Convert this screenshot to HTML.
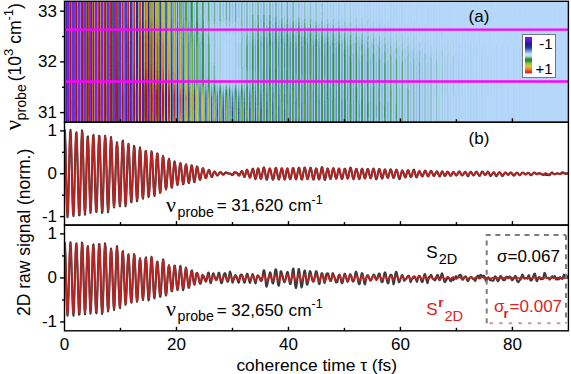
<!DOCTYPE html><html><head><meta charset="utf-8"><style>html,body{margin:0;padding:0;background:#fff;width:571px;height:374px;overflow:hidden}svg{display:block}text{font-family:"Liberation Sans",sans-serif;fill:#000}.r{fill:#dc1e1e}.s{font-family:"Liberation Serif",serif}</style></head><body>
<svg width="571" height="374" viewBox="0 0 571 374">
<defs>
<linearGradient id="cg" gradientUnits="userSpaceOnUse" x1="64" x2="570" gradientTransform="translate(0.25,0)">
<stop offset="0.0005" stop-color="#e6e6e6"/>
<stop offset="0.0015" stop-color="#f2f2f2"/>
<stop offset="0.0025" stop-color="#d8d8d8"/>
<stop offset="0.0035" stop-color="#a2a2a2"/>
<stop offset="0.0044" stop-color="#5e5e5e"/>
<stop offset="0.0054" stop-color="#1f1f1f"/>
<stop offset="0.0064" stop-color="#000000"/>
<stop offset="0.0074" stop-color="#000000"/>
<stop offset="0.0084" stop-color="#181818"/>
<stop offset="0.0094" stop-color="#535353"/>
<stop offset="0.0104" stop-color="#989898"/>
<stop offset="0.0114" stop-color="#d2d2d2"/>
<stop offset="0.0124" stop-color="#f0f0f0"/>
<stop offset="0.0133" stop-color="#eaeaea"/>
<stop offset="0.0143" stop-color="#c3c3c3"/>
<stop offset="0.0153" stop-color="#868686"/>
<stop offset="0.0163" stop-color="#434343"/>
<stop offset="0.0173" stop-color="#0d0d0d"/>
<stop offset="0.0183" stop-color="#000000"/>
<stop offset="0.0193" stop-color="#000000"/>
<stop offset="0.0203" stop-color="#292929"/>
<stop offset="0.0212" stop-color="#686868"/>
<stop offset="0.0222" stop-color="#aaaaaa"/>
<stop offset="0.0232" stop-color="#dddddd"/>
<stop offset="0.0242" stop-color="#f2f2f2"/>
<stop offset="0.0252" stop-color="#e4e4e4"/>
<stop offset="0.0262" stop-color="#b6b6b6"/>
<stop offset="0.0272" stop-color="#757575"/>
<stop offset="0.0282" stop-color="#343434"/>
<stop offset="0.0292" stop-color="#040404"/>
<stop offset="0.0301" stop-color="#000000"/>
<stop offset="0.0311" stop-color="#060606"/>
<stop offset="0.0321" stop-color="#373737"/>
<stop offset="0.0331" stop-color="#787878"/>
<stop offset="0.0341" stop-color="#b8b8b8"/>
<stop offset="0.0351" stop-color="#e5e5e5"/>
<stop offset="0.0361" stop-color="#f2f2f2"/>
<stop offset="0.0371" stop-color="#d9d9d9"/>
<stop offset="0.0380" stop-color="#a1a1a1"/>
<stop offset="0.0390" stop-color="#5b5b5b"/>
<stop offset="0.0400" stop-color="#1c1c1c"/>
<stop offset="0.0410" stop-color="#000000"/>
<stop offset="0.0420" stop-color="#000000"/>
<stop offset="0.0430" stop-color="#1f1f1f"/>
<stop offset="0.0440" stop-color="#5e5e5e"/>
<stop offset="0.0450" stop-color="#a4a4a4"/>
<stop offset="0.0459" stop-color="#dbdbdb"/>
<stop offset="0.0469" stop-color="#f2f2f2"/>
<stop offset="0.0479" stop-color="#e2e2e2"/>
<stop offset="0.0489" stop-color="#aeaeae"/>
<stop offset="0.0499" stop-color="#686868"/>
<stop offset="0.0509" stop-color="#252525"/>
<stop offset="0.0519" stop-color="#000000"/>
<stop offset="0.0529" stop-color="#000000"/>
<stop offset="0.0539" stop-color="#1a1a1a"/>
<stop offset="0.0548" stop-color="#595959"/>
<stop offset="0.0558" stop-color="#a1a1a1"/>
<stop offset="0.0568" stop-color="#dadada"/>
<stop offset="0.0578" stop-color="#f2f2f2"/>
<stop offset="0.0588" stop-color="#e4e4e4"/>
<stop offset="0.0598" stop-color="#b7b7b7"/>
<stop offset="0.0608" stop-color="#777777"/>
<stop offset="0.0618" stop-color="#363636"/>
<stop offset="0.0627" stop-color="#060606"/>
<stop offset="0.0637" stop-color="#000000"/>
<stop offset="0.0647" stop-color="#040404"/>
<stop offset="0.0657" stop-color="#333333"/>
<stop offset="0.0667" stop-color="#747474"/>
<stop offset="0.0677" stop-color="#b4b4b4"/>
<stop offset="0.0687" stop-color="#e2e2e2"/>
<stop offset="0.0697" stop-color="#f2f2f2"/>
<stop offset="0.0707" stop-color="#dfdfdf"/>
<stop offset="0.0716" stop-color="#aeaeae"/>
<stop offset="0.0726" stop-color="#6d6d6d"/>
<stop offset="0.0736" stop-color="#2d2d2d"/>
<stop offset="0.0746" stop-color="#010101"/>
<stop offset="0.0756" stop-color="#000000"/>
<stop offset="0.0766" stop-color="#090909"/>
<stop offset="0.0776" stop-color="#3c3c3c"/>
<stop offset="0.0786" stop-color="#7e7e7e"/>
<stop offset="0.0795" stop-color="#bcbcbc"/>
<stop offset="0.0805" stop-color="#e7e7e7"/>
<stop offset="0.0815" stop-color="#f2f2f2"/>
<stop offset="0.0825" stop-color="#d9d9d9"/>
<stop offset="0.0835" stop-color="#a5a5a5"/>
<stop offset="0.0845" stop-color="#636363"/>
<stop offset="0.0855" stop-color="#252525"/>
<stop offset="0.0865" stop-color="#000000"/>
<stop offset="0.0875" stop-color="#000000"/>
<stop offset="0.0884" stop-color="#0f0f0f"/>
<stop offset="0.0894" stop-color="#454545"/>
<stop offset="0.0904" stop-color="#888888"/>
<stop offset="0.0914" stop-color="#c4c4c4"/>
<stop offset="0.0924" stop-color="#ebebeb"/>
<stop offset="0.0934" stop-color="#f0f0f0"/>
<stop offset="0.0944" stop-color="#d3d3d3"/>
<stop offset="0.0954" stop-color="#9b9b9b"/>
<stop offset="0.0963" stop-color="#595959"/>
<stop offset="0.0973" stop-color="#1d1d1d"/>
<stop offset="0.0983" stop-color="#000000"/>
<stop offset="0.0993" stop-color="#000000"/>
<stop offset="0.1003" stop-color="#161616"/>
<stop offset="0.1013" stop-color="#4f4f4f"/>
<stop offset="0.1023" stop-color="#929292"/>
<stop offset="0.1033" stop-color="#cccccc"/>
<stop offset="0.1042" stop-color="#eeeeee"/>
<stop offset="0.1052" stop-color="#eeeeee"/>
<stop offset="0.1062" stop-color="#cacaca"/>
<stop offset="0.1072" stop-color="#8e8e8e"/>
<stop offset="0.1082" stop-color="#4a4a4a"/>
<stop offset="0.1092" stop-color="#121212"/>
<stop offset="0.1102" stop-color="#000000"/>
<stop offset="0.1112" stop-color="#000000"/>
<stop offset="0.1122" stop-color="#262626"/>
<stop offset="0.1131" stop-color="#656565"/>
<stop offset="0.1141" stop-color="#a8a8a8"/>
<stop offset="0.1151" stop-color="#dcdcdc"/>
<stop offset="0.1161" stop-color="#f2f2f2"/>
<stop offset="0.1171" stop-color="#e2e2e2"/>
<stop offset="0.1181" stop-color="#b0b0b0"/>
<stop offset="0.1191" stop-color="#6c6c6c"/>
<stop offset="0.1201" stop-color="#292929"/>
<stop offset="0.1210" stop-color="#000000"/>
<stop offset="0.1220" stop-color="#000000"/>
<stop offset="0.1230" stop-color="#171717"/>
<stop offset="0.1240" stop-color="#545454"/>
<stop offset="0.1250" stop-color="#9c9c9c"/>
<stop offset="0.1260" stop-color="#d9d9d9"/>
<stop offset="0.1270" stop-color="#f9f9f9"/>
<stop offset="0.1280" stop-color="#f3f3f3"/>
<stop offset="0.1290" stop-color="#cbcbcb"/>
<stop offset="0.1299" stop-color="#8d8d8d"/>
<stop offset="0.1309" stop-color="#4b4b4b"/>
<stop offset="0.1319" stop-color="#181818"/>
<stop offset="0.1329" stop-color="#040404"/>
<stop offset="0.1339" stop-color="#141414"/>
<stop offset="0.1349" stop-color="#444444"/>
<stop offset="0.1359" stop-color="#878787"/>
<stop offset="0.1369" stop-color="#cacaca"/>
<stop offset="0.1378" stop-color="#fafafa"/>
<stop offset="0.1388" stop-color="#ffffff"/>
<stop offset="0.1398" stop-color="#f6f6f6"/>
<stop offset="0.1408" stop-color="#c3c3c3"/>
<stop offset="0.1418" stop-color="#818181"/>
<stop offset="0.1428" stop-color="#434343"/>
<stop offset="0.1438" stop-color="#1b1b1b"/>
<stop offset="0.1448" stop-color="#151515"/>
<stop offset="0.1458" stop-color="#333333"/>
<stop offset="0.1467" stop-color="#6d6d6d"/>
<stop offset="0.1477" stop-color="#b2b2b2"/>
<stop offset="0.1487" stop-color="#f0f0f0"/>
<stop offset="0.1497" stop-color="#ffffff"/>
<stop offset="0.1507" stop-color="#ffffff"/>
<stop offset="0.1517" stop-color="#f4f4f4"/>
<stop offset="0.1527" stop-color="#b9b9b9"/>
<stop offset="0.1537" stop-color="#767676"/>
<stop offset="0.1546" stop-color="#3e3e3e"/>
<stop offset="0.1556" stop-color="#222222"/>
<stop offset="0.1566" stop-color="#292929"/>
<stop offset="0.1576" stop-color="#525252"/>
<stop offset="0.1586" stop-color="#929292"/>
<stop offset="0.1596" stop-color="#d5d5d5"/>
<stop offset="0.1606" stop-color="#ffffff"/>
<stop offset="0.1616" stop-color="#ffffff"/>
<stop offset="0.1625" stop-color="#ffffff"/>
<stop offset="0.1635" stop-color="#e1e1e1"/>
<stop offset="0.1645" stop-color="#9f9f9f"/>
<stop offset="0.1655" stop-color="#5e5e5e"/>
<stop offset="0.1665" stop-color="#2f2f2f"/>
<stop offset="0.1675" stop-color="#202020"/>
<stop offset="0.1685" stop-color="#363636"/>
<stop offset="0.1695" stop-color="#6a6a6a"/>
<stop offset="0.1705" stop-color="#adadad"/>
<stop offset="0.1714" stop-color="#ededed"/>
<stop offset="0.1724" stop-color="#ffffff"/>
<stop offset="0.1734" stop-color="#ffffff"/>
<stop offset="0.1744" stop-color="#ffffff"/>
<stop offset="0.1754" stop-color="#c5c5c5"/>
<stop offset="0.1764" stop-color="#808080"/>
<stop offset="0.1774" stop-color="#444444"/>
<stop offset="0.1784" stop-color="#232323"/>
<stop offset="0.1793" stop-color="#272727"/>
<stop offset="0.1803" stop-color="#4e4e4e"/>
<stop offset="0.1813" stop-color="#8e8e8e"/>
<stop offset="0.1823" stop-color="#d3d3d3"/>
<stop offset="0.1833" stop-color="#ffffff"/>
<stop offset="0.1843" stop-color="#ffffff"/>
<stop offset="0.1853" stop-color="#ffffff"/>
<stop offset="0.1863" stop-color="#e1e1e1"/>
<stop offset="0.1873" stop-color="#9f9f9f"/>
<stop offset="0.1882" stop-color="#5e5e5e"/>
<stop offset="0.1892" stop-color="#2f2f2f"/>
<stop offset="0.1902" stop-color="#202020"/>
<stop offset="0.1912" stop-color="#363636"/>
<stop offset="0.1922" stop-color="#6a6a6a"/>
<stop offset="0.1932" stop-color="#adadad"/>
<stop offset="0.1942" stop-color="#ededed"/>
<stop offset="0.1952" stop-color="#ffffff"/>
<stop offset="0.1961" stop-color="#ffffff"/>
<stop offset="0.1971" stop-color="#ffffff"/>
<stop offset="0.1981" stop-color="#cbcbcb"/>
<stop offset="0.1991" stop-color="#888888"/>
<stop offset="0.2001" stop-color="#4b4b4b"/>
<stop offset="0.2011" stop-color="#262626"/>
<stop offset="0.2021" stop-color="#232323"/>
<stop offset="0.2031" stop-color="#424242"/>
<stop offset="0.2041" stop-color="#7b7b7b"/>
<stop offset="0.2050" stop-color="#bebebe"/>
<stop offset="0.2060" stop-color="#f8f8f8"/>
<stop offset="0.2070" stop-color="#ffffff"/>
<stop offset="0.2080" stop-color="#ffffff"/>
<stop offset="0.2090" stop-color="#f4f4f4"/>
<stop offset="0.2100" stop-color="#b5b5b5"/>
<stop offset="0.2110" stop-color="#6f6f6f"/>
<stop offset="0.2120" stop-color="#373737"/>
<stop offset="0.2129" stop-color="#202020"/>
<stop offset="0.2139" stop-color="#303030"/>
<stop offset="0.2149" stop-color="#626262"/>
<stop offset="0.2159" stop-color="#a7a7a7"/>
<stop offset="0.2169" stop-color="#e9e9e9"/>
<stop offset="0.2179" stop-color="#ffffff"/>
<stop offset="0.2189" stop-color="#ffffff"/>
<stop offset="0.2199" stop-color="#ffffff"/>
<stop offset="0.2208" stop-color="#c8c8c8"/>
<stop offset="0.2218" stop-color="#848484"/>
<stop offset="0.2228" stop-color="#484848"/>
<stop offset="0.2238" stop-color="#252525"/>
<stop offset="0.2248" stop-color="#252525"/>
<stop offset="0.2258" stop-color="#484848"/>
<stop offset="0.2268" stop-color="#848484"/>
<stop offset="0.2278" stop-color="#c8c8c8"/>
<stop offset="0.2288" stop-color="#ffffff"/>
<stop offset="0.2297" stop-color="#ffffff"/>
<stop offset="0.2307" stop-color="#ffffff"/>
<stop offset="0.2317" stop-color="#e9e9e9"/>
<stop offset="0.2327" stop-color="#a7a7a7"/>
<stop offset="0.2337" stop-color="#626262"/>
<stop offset="0.2347" stop-color="#303030"/>
<stop offset="0.2357" stop-color="#202020"/>
<stop offset="0.2367" stop-color="#373737"/>
<stop offset="0.2376" stop-color="#6f6f6f"/>
<stop offset="0.2386" stop-color="#b5b5b5"/>
<stop offset="0.2396" stop-color="#f4f4f4"/>
<stop offset="0.2406" stop-color="#ffffff"/>
<stop offset="0.2416" stop-color="#ffffff"/>
<stop offset="0.2426" stop-color="#f6f6f6"/>
<stop offset="0.2436" stop-color="#b8b8b8"/>
<stop offset="0.2446" stop-color="#737373"/>
<stop offset="0.2456" stop-color="#3b3b3b"/>
<stop offset="0.2465" stop-color="#212121"/>
<stop offset="0.2475" stop-color="#2c2c2c"/>
<stop offset="0.2485" stop-color="#5a5a5a"/>
<stop offset="0.2495" stop-color="#9c9c9c"/>
<stop offset="0.2505" stop-color="#dfdfdf"/>
<stop offset="0.2515" stop-color="#ffffff"/>
<stop offset="0.2525" stop-color="#ffffff"/>
<stop offset="0.2535" stop-color="#ffffff"/>
<stop offset="0.2544" stop-color="#cbcbcb"/>
<stop offset="0.2554" stop-color="#828282"/>
<stop offset="0.2564" stop-color="#434343"/>
<stop offset="0.2574" stop-color="#222222"/>
<stop offset="0.2584" stop-color="#2a2a2a"/>
<stop offset="0.2594" stop-color="#595959"/>
<stop offset="0.2604" stop-color="#9f9f9f"/>
<stop offset="0.2614" stop-color="#e5e5e5"/>
<stop offset="0.2624" stop-color="#ffffff"/>
<stop offset="0.2633" stop-color="#ffffff"/>
<stop offset="0.2643" stop-color="#ffffff"/>
<stop offset="0.2653" stop-color="#c8c8c8"/>
<stop offset="0.2663" stop-color="#848484"/>
<stop offset="0.2673" stop-color="#484848"/>
<stop offset="0.2683" stop-color="#252525"/>
<stop offset="0.2693" stop-color="#242424"/>
<stop offset="0.2703" stop-color="#474747"/>
<stop offset="0.2712" stop-color="#838383"/>
<stop offset="0.2722" stop-color="#c6c6c6"/>
<stop offset="0.2732" stop-color="#fefefe"/>
<stop offset="0.2742" stop-color="#ffffff"/>
<stop offset="0.2752" stop-color="#ffffff"/>
<stop offset="0.2762" stop-color="#eaeaea"/>
<stop offset="0.2772" stop-color="#ababab"/>
<stop offset="0.2782" stop-color="#686868"/>
<stop offset="0.2792" stop-color="#333333"/>
<stop offset="0.2801" stop-color="#1a1a1a"/>
<stop offset="0.2811" stop-color="#242424"/>
<stop offset="0.2821" stop-color="#4e4e4e"/>
<stop offset="0.2831" stop-color="#8d8d8d"/>
<stop offset="0.2841" stop-color="#cecece"/>
<stop offset="0.2851" stop-color="#ffffff"/>
<stop offset="0.2861" stop-color="#ffffff"/>
<stop offset="0.2871" stop-color="#ffffff"/>
<stop offset="0.2880" stop-color="#d4d4d4"/>
<stop offset="0.2890" stop-color="#909090"/>
<stop offset="0.2900" stop-color="#4d4d4d"/>
<stop offset="0.2910" stop-color="#1f1f1f"/>
<stop offset="0.2920" stop-color="#131313"/>
<stop offset="0.2930" stop-color="#2d2d2d"/>
<stop offset="0.2940" stop-color="#646464"/>
<stop offset="0.2950" stop-color="#a8a8a8"/>
<stop offset="0.2959" stop-color="#e6e6e6"/>
<stop offset="0.2969" stop-color="#ffffff"/>
<stop offset="0.2979" stop-color="#ffffff"/>
<stop offset="0.2989" stop-color="#e4e4e4"/>
<stop offset="0.2999" stop-color="#a6a6a6"/>
<stop offset="0.3009" stop-color="#606060"/>
<stop offset="0.3019" stop-color="#272727"/>
<stop offset="0.3029" stop-color="#0d0d0d"/>
<stop offset="0.3039" stop-color="#171717"/>
<stop offset="0.3048" stop-color="#444444"/>
<stop offset="0.3058" stop-color="#868686"/>
<stop offset="0.3068" stop-color="#c9c9c9"/>
<stop offset="0.3078" stop-color="#f9f9f9"/>
<stop offset="0.3088" stop-color="#ffffff"/>
<stop offset="0.3098" stop-color="#f3f3f3"/>
<stop offset="0.3108" stop-color="#c4c4c4"/>
<stop offset="0.3118" stop-color="#858585"/>
<stop offset="0.3127" stop-color="#474747"/>
<stop offset="0.3137" stop-color="#191919"/>
<stop offset="0.3147" stop-color="#060606"/>
<stop offset="0.3157" stop-color="#141414"/>
<stop offset="0.3167" stop-color="#3f3f3f"/>
<stop offset="0.3177" stop-color="#7c7c7c"/>
<stop offset="0.3187" stop-color="#bbbbbb"/>
<stop offset="0.3197" stop-color="#ededed"/>
<stop offset="0.3207" stop-color="#ffffff"/>
<stop offset="0.3216" stop-color="#fcfcfc"/>
<stop offset="0.3226" stop-color="#d6d6d6"/>
<stop offset="0.3236" stop-color="#9b9b9b"/>
<stop offset="0.3246" stop-color="#5b5b5b"/>
<stop offset="0.3256" stop-color="#262626"/>
<stop offset="0.3266" stop-color="#ffffff"/>
<stop offset="0.3276" stop-color="#ffffff"/>
<stop offset="0.3286" stop-color="#dedede"/>
<stop offset="0.3295" stop-color="#a6a6a6"/>
<stop offset="0.3305" stop-color="#666666"/>
<stop offset="0.3315" stop-color="#2e2e2e"/>
<stop offset="0.3325" stop-color="#0c0c0c"/>
<stop offset="0.3335" stop-color="#090909"/>
<stop offset="0.3345" stop-color="#262626"/>
<stop offset="0.3355" stop-color="#5b5b5b"/>
<stop offset="0.3365" stop-color="#9b9b9b"/>
<stop offset="0.3375" stop-color="#d5d5d5"/>
<stop offset="0.3384" stop-color="#fcfcfc"/>
<stop offset="0.3394" stop-color="#ffffff"/>
<stop offset="0.3404" stop-color="#ececec"/>
<stop offset="0.3414" stop-color="#bbbbbb"/>
<stop offset="0.3424" stop-color="#7b7b7b"/>
<stop offset="0.3434" stop-color="#3f3f3f"/>
<stop offset="0.3444" stop-color="#141414"/>
<stop offset="0.3454" stop-color="#060606"/>
<stop offset="0.3463" stop-color="#191919"/>
<stop offset="0.3473" stop-color="#474747"/>
<stop offset="0.3483" stop-color="#858585"/>
<stop offset="0.3493" stop-color="#c3c3c3"/>
<stop offset="0.3503" stop-color="#f2f2f2"/>
<stop offset="0.3513" stop-color="#ffffff"/>
<stop offset="0.3523" stop-color="#f3f3f3"/>
<stop offset="0.3533" stop-color="#bababa"/>
<stop offset="0.3542" stop-color="#6f6f6f"/>
<stop offset="0.3552" stop-color="#2b2b2b"/>
<stop offset="0.3562" stop-color="#080808"/>
<stop offset="0.3572" stop-color="#111111"/>
<stop offset="0.3582" stop-color="#434343"/>
<stop offset="0.3592" stop-color="#8d8d8d"/>
<stop offset="0.3602" stop-color="#d4d4d4"/>
<stop offset="0.3612" stop-color="#ffffff"/>
<stop offset="0.3622" stop-color="#ffffff"/>
<stop offset="0.3631" stop-color="#dddddd"/>
<stop offset="0.3641" stop-color="#a1a1a1"/>
<stop offset="0.3651" stop-color="#5d5d5d"/>
<stop offset="0.3661" stop-color="#242424"/>
<stop offset="0.3671" stop-color="#080808"/>
<stop offset="0.3681" stop-color="#0f0f0f"/>
<stop offset="0.3691" stop-color="#383838"/>
<stop offset="0.3701" stop-color="#787878"/>
<stop offset="0.3710" stop-color="#bbbbbb"/>
<stop offset="0.3720" stop-color="#efefef"/>
<stop offset="0.3730" stop-color="#ffffff"/>
<stop offset="0.3740" stop-color="#f3f3f3"/>
<stop offset="0.3750" stop-color="#bcbcbc"/>
<stop offset="0.3760" stop-color="#727272"/>
<stop offset="0.3770" stop-color="#2f2f2f"/>
<stop offset="0.3780" stop-color="#090909"/>
<stop offset="0.3790" stop-color="#0e0e0e"/>
<stop offset="0.3799" stop-color="#3b3b3b"/>
<stop offset="0.3809" stop-color="#818181"/>
<stop offset="0.3819" stop-color="#c9c9c9"/>
<stop offset="0.3829" stop-color="#fafafa"/>
<stop offset="0.3839" stop-color="#ffffff"/>
<stop offset="0.3849" stop-color="#e6e6e6"/>
<stop offset="0.3859" stop-color="#aeaeae"/>
<stop offset="0.3869" stop-color="#6a6a6a"/>
<stop offset="0.3878" stop-color="#2d2d2d"/>
<stop offset="0.3888" stop-color="#0a0a0a"/>
<stop offset="0.3898" stop-color="#0a0a0a"/>
<stop offset="0.3908" stop-color="#2d2d2d"/>
<stop offset="0.3918" stop-color="#6a6a6a"/>
<stop offset="0.3928" stop-color="#aeaeae"/>
<stop offset="0.3938" stop-color="#e6e6e6"/>
<stop offset="0.3948" stop-color="#ffffff"/>
<stop offset="0.3958" stop-color="#fcfcfc"/>
<stop offset="0.3967" stop-color="#d4d4d4"/>
<stop offset="0.3977" stop-color="#969696"/>
<stop offset="0.3987" stop-color="#535353"/>
<stop offset="0.3997" stop-color="#1f1f1f"/>
<stop offset="0.4007" stop-color="#060606"/>
<stop offset="0.4017" stop-color="#111111"/>
<stop offset="0.4027" stop-color="#3c3c3c"/>
<stop offset="0.4037" stop-color="#7b7b7b"/>
<stop offset="0.4046" stop-color="#bdbdbd"/>
<stop offset="0.4056" stop-color="#efefef"/>
<stop offset="0.4066" stop-color="#ffffff"/>
<stop offset="0.4076" stop-color="#f7f7f7"/>
<stop offset="0.4086" stop-color="#cacaca"/>
<stop offset="0.4096" stop-color="#8c8c8c"/>
<stop offset="0.4106" stop-color="#4b4b4b"/>
<stop offset="0.4116" stop-color="#1a1a1a"/>
<stop offset="0.4125" stop-color="#060606"/>
<stop offset="0.4135" stop-color="#131313"/>
<stop offset="0.4145" stop-color="#3f3f3f"/>
<stop offset="0.4155" stop-color="#7e7e7e"/>
<stop offset="0.4165" stop-color="#bfbfbf"/>
<stop offset="0.4175" stop-color="#f0f0f0"/>
<stop offset="0.4185" stop-color="#ffffff"/>
<stop offset="0.4195" stop-color="#f6f6f6"/>
<stop offset="0.4205" stop-color="#cacaca"/>
<stop offset="0.4214" stop-color="#8c8c8c"/>
<stop offset="0.4224" stop-color="#4b4b4b"/>
<stop offset="0.4234" stop-color="#1a1a1a"/>
<stop offset="0.4244" stop-color="#060606"/>
<stop offset="0.4254" stop-color="#131313"/>
<stop offset="0.4264" stop-color="#3f3f3f"/>
<stop offset="0.4274" stop-color="#7e7e7e"/>
<stop offset="0.4284" stop-color="#bfbfbf"/>
<stop offset="0.4293" stop-color="#f0f0f0"/>
<stop offset="0.4303" stop-color="#ffffff"/>
<stop offset="0.4313" stop-color="#f4f4f4"/>
<stop offset="0.4323" stop-color="#c0c0c0"/>
<stop offset="0.4333" stop-color="#7a7a7a"/>
<stop offset="0.4343" stop-color="#373737"/>
<stop offset="0.4353" stop-color="#0d0d0d"/>
<stop offset="0.4363" stop-color="#090909"/>
<stop offset="0.4373" stop-color="#2c2c2c"/>
<stop offset="0.4382" stop-color="#6b6b6b"/>
<stop offset="0.4392" stop-color="#b3b3b3"/>
<stop offset="0.4402" stop-color="#ececec"/>
<stop offset="0.4412" stop-color="#ffffff"/>
<stop offset="0.4422" stop-color="#f5f5f5"/>
<stop offset="0.4432" stop-color="#c6c6c6"/>
<stop offset="0.4442" stop-color="#858585"/>
<stop offset="0.4452" stop-color="#434343"/>
<stop offset="0.4461" stop-color="#141414"/>
<stop offset="0.4471" stop-color="#050505"/>
<stop offset="0.4481" stop-color="#1b1b1b"/>
<stop offset="0.4491" stop-color="#4f4f4f"/>
<stop offset="0.4501" stop-color="#929292"/>
<stop offset="0.4511" stop-color="#d2d2d2"/>
<stop offset="0.4521" stop-color="#fbfbfb"/>
<stop offset="0.4531" stop-color="#ffffff"/>
<stop offset="0.4541" stop-color="#e6e6e6"/>
<stop offset="0.4550" stop-color="#adadad"/>
<stop offset="0.4560" stop-color="#696969"/>
<stop offset="0.4570" stop-color="#2d2d2d"/>
<stop offset="0.4580" stop-color="#0a0a0a"/>
<stop offset="0.4590" stop-color="#0a0a0a"/>
<stop offset="0.4600" stop-color="#2d2d2d"/>
<stop offset="0.4610" stop-color="#696969"/>
<stop offset="0.4620" stop-color="#adadad"/>
<stop offset="0.4629" stop-color="#e6e6e6"/>
<stop offset="0.4639" stop-color="#ffffff"/>
<stop offset="0.4649" stop-color="#fbfbfb"/>
<stop offset="0.4659" stop-color="#d2d2d2"/>
<stop offset="0.4669" stop-color="#929292"/>
<stop offset="0.4679" stop-color="#4f4f4f"/>
<stop offset="0.4689" stop-color="#1b1b1b"/>
<stop offset="0.4699" stop-color="#050505"/>
<stop offset="0.4708" stop-color="#141414"/>
<stop offset="0.4718" stop-color="#434343"/>
<stop offset="0.4728" stop-color="#848484"/>
<stop offset="0.4738" stop-color="#c6c6c6"/>
<stop offset="0.4748" stop-color="#f5f5f5"/>
<stop offset="0.4758" stop-color="#ffffff"/>
<stop offset="0.4768" stop-color="#eeeeee"/>
<stop offset="0.4778" stop-color="#bababa"/>
<stop offset="0.4788" stop-color="#777777"/>
<stop offset="0.4797" stop-color="#373737"/>
<stop offset="0.4807" stop-color="#0e0e0e"/>
<stop offset="0.4817" stop-color="#060606"/>
<stop offset="0.4827" stop-color="#232323"/>
<stop offset="0.4837" stop-color="#5c5c5c"/>
<stop offset="0.4847" stop-color="#a0a0a0"/>
<stop offset="0.4857" stop-color="#dcdcdc"/>
<stop offset="0.4867" stop-color="#ffffff"/>
<stop offset="0.4876" stop-color="#ffffff"/>
<stop offset="0.4886" stop-color="#dbdbdb"/>
<stop offset="0.4896" stop-color="#9d9d9d"/>
<stop offset="0.4906" stop-color="#585858"/>
<stop offset="0.4916" stop-color="#202020"/>
<stop offset="0.4926" stop-color="#050505"/>
<stop offset="0.4936" stop-color="#111111"/>
<stop offset="0.4946" stop-color="#3e3e3e"/>
<stop offset="0.4956" stop-color="#818181"/>
<stop offset="0.4965" stop-color="#c4c4c4"/>
<stop offset="0.4975" stop-color="#f4f4f4"/>
<stop offset="0.4985" stop-color="#ffffff"/>
<stop offset="0.4995" stop-color="#eeeeee"/>
<stop offset="0.5005" stop-color="#bababa"/>
<stop offset="0.5015" stop-color="#767676"/>
<stop offset="0.5025" stop-color="#373737"/>
<stop offset="0.5035" stop-color="#0e0e0e"/>
<stop offset="0.5044" stop-color="#060606"/>
<stop offset="0.5054" stop-color="#232323"/>
<stop offset="0.5064" stop-color="#5b5b5b"/>
<stop offset="0.5074" stop-color="#9f9f9f"/>
<stop offset="0.5084" stop-color="#dcdcdc"/>
<stop offset="0.5094" stop-color="#ffffff"/>
<stop offset="0.5104" stop-color="#ffffff"/>
<stop offset="0.5114" stop-color="#d9d9d9"/>
<stop offset="0.5124" stop-color="#999999"/>
<stop offset="0.5133" stop-color="#535353"/>
<stop offset="0.5143" stop-color="#1c1c1c"/>
<stop offset="0.5153" stop-color="#050505"/>
<stop offset="0.5163" stop-color="#141414"/>
<stop offset="0.5173" stop-color="#464646"/>
<stop offset="0.5183" stop-color="#8b8b8b"/>
<stop offset="0.5193" stop-color="#cecece"/>
<stop offset="0.5203" stop-color="#fafafa"/>
<stop offset="0.5212" stop-color="#ffffff"/>
<stop offset="0.5222" stop-color="#e5e5e5"/>
<stop offset="0.5232" stop-color="#ababab"/>
<stop offset="0.5242" stop-color="#666666"/>
<stop offset="0.5252" stop-color="#2a2a2a"/>
<stop offset="0.5262" stop-color="#080808"/>
<stop offset="0.5272" stop-color="#0a0a0a"/>
<stop offset="0.5282" stop-color="#303030"/>
<stop offset="0.5292" stop-color="#6e6e6e"/>
<stop offset="0.5301" stop-color="#b3b3b3"/>
<stop offset="0.5311" stop-color="#eaeaea"/>
<stop offset="0.5321" stop-color="#ffffff"/>
<stop offset="0.5331" stop-color="#f7f7f7"/>
<stop offset="0.5341" stop-color="#c9c9c9"/>
<stop offset="0.5351" stop-color="#888888"/>
<stop offset="0.5361" stop-color="#454545"/>
<stop offset="0.5371" stop-color="#141414"/>
<stop offset="0.5380" stop-color="#040404"/>
<stop offset="0.5390" stop-color="#1a1a1a"/>
<stop offset="0.5400" stop-color="#4e4e4e"/>
<stop offset="0.5410" stop-color="#929292"/>
<stop offset="0.5420" stop-color="#d2d2d2"/>
<stop offset="0.5430" stop-color="#fbfbfb"/>
<stop offset="0.5440" stop-color="#ffffff"/>
<stop offset="0.5450" stop-color="#e3e3e3"/>
<stop offset="0.5459" stop-color="#a9a9a9"/>
<stop offset="0.5469" stop-color="#646464"/>
<stop offset="0.5479" stop-color="#282828"/>
<stop offset="0.5489" stop-color="#070707"/>
<stop offset="0.5499" stop-color="#0b0b0b"/>
<stop offset="0.5509" stop-color="#313131"/>
<stop offset="0.5519" stop-color="#707070"/>
<stop offset="0.5529" stop-color="#b4b4b4"/>
<stop offset="0.5539" stop-color="#ebebeb"/>
<stop offset="0.5548" stop-color="#ffffff"/>
<stop offset="0.5558" stop-color="#f6f6f6"/>
<stop offset="0.5568" stop-color="#c7c7c7"/>
<stop offset="0.5578" stop-color="#858585"/>
<stop offset="0.5588" stop-color="#434343"/>
<stop offset="0.5598" stop-color="#131313"/>
<stop offset="0.5608" stop-color="#040404"/>
<stop offset="0.5618" stop-color="#1b1b1b"/>
<stop offset="0.5627" stop-color="#505050"/>
<stop offset="0.5637" stop-color="#949494"/>
<stop offset="0.5647" stop-color="#d3d3d3"/>
<stop offset="0.5657" stop-color="#fbfbfb"/>
<stop offset="0.5667" stop-color="#ffffff"/>
<stop offset="0.5677" stop-color="#e1e1e1"/>
<stop offset="0.5687" stop-color="#a6a6a6"/>
<stop offset="0.5697" stop-color="#626262"/>
<stop offset="0.5707" stop-color="#272727"/>
<stop offset="0.5716" stop-color="#070707"/>
<stop offset="0.5726" stop-color="#0b0b0b"/>
<stop offset="0.5736" stop-color="#333333"/>
<stop offset="0.5746" stop-color="#727272"/>
<stop offset="0.5756" stop-color="#b6b6b6"/>
<stop offset="0.5766" stop-color="#ececec"/>
<stop offset="0.5776" stop-color="#ffffff"/>
<stop offset="0.5786" stop-color="#f4f4f4"/>
<stop offset="0.5795" stop-color="#c5c5c5"/>
<stop offset="0.5805" stop-color="#838383"/>
<stop offset="0.5815" stop-color="#414141"/>
<stop offset="0.5825" stop-color="#121212"/>
<stop offset="0.5835" stop-color="#040404"/>
<stop offset="0.5845" stop-color="#1c1c1c"/>
<stop offset="0.5855" stop-color="#515151"/>
<stop offset="0.5865" stop-color="#969696"/>
<stop offset="0.5875" stop-color="#d5d5d5"/>
<stop offset="0.5884" stop-color="#fcfcfc"/>
<stop offset="0.5894" stop-color="#ffffff"/>
<stop offset="0.5904" stop-color="#dfdfdf"/>
<stop offset="0.5914" stop-color="#a4a4a4"/>
<stop offset="0.5924" stop-color="#5f5f5f"/>
<stop offset="0.5934" stop-color="#252525"/>
<stop offset="0.5944" stop-color="#060606"/>
<stop offset="0.5954" stop-color="#0c0c0c"/>
<stop offset="0.5963" stop-color="#343434"/>
<stop offset="0.5973" stop-color="#747474"/>
<stop offset="0.5983" stop-color="#b8b8b8"/>
<stop offset="0.5993" stop-color="#ededed"/>
<stop offset="0.6003" stop-color="#ffffff"/>
<stop offset="0.6013" stop-color="#f3f3f3"/>
<stop offset="0.6023" stop-color="#c3c3c3"/>
<stop offset="0.6033" stop-color="#808080"/>
<stop offset="0.6042" stop-color="#3e3e3e"/>
<stop offset="0.6052" stop-color="#111111"/>
<stop offset="0.6062" stop-color="#040404"/>
<stop offset="0.6072" stop-color="#1d1d1d"/>
<stop offset="0.6082" stop-color="#535353"/>
<stop offset="0.6092" stop-color="#989898"/>
<stop offset="0.6102" stop-color="#d6d6d6"/>
<stop offset="0.6112" stop-color="#fcfcfc"/>
<stop offset="0.6122" stop-color="#ffffff"/>
<stop offset="0.6131" stop-color="#dedede"/>
<stop offset="0.6141" stop-color="#a2a2a2"/>
<stop offset="0.6151" stop-color="#5d5d5d"/>
<stop offset="0.6161" stop-color="#232323"/>
<stop offset="0.6171" stop-color="#050505"/>
<stop offset="0.6181" stop-color="#0c0c0c"/>
<stop offset="0.6191" stop-color="#363636"/>
<stop offset="0.6201" stop-color="#767676"/>
<stop offset="0.6210" stop-color="#bababa"/>
<stop offset="0.6220" stop-color="#eeeeee"/>
<stop offset="0.6230" stop-color="#ffffff"/>
<stop offset="0.6240" stop-color="#f2f2f2"/>
<stop offset="0.6250" stop-color="#c1c1c1"/>
<stop offset="0.6260" stop-color="#7e7e7e"/>
<stop offset="0.6270" stop-color="#3c3c3c"/>
<stop offset="0.6280" stop-color="#0f0f0f"/>
<stop offset="0.6290" stop-color="#040404"/>
<stop offset="0.6299" stop-color="#1e1e1e"/>
<stop offset="0.6309" stop-color="#555555"/>
<stop offset="0.6319" stop-color="#9a9a9a"/>
<stop offset="0.6329" stop-color="#d8d8d8"/>
<stop offset="0.6339" stop-color="#fdfdfd"/>
<stop offset="0.6349" stop-color="#fefefe"/>
<stop offset="0.6359" stop-color="#dcdcdc"/>
<stop offset="0.6369" stop-color="#9f9f9f"/>
<stop offset="0.6378" stop-color="#5b5b5b"/>
<stop offset="0.6388" stop-color="#222222"/>
<stop offset="0.6398" stop-color="#050505"/>
<stop offset="0.6408" stop-color="#0d0d0d"/>
<stop offset="0.6418" stop-color="#373737"/>
<stop offset="0.6428" stop-color="#787878"/>
<stop offset="0.6438" stop-color="#bcbcbc"/>
<stop offset="0.6448" stop-color="#efefef"/>
<stop offset="0.6458" stop-color="#ffffff"/>
<stop offset="0.6467" stop-color="#f1f1f1"/>
<stop offset="0.6477" stop-color="#bfbfbf"/>
<stop offset="0.6487" stop-color="#7c7c7c"/>
<stop offset="0.6497" stop-color="#3a3a3a"/>
<stop offset="0.6507" stop-color="#0e0e0e"/>
<stop offset="0.6517" stop-color="#040404"/>
<stop offset="0.6527" stop-color="#1f1f1f"/>
<stop offset="0.6537" stop-color="#575757"/>
<stop offset="0.6546" stop-color="#9c9c9c"/>
<stop offset="0.6556" stop-color="#d9d9d9"/>
<stop offset="0.6566" stop-color="#fdfdfd"/>
<stop offset="0.6576" stop-color="#fefefe"/>
<stop offset="0.6586" stop-color="#dadada"/>
<stop offset="0.6596" stop-color="#9d9d9d"/>
<stop offset="0.6606" stop-color="#585858"/>
<stop offset="0.6616" stop-color="#202020"/>
<stop offset="0.6625" stop-color="#040404"/>
<stop offset="0.6635" stop-color="#0e0e0e"/>
<stop offset="0.6645" stop-color="#393939"/>
<stop offset="0.6655" stop-color="#7a7a7a"/>
<stop offset="0.6665" stop-color="#bdbdbd"/>
<stop offset="0.6675" stop-color="#f0f0f0"/>
<stop offset="0.6685" stop-color="#ffffff"/>
<stop offset="0.6695" stop-color="#efefef"/>
<stop offset="0.6705" stop-color="#bdbdbd"/>
<stop offset="0.6714" stop-color="#797979"/>
<stop offset="0.6724" stop-color="#383838"/>
<stop offset="0.6734" stop-color="#0d0d0d"/>
<stop offset="0.6744" stop-color="#040404"/>
<stop offset="0.6754" stop-color="#202020"/>
<stop offset="0.6764" stop-color="#595959"/>
<stop offset="0.6774" stop-color="#9e9e9e"/>
<stop offset="0.6784" stop-color="#dadada"/>
<stop offset="0.6793" stop-color="#fefefe"/>
<stop offset="0.6803" stop-color="#fdfdfd"/>
<stop offset="0.6813" stop-color="#d8d8d8"/>
<stop offset="0.6823" stop-color="#9b9b9b"/>
<stop offset="0.6833" stop-color="#565656"/>
<stop offset="0.6843" stop-color="#1e1e1e"/>
<stop offset="0.6853" stop-color="#040404"/>
<stop offset="0.6863" stop-color="#0e0e0e"/>
<stop offset="0.6873" stop-color="#3b3b3b"/>
<stop offset="0.6882" stop-color="#7c7c7c"/>
<stop offset="0.6892" stop-color="#bfbfbf"/>
<stop offset="0.6902" stop-color="#f1f1f1"/>
<stop offset="0.6912" stop-color="#ffffff"/>
<stop offset="0.6922" stop-color="#eeeeee"/>
<stop offset="0.6932" stop-color="#bbbbbb"/>
<stop offset="0.6942" stop-color="#777777"/>
<stop offset="0.6952" stop-color="#363636"/>
<stop offset="0.6961" stop-color="#0c0c0c"/>
<stop offset="0.6971" stop-color="#040404"/>
<stop offset="0.6981" stop-color="#212121"/>
<stop offset="0.6991" stop-color="#5b5b5b"/>
<stop offset="0.7001" stop-color="#a0a0a0"/>
<stop offset="0.7011" stop-color="#dcdcdc"/>
<stop offset="0.7021" stop-color="#fefefe"/>
<stop offset="0.7031" stop-color="#fcfcfc"/>
<stop offset="0.7041" stop-color="#d6d6d6"/>
<stop offset="0.7050" stop-color="#989898"/>
<stop offset="0.7060" stop-color="#545454"/>
<stop offset="0.7070" stop-color="#1d1d1d"/>
<stop offset="0.7080" stop-color="#030303"/>
<stop offset="0.7090" stop-color="#0f0f0f"/>
<stop offset="0.7100" stop-color="#3c3c3c"/>
<stop offset="0.7110" stop-color="#7e7e7e"/>
<stop offset="0.7120" stop-color="#c1c1c1"/>
<stop offset="0.7129" stop-color="#f1f1f1"/>
<stop offset="0.7139" stop-color="#ffffff"/>
<stop offset="0.7149" stop-color="#ececec"/>
<stop offset="0.7159" stop-color="#b8b8b8"/>
<stop offset="0.7169" stop-color="#747474"/>
<stop offset="0.7179" stop-color="#343434"/>
<stop offset="0.7189" stop-color="#0b0b0b"/>
<stop offset="0.7199" stop-color="#050505"/>
<stop offset="0.7208" stop-color="#232323"/>
<stop offset="0.7218" stop-color="#5d5d5d"/>
<stop offset="0.7228" stop-color="#a1a1a1"/>
<stop offset="0.7238" stop-color="#dddddd"/>
<stop offset="0.7248" stop-color="#fefefe"/>
<stop offset="0.7258" stop-color="#fbfbfb"/>
<stop offset="0.7268" stop-color="#d5d5d5"/>
<stop offset="0.7278" stop-color="#969696"/>
<stop offset="0.7288" stop-color="#525252"/>
<stop offset="0.7297" stop-color="#1b1b1b"/>
<stop offset="0.7307" stop-color="#030303"/>
<stop offset="0.7317" stop-color="#101010"/>
<stop offset="0.7327" stop-color="#3e3e3e"/>
<stop offset="0.7337" stop-color="#808080"/>
<stop offset="0.7347" stop-color="#c3c3c3"/>
<stop offset="0.7357" stop-color="#f2f2f2"/>
<stop offset="0.7367" stop-color="#ffffff"/>
<stop offset="0.7376" stop-color="#eaeaea"/>
<stop offset="0.7386" stop-color="#b3b3b3"/>
<stop offset="0.7396" stop-color="#6d6d6d"/>
<stop offset="0.7406" stop-color="#2d2d2d"/>
<stop offset="0.7416" stop-color="#070707"/>
<stop offset="0.7426" stop-color="#070707"/>
<stop offset="0.7436" stop-color="#2d2d2d"/>
<stop offset="0.7446" stop-color="#6c6c6c"/>
<stop offset="0.7456" stop-color="#b3b3b3"/>
<stop offset="0.7465" stop-color="#eaeaea"/>
<stop offset="0.7475" stop-color="#ffffff"/>
<stop offset="0.7485" stop-color="#f0f0f0"/>
<stop offset="0.7495" stop-color="#bbbbbb"/>
<stop offset="0.7505" stop-color="#737373"/>
<stop offset="0.7515" stop-color="#303030"/>
<stop offset="0.7525" stop-color="#080808"/>
<stop offset="0.7535" stop-color="#080808"/>
<stop offset="0.7544" stop-color="#303030"/>
<stop offset="0.7554" stop-color="#737373"/>
<stop offset="0.7564" stop-color="#bbbbbb"/>
<stop offset="0.7574" stop-color="#f0f0f0"/>
<stop offset="0.7584" stop-color="#ffffff"/>
<stop offset="0.7594" stop-color="#eaeaea"/>
<stop offset="0.7604" stop-color="#b5b5b5"/>
<stop offset="0.7614" stop-color="#707070"/>
<stop offset="0.7624" stop-color="#313131"/>
<stop offset="0.7633" stop-color="#090909"/>
<stop offset="0.7643" stop-color="#050505"/>
<stop offset="0.7653" stop-color="#262626"/>
<stop offset="0.7663" stop-color="#626262"/>
<stop offset="0.7673" stop-color="#a8a8a8"/>
<stop offset="0.7683" stop-color="#e2e2e2"/>
<stop offset="0.7693" stop-color="#ffffff"/>
<stop offset="0.7703" stop-color="#f8f8f8"/>
<stop offset="0.7712" stop-color="#cfcfcf"/>
<stop offset="0.7722" stop-color="#8f8f8f"/>
<stop offset="0.7732" stop-color="#4c4c4c"/>
<stop offset="0.7742" stop-color="#181818"/>
<stop offset="0.7752" stop-color="#020202"/>
<stop offset="0.7762" stop-color="#111111"/>
<stop offset="0.7772" stop-color="#404040"/>
<stop offset="0.7782" stop-color="#828282"/>
<stop offset="0.7792" stop-color="#c3c3c3"/>
<stop offset="0.7801" stop-color="#f2f2f2"/>
<stop offset="0.7811" stop-color="#ffffff"/>
<stop offset="0.7821" stop-color="#ebebeb"/>
<stop offset="0.7831" stop-color="#b6b6b6"/>
<stop offset="0.7841" stop-color="#727272"/>
<stop offset="0.7851" stop-color="#333333"/>
<stop offset="0.7861" stop-color="#0a0a0a"/>
<stop offset="0.7871" stop-color="#040404"/>
<stop offset="0.7880" stop-color="#222222"/>
<stop offset="0.7890" stop-color="#5c5c5c"/>
<stop offset="0.7900" stop-color="#a1a1a1"/>
<stop offset="0.7910" stop-color="#dcdcdc"/>
<stop offset="0.7920" stop-color="#fdfdfd"/>
<stop offset="0.7930" stop-color="#fbfbfb"/>
<stop offset="0.7940" stop-color="#d5d5d5"/>
<stop offset="0.7950" stop-color="#979797"/>
<stop offset="0.7959" stop-color="#535353"/>
<stop offset="0.7969" stop-color="#1c1c1c"/>
<stop offset="0.7979" stop-color="#030303"/>
<stop offset="0.7989" stop-color="#0e0e0e"/>
<stop offset="0.7999" stop-color="#3b3b3b"/>
<stop offset="0.8009" stop-color="#7c7c7c"/>
<stop offset="0.8019" stop-color="#bfbfbf"/>
<stop offset="0.8029" stop-color="#f0f0f0"/>
<stop offset="0.8039" stop-color="#ffffff"/>
<stop offset="0.8048" stop-color="#ededed"/>
<stop offset="0.8058" stop-color="#bababa"/>
<stop offset="0.8068" stop-color="#767676"/>
<stop offset="0.8078" stop-color="#363636"/>
<stop offset="0.8088" stop-color="#0b0b0b"/>
<stop offset="0.8098" stop-color="#030303"/>
<stop offset="0.8108" stop-color="#1f1f1f"/>
<stop offset="0.8118" stop-color="#585858"/>
<stop offset="0.8127" stop-color="#9d9d9d"/>
<stop offset="0.8137" stop-color="#d9d9d9"/>
<stop offset="0.8147" stop-color="#fcfcfc"/>
<stop offset="0.8157" stop-color="#fcfcfc"/>
<stop offset="0.8167" stop-color="#d8d8d8"/>
<stop offset="0.8177" stop-color="#9b9b9b"/>
<stop offset="0.8187" stop-color="#565656"/>
<stop offset="0.8197" stop-color="#1e1e1e"/>
<stop offset="0.8207" stop-color="#030303"/>
<stop offset="0.8216" stop-color="#0c0c0c"/>
<stop offset="0.8226" stop-color="#373737"/>
<stop offset="0.8236" stop-color="#787878"/>
<stop offset="0.8246" stop-color="#bbbbbb"/>
<stop offset="0.8256" stop-color="#eeeeee"/>
<stop offset="0.8266" stop-color="#ffffff"/>
<stop offset="0.8276" stop-color="#efefef"/>
<stop offset="0.8286" stop-color="#bdbdbd"/>
<stop offset="0.8295" stop-color="#7a7a7a"/>
<stop offset="0.8305" stop-color="#393939"/>
<stop offset="0.8315" stop-color="#0d0d0d"/>
<stop offset="0.8325" stop-color="#020202"/>
<stop offset="0.8335" stop-color="#1d1d1d"/>
<stop offset="0.8345" stop-color="#545454"/>
<stop offset="0.8355" stop-color="#989898"/>
<stop offset="0.8365" stop-color="#d6d6d6"/>
<stop offset="0.8375" stop-color="#fbfbfb"/>
<stop offset="0.8384" stop-color="#fdfdfd"/>
<stop offset="0.8394" stop-color="#dadada"/>
<stop offset="0.8404" stop-color="#9e9e9e"/>
<stop offset="0.8414" stop-color="#5a5a5a"/>
<stop offset="0.8424" stop-color="#202020"/>
<stop offset="0.8434" stop-color="#030303"/>
<stop offset="0.8444" stop-color="#0a0a0a"/>
<stop offset="0.8454" stop-color="#343434"/>
<stop offset="0.8463" stop-color="#747474"/>
<stop offset="0.8473" stop-color="#b7b7b7"/>
<stop offset="0.8483" stop-color="#ebebeb"/>
<stop offset="0.8493" stop-color="#ffffff"/>
<stop offset="0.8503" stop-color="#f0f0f0"/>
<stop offset="0.8513" stop-color="#c0c0c0"/>
<stop offset="0.8523" stop-color="#7e7e7e"/>
<stop offset="0.8533" stop-color="#3c3c3c"/>
<stop offset="0.8542" stop-color="#0e0e0e"/>
<stop offset="0.8552" stop-color="#020202"/>
<stop offset="0.8562" stop-color="#1a1a1a"/>
<stop offset="0.8572" stop-color="#505050"/>
<stop offset="0.8582" stop-color="#949494"/>
<stop offset="0.8592" stop-color="#d3d3d3"/>
<stop offset="0.8602" stop-color="#f9f9f9"/>
<stop offset="0.8612" stop-color="#fdfdfd"/>
<stop offset="0.8622" stop-color="#dddddd"/>
<stop offset="0.8631" stop-color="#a2a2a2"/>
<stop offset="0.8641" stop-color="#5d5d5d"/>
<stop offset="0.8651" stop-color="#232323"/>
<stop offset="0.8661" stop-color="#040404"/>
<stop offset="0.8671" stop-color="#090909"/>
<stop offset="0.8681" stop-color="#313131"/>
<stop offset="0.8691" stop-color="#707070"/>
<stop offset="0.8701" stop-color="#b4b4b4"/>
<stop offset="0.8710" stop-color="#e9e9e9"/>
<stop offset="0.8720" stop-color="#ffffff"/>
<stop offset="0.8730" stop-color="#f2f2f2"/>
<stop offset="0.8740" stop-color="#c3c3c3"/>
<stop offset="0.8750" stop-color="#818181"/>
<stop offset="0.8760" stop-color="#3f3f3f"/>
<stop offset="0.8770" stop-color="#101010"/>
<stop offset="0.8780" stop-color="#010101"/>
<stop offset="0.8790" stop-color="#181818"/>
<stop offset="0.8799" stop-color="#4c4c4c"/>
<stop offset="0.8809" stop-color="#909090"/>
<stop offset="0.8819" stop-color="#cfcfcf"/>
<stop offset="0.8829" stop-color="#f8f8f8"/>
<stop offset="0.8839" stop-color="#fefefe"/>
<stop offset="0.8849" stop-color="#dfdfdf"/>
<stop offset="0.8859" stop-color="#a6a6a6"/>
<stop offset="0.8869" stop-color="#616161"/>
<stop offset="0.8878" stop-color="#252525"/>
<stop offset="0.8888" stop-color="#040404"/>
<stop offset="0.8898" stop-color="#070707"/>
<stop offset="0.8908" stop-color="#2d2d2d"/>
<stop offset="0.8918" stop-color="#6b6b6b"/>
<stop offset="0.8928" stop-color="#b0b0b0"/>
<stop offset="0.8938" stop-color="#e6e6e6"/>
<stop offset="0.8948" stop-color="#ffffff"/>
<stop offset="0.8958" stop-color="#f4f4f4"/>
<stop offset="0.8967" stop-color="#c7c7c7"/>
<stop offset="0.8977" stop-color="#858585"/>
<stop offset="0.8987" stop-color="#434343"/>
<stop offset="0.8997" stop-color="#121212"/>
<stop offset="0.9007" stop-color="#010101"/>
<stop offset="0.9017" stop-color="#151515"/>
<stop offset="0.9027" stop-color="#484848"/>
<stop offset="0.9037" stop-color="#8c8c8c"/>
<stop offset="0.9046" stop-color="#cccccc"/>
<stop offset="0.9056" stop-color="#f6f6f6"/>
<stop offset="0.9066" stop-color="#fefefe"/>
<stop offset="0.9076" stop-color="#e2e2e2"/>
<stop offset="0.9086" stop-color="#a9a9a9"/>
<stop offset="0.9096" stop-color="#656565"/>
<stop offset="0.9106" stop-color="#282828"/>
<stop offset="0.9116" stop-color="#050505"/>
<stop offset="0.9125" stop-color="#060606"/>
<stop offset="0.9135" stop-color="#2a2a2a"/>
<stop offset="0.9145" stop-color="#676767"/>
<stop offset="0.9155" stop-color="#acacac"/>
<stop offset="0.9165" stop-color="#e4e4e4"/>
<stop offset="0.9175" stop-color="#ffffff"/>
<stop offset="0.9185" stop-color="#f5f5f5"/>
<stop offset="0.9195" stop-color="#cacaca"/>
<stop offset="0.9205" stop-color="#898989"/>
<stop offset="0.9214" stop-color="#464646"/>
<stop offset="0.9224" stop-color="#141414"/>
<stop offset="0.9234" stop-color="#010101"/>
<stop offset="0.9244" stop-color="#131313"/>
<stop offset="0.9254" stop-color="#454545"/>
<stop offset="0.9264" stop-color="#888888"/>
<stop offset="0.9274" stop-color="#c9c9c9"/>
<stop offset="0.9284" stop-color="#f4f4f4"/>
<stop offset="0.9293" stop-color="#ffffff"/>
<stop offset="0.9303" stop-color="#e4e4e4"/>
<stop offset="0.9313" stop-color="#adadad"/>
<stop offset="0.9323" stop-color="#686868"/>
<stop offset="0.9333" stop-color="#2b2b2b"/>
<stop offset="0.9343" stop-color="#060606"/>
<stop offset="0.9353" stop-color="#050505"/>
<stop offset="0.9363" stop-color="#272727"/>
<stop offset="0.9373" stop-color="#636363"/>
<stop offset="0.9382" stop-color="#a8a8a8"/>
<stop offset="0.9392" stop-color="#e1e1e1"/>
<stop offset="0.9402" stop-color="#fefefe"/>
<stop offset="0.9412" stop-color="#f6f6f6"/>
<stop offset="0.9422" stop-color="#cdcdcd"/>
<stop offset="0.9432" stop-color="#8d8d8d"/>
<stop offset="0.9442" stop-color="#494949"/>
<stop offset="0.9452" stop-color="#151515"/>
<stop offset="0.9461" stop-color="#010101"/>
<stop offset="0.9471" stop-color="#111111"/>
<stop offset="0.9481" stop-color="#414141"/>
<stop offset="0.9491" stop-color="#848484"/>
<stop offset="0.9501" stop-color="#c5c5c5"/>
<stop offset="0.9511" stop-color="#f3f3f3"/>
<stop offset="0.9521" stop-color="#ffffff"/>
<stop offset="0.9531" stop-color="#e6e6e6"/>
<stop offset="0.9541" stop-color="#b0b0b0"/>
<stop offset="0.9550" stop-color="#6c6c6c"/>
<stop offset="0.9560" stop-color="#2e2e2e"/>
<stop offset="0.9570" stop-color="#070707"/>
<stop offset="0.9580" stop-color="#030303"/>
<stop offset="0.9590" stop-color="#242424"/>
<stop offset="0.9600" stop-color="#5f5f5f"/>
<stop offset="0.9610" stop-color="#a4a4a4"/>
<stop offset="0.9620" stop-color="#dedede"/>
<stop offset="0.9629" stop-color="#fdfdfd"/>
<stop offset="0.9639" stop-color="#f8f8f8"/>
<stop offset="0.9649" stop-color="#d0d0d0"/>
<stop offset="0.9659" stop-color="#919191"/>
<stop offset="0.9669" stop-color="#4d4d4d"/>
<stop offset="0.9679" stop-color="#171717"/>
<stop offset="0.9689" stop-color="#010101"/>
<stop offset="0.9699" stop-color="#0f0f0f"/>
<stop offset="0.9708" stop-color="#3d3d3d"/>
<stop offset="0.9718" stop-color="#7f7f7f"/>
<stop offset="0.9728" stop-color="#c1c1c1"/>
<stop offset="0.9738" stop-color="#f1f1f1"/>
<stop offset="0.9748" stop-color="#ffffff"/>
<stop offset="0.9758" stop-color="#e9e9e9"/>
<stop offset="0.9768" stop-color="#b4b4b4"/>
<stop offset="0.9778" stop-color="#707070"/>
<stop offset="0.9788" stop-color="#313131"/>
<stop offset="0.9797" stop-color="#080808"/>
<stop offset="0.9807" stop-color="#020202"/>
<stop offset="0.9817" stop-color="#212121"/>
<stop offset="0.9827" stop-color="#5b5b5b"/>
<stop offset="0.9837" stop-color="#a0a0a0"/>
<stop offset="0.9847" stop-color="#dbdbdb"/>
<stop offset="0.9857" stop-color="#fcfcfc"/>
<stop offset="0.9867" stop-color="#f9f9f9"/>
<stop offset="0.9876" stop-color="#d3d3d3"/>
<stop offset="0.9886" stop-color="#949494"/>
<stop offset="0.9896" stop-color="#505050"/>
<stop offset="0.9906" stop-color="#1a1a1a"/>
<stop offset="0.9916" stop-color="#010101"/>
<stop offset="0.9926" stop-color="#0d0d0d"/>
<stop offset="0.9936" stop-color="#3a3a3a"/>
<stop offset="0.9946" stop-color="#7b7b7b"/>
<stop offset="0.9956" stop-color="#bebebe"/>
<stop offset="0.9965" stop-color="#eeeeee"/>
<stop offset="0.9975" stop-color="#ffffff"/>
<stop offset="0.9985" stop-color="#ebebeb"/>
<stop offset="0.9995" stop-color="#b7b7b7"/>
</linearGradient>
<linearGradient id="cg2" href="#cg" gradientTransform="translate(-0.25,0)"/>
<linearGradient id="a0" gradientUnits="userSpaceOnUse" x1="64" x2="570">
<stop offset="0.0000" stop-color="#a6a6a6"/>
<stop offset="0.0711" stop-color="#808080"/>
<stop offset="0.1107" stop-color="#595959"/>
<stop offset="0.1403" stop-color="#404040"/>
<stop offset="0.1700" stop-color="#333333"/>
<stop offset="0.1996" stop-color="#292929"/>
<stop offset="0.2292" stop-color="#1d1d1d"/>
<stop offset="0.2589" stop-color="#101010"/>
<stop offset="0.2885" stop-color="#0b0b0b"/>
<stop offset="0.3182" stop-color="#0b0b0b"/>
<stop offset="0.3478" stop-color="#0b0b0b"/>
<stop offset="0.3775" stop-color="#0b0b0b"/>
<stop offset="0.4071" stop-color="#0b0b0b"/>
<stop offset="0.4664" stop-color="#090909"/>
<stop offset="0.5455" stop-color="#060606"/>
<stop offset="0.6245" stop-color="#040404"/>
<stop offset="0.7036" stop-color="#030303"/>
<stop offset="0.7826" stop-color="#020202"/>
<stop offset="0.8617" stop-color="#010101"/>
<stop offset="0.9407" stop-color="#010101"/>
<stop offset="0.9980" stop-color="#010101"/>
</linearGradient>
<linearGradient id="a1" gradientUnits="userSpaceOnUse" x1="64" x2="570">
<stop offset="0.0000" stop-color="#a6a6a6"/>
<stop offset="0.0711" stop-color="#808080"/>
<stop offset="0.1107" stop-color="#595959"/>
<stop offset="0.1403" stop-color="#404040"/>
<stop offset="0.1700" stop-color="#333333"/>
<stop offset="0.1996" stop-color="#292929"/>
<stop offset="0.2292" stop-color="#1d1d1d"/>
<stop offset="0.2589" stop-color="#101010"/>
<stop offset="0.2885" stop-color="#0b0b0b"/>
<stop offset="0.3182" stop-color="#0b0b0b"/>
<stop offset="0.3478" stop-color="#0b0b0b"/>
<stop offset="0.3775" stop-color="#0b0b0b"/>
<stop offset="0.4071" stop-color="#0b0b0b"/>
<stop offset="0.4664" stop-color="#090909"/>
<stop offset="0.5455" stop-color="#060606"/>
<stop offset="0.6245" stop-color="#040404"/>
<stop offset="0.7036" stop-color="#030303"/>
<stop offset="0.7826" stop-color="#020202"/>
<stop offset="0.8617" stop-color="#010101"/>
<stop offset="0.9407" stop-color="#010101"/>
<stop offset="0.9980" stop-color="#010101"/>
</linearGradient>
<linearGradient id="a2" gradientUnits="userSpaceOnUse" x1="64" x2="570">
<stop offset="0.0000" stop-color="#a6a6a6"/>
<stop offset="0.0711" stop-color="#808080"/>
<stop offset="0.1107" stop-color="#595959"/>
<stop offset="0.1403" stop-color="#404040"/>
<stop offset="0.1700" stop-color="#333333"/>
<stop offset="0.1996" stop-color="#292929"/>
<stop offset="0.2292" stop-color="#1d1d1d"/>
<stop offset="0.2589" stop-color="#101010"/>
<stop offset="0.2885" stop-color="#0b0b0b"/>
<stop offset="0.3182" stop-color="#0b0b0b"/>
<stop offset="0.3478" stop-color="#0b0b0b"/>
<stop offset="0.3775" stop-color="#0b0b0b"/>
<stop offset="0.4071" stop-color="#0b0b0b"/>
<stop offset="0.4664" stop-color="#090909"/>
<stop offset="0.5455" stop-color="#060606"/>
<stop offset="0.6245" stop-color="#040404"/>
<stop offset="0.7036" stop-color="#030303"/>
<stop offset="0.7826" stop-color="#020202"/>
<stop offset="0.8617" stop-color="#010101"/>
<stop offset="0.9407" stop-color="#010101"/>
<stop offset="0.9980" stop-color="#010101"/>
</linearGradient>
<linearGradient id="a3" gradientUnits="userSpaceOnUse" x1="64" x2="570">
<stop offset="0.0000" stop-color="#a6a6a6"/>
<stop offset="0.0711" stop-color="#808080"/>
<stop offset="0.1107" stop-color="#595959"/>
<stop offset="0.1403" stop-color="#404040"/>
<stop offset="0.1700" stop-color="#333333"/>
<stop offset="0.1996" stop-color="#292929"/>
<stop offset="0.2292" stop-color="#1d1d1d"/>
<stop offset="0.2589" stop-color="#101010"/>
<stop offset="0.2885" stop-color="#0b0b0b"/>
<stop offset="0.3182" stop-color="#0b0b0b"/>
<stop offset="0.3478" stop-color="#0b0b0b"/>
<stop offset="0.3775" stop-color="#0b0b0b"/>
<stop offset="0.4071" stop-color="#0b0b0b"/>
<stop offset="0.4664" stop-color="#090909"/>
<stop offset="0.5455" stop-color="#060606"/>
<stop offset="0.6245" stop-color="#040404"/>
<stop offset="0.7036" stop-color="#030303"/>
<stop offset="0.7826" stop-color="#020202"/>
<stop offset="0.8617" stop-color="#010101"/>
<stop offset="0.9407" stop-color="#010101"/>
<stop offset="0.9980" stop-color="#010101"/>
</linearGradient>
<linearGradient id="a4" gradientUnits="userSpaceOnUse" x1="64" x2="570">
<stop offset="0.0000" stop-color="#a6a6a6"/>
<stop offset="0.0711" stop-color="#808080"/>
<stop offset="0.1107" stop-color="#595959"/>
<stop offset="0.1403" stop-color="#404040"/>
<stop offset="0.1700" stop-color="#333333"/>
<stop offset="0.1996" stop-color="#292929"/>
<stop offset="0.2292" stop-color="#1d1d1d"/>
<stop offset="0.2589" stop-color="#101010"/>
<stop offset="0.2885" stop-color="#0b0b0b"/>
<stop offset="0.3182" stop-color="#0b0b0b"/>
<stop offset="0.3478" stop-color="#0b0b0b"/>
<stop offset="0.3775" stop-color="#0b0b0b"/>
<stop offset="0.4071" stop-color="#0b0b0b"/>
<stop offset="0.4664" stop-color="#090909"/>
<stop offset="0.5455" stop-color="#060606"/>
<stop offset="0.6245" stop-color="#040404"/>
<stop offset="0.7036" stop-color="#030303"/>
<stop offset="0.7826" stop-color="#020202"/>
<stop offset="0.8617" stop-color="#010101"/>
<stop offset="0.9407" stop-color="#010101"/>
<stop offset="0.9980" stop-color="#010101"/>
</linearGradient>
<linearGradient id="a5" gradientUnits="userSpaceOnUse" x1="64" x2="570">
<stop offset="0.0000" stop-color="#a6a6a6"/>
<stop offset="0.0711" stop-color="#808080"/>
<stop offset="0.1107" stop-color="#595959"/>
<stop offset="0.1403" stop-color="#404040"/>
<stop offset="0.1700" stop-color="#333333"/>
<stop offset="0.1996" stop-color="#292929"/>
<stop offset="0.2292" stop-color="#1d1d1d"/>
<stop offset="0.2589" stop-color="#101010"/>
<stop offset="0.2885" stop-color="#0b0b0b"/>
<stop offset="0.3182" stop-color="#0b0b0b"/>
<stop offset="0.3478" stop-color="#0b0b0b"/>
<stop offset="0.3775" stop-color="#0b0b0b"/>
<stop offset="0.4071" stop-color="#0b0b0b"/>
<stop offset="0.4664" stop-color="#090909"/>
<stop offset="0.5455" stop-color="#060606"/>
<stop offset="0.6245" stop-color="#040404"/>
<stop offset="0.7036" stop-color="#030303"/>
<stop offset="0.7826" stop-color="#020202"/>
<stop offset="0.8617" stop-color="#010101"/>
<stop offset="0.9407" stop-color="#010101"/>
<stop offset="0.9980" stop-color="#010101"/>
</linearGradient>
<linearGradient id="a6" gradientUnits="userSpaceOnUse" x1="64" x2="570">
<stop offset="0.0000" stop-color="#a6a6a6"/>
<stop offset="0.0711" stop-color="#808080"/>
<stop offset="0.1107" stop-color="#595959"/>
<stop offset="0.1403" stop-color="#404040"/>
<stop offset="0.1700" stop-color="#333333"/>
<stop offset="0.1996" stop-color="#292929"/>
<stop offset="0.2292" stop-color="#1d1d1d"/>
<stop offset="0.2589" stop-color="#101010"/>
<stop offset="0.2885" stop-color="#0b0b0b"/>
<stop offset="0.3182" stop-color="#0b0b0b"/>
<stop offset="0.3478" stop-color="#0b0b0b"/>
<stop offset="0.3775" stop-color="#0b0b0b"/>
<stop offset="0.4071" stop-color="#0b0b0b"/>
<stop offset="0.4664" stop-color="#090909"/>
<stop offset="0.5455" stop-color="#060606"/>
<stop offset="0.6245" stop-color="#040404"/>
<stop offset="0.7036" stop-color="#030303"/>
<stop offset="0.7826" stop-color="#020202"/>
<stop offset="0.8617" stop-color="#010101"/>
<stop offset="0.9407" stop-color="#010101"/>
<stop offset="0.9980" stop-color="#010101"/>
</linearGradient>
<linearGradient id="a7" gradientUnits="userSpaceOnUse" x1="64" x2="570">
<stop offset="0.0000" stop-color="#a6a6a6"/>
<stop offset="0.0711" stop-color="#808080"/>
<stop offset="0.1107" stop-color="#595959"/>
<stop offset="0.1403" stop-color="#404040"/>
<stop offset="0.1700" stop-color="#333333"/>
<stop offset="0.1996" stop-color="#2a2a2a"/>
<stop offset="0.2292" stop-color="#1d1d1d"/>
<stop offset="0.2589" stop-color="#101010"/>
<stop offset="0.2885" stop-color="#0b0b0b"/>
<stop offset="0.3182" stop-color="#0b0b0b"/>
<stop offset="0.3478" stop-color="#0b0b0b"/>
<stop offset="0.3775" stop-color="#0c0c0c"/>
<stop offset="0.4071" stop-color="#0c0c0c"/>
<stop offset="0.4664" stop-color="#090909"/>
<stop offset="0.5455" stop-color="#060606"/>
<stop offset="0.6245" stop-color="#040404"/>
<stop offset="0.7036" stop-color="#030303"/>
<stop offset="0.7826" stop-color="#020202"/>
<stop offset="0.8617" stop-color="#010101"/>
<stop offset="0.9407" stop-color="#010101"/>
<stop offset="0.9980" stop-color="#010101"/>
</linearGradient>
<linearGradient id="a8" gradientUnits="userSpaceOnUse" x1="64" x2="570">
<stop offset="0.0000" stop-color="#a6a6a6"/>
<stop offset="0.0711" stop-color="#818181"/>
<stop offset="0.1107" stop-color="#5b5b5b"/>
<stop offset="0.1403" stop-color="#414141"/>
<stop offset="0.1700" stop-color="#343434"/>
<stop offset="0.1996" stop-color="#2a2a2a"/>
<stop offset="0.2292" stop-color="#1e1e1e"/>
<stop offset="0.2589" stop-color="#111111"/>
<stop offset="0.2885" stop-color="#0b0b0b"/>
<stop offset="0.3182" stop-color="#0a0a0a"/>
<stop offset="0.3478" stop-color="#0a0a0a"/>
<stop offset="0.3775" stop-color="#0c0c0c"/>
<stop offset="0.4071" stop-color="#0d0d0d"/>
<stop offset="0.4664" stop-color="#0a0a0a"/>
<stop offset="0.5455" stop-color="#070707"/>
<stop offset="0.6245" stop-color="#050505"/>
<stop offset="0.7036" stop-color="#030303"/>
<stop offset="0.7826" stop-color="#020202"/>
<stop offset="0.8617" stop-color="#010101"/>
<stop offset="0.9407" stop-color="#010101"/>
<stop offset="0.9980" stop-color="#010101"/>
</linearGradient>
<linearGradient id="a9" gradientUnits="userSpaceOnUse" x1="64" x2="570">
<stop offset="0.0000" stop-color="#a6a6a6"/>
<stop offset="0.0711" stop-color="#828282"/>
<stop offset="0.1107" stop-color="#5c5c5c"/>
<stop offset="0.1403" stop-color="#424242"/>
<stop offset="0.1700" stop-color="#363636"/>
<stop offset="0.1996" stop-color="#2b2b2b"/>
<stop offset="0.2292" stop-color="#1f1f1f"/>
<stop offset="0.2589" stop-color="#131313"/>
<stop offset="0.2885" stop-color="#0a0a0a"/>
<stop offset="0.3182" stop-color="#080808"/>
<stop offset="0.3478" stop-color="#0a0a0a"/>
<stop offset="0.3775" stop-color="#0d0d0d"/>
<stop offset="0.4071" stop-color="#0e0e0e"/>
<stop offset="0.4664" stop-color="#0c0c0c"/>
<stop offset="0.5455" stop-color="#080808"/>
<stop offset="0.6245" stop-color="#050505"/>
<stop offset="0.7036" stop-color="#030303"/>
<stop offset="0.7826" stop-color="#020202"/>
<stop offset="0.8617" stop-color="#020202"/>
<stop offset="0.9407" stop-color="#010101"/>
<stop offset="0.9980" stop-color="#010101"/>
</linearGradient>
<linearGradient id="a10" gradientUnits="userSpaceOnUse" x1="64" x2="570">
<stop offset="0.0000" stop-color="#a6a6a6"/>
<stop offset="0.0711" stop-color="#838383"/>
<stop offset="0.1107" stop-color="#5d5d5d"/>
<stop offset="0.1403" stop-color="#444444"/>
<stop offset="0.1700" stop-color="#373737"/>
<stop offset="0.1996" stop-color="#2c2c2c"/>
<stop offset="0.2292" stop-color="#212121"/>
<stop offset="0.2589" stop-color="#141414"/>
<stop offset="0.2885" stop-color="#0a0a0a"/>
<stop offset="0.3182" stop-color="#070707"/>
<stop offset="0.3478" stop-color="#090909"/>
<stop offset="0.3775" stop-color="#0d0d0d"/>
<stop offset="0.4071" stop-color="#0f0f0f"/>
<stop offset="0.4664" stop-color="#0d0d0d"/>
<stop offset="0.5455" stop-color="#090909"/>
<stop offset="0.6245" stop-color="#060606"/>
<stop offset="0.7036" stop-color="#040404"/>
<stop offset="0.7826" stop-color="#020202"/>
<stop offset="0.8617" stop-color="#020202"/>
<stop offset="0.9407" stop-color="#010101"/>
<stop offset="0.9980" stop-color="#010101"/>
</linearGradient>
<linearGradient id="a11" gradientUnits="userSpaceOnUse" x1="64" x2="570">
<stop offset="0.0000" stop-color="#a6a6a6"/>
<stop offset="0.0711" stop-color="#858585"/>
<stop offset="0.1107" stop-color="#5e5e5e"/>
<stop offset="0.1403" stop-color="#454545"/>
<stop offset="0.1700" stop-color="#383838"/>
<stop offset="0.1996" stop-color="#2d2d2d"/>
<stop offset="0.2292" stop-color="#222222"/>
<stop offset="0.2589" stop-color="#151515"/>
<stop offset="0.2885" stop-color="#090909"/>
<stop offset="0.3182" stop-color="#060606"/>
<stop offset="0.3478" stop-color="#080808"/>
<stop offset="0.3775" stop-color="#0e0e0e"/>
<stop offset="0.4071" stop-color="#101010"/>
<stop offset="0.4664" stop-color="#0f0f0f"/>
<stop offset="0.5455" stop-color="#0a0a0a"/>
<stop offset="0.6245" stop-color="#060606"/>
<stop offset="0.7036" stop-color="#040404"/>
<stop offset="0.7826" stop-color="#020202"/>
<stop offset="0.8617" stop-color="#020202"/>
<stop offset="0.9407" stop-color="#010101"/>
<stop offset="0.9980" stop-color="#010101"/>
</linearGradient>
<linearGradient id="a12" gradientUnits="userSpaceOnUse" x1="64" x2="570">
<stop offset="0.0000" stop-color="#a6a6a6"/>
<stop offset="0.0711" stop-color="#868686"/>
<stop offset="0.1107" stop-color="#606060"/>
<stop offset="0.1403" stop-color="#464646"/>
<stop offset="0.1700" stop-color="#393939"/>
<stop offset="0.1996" stop-color="#2e2e2e"/>
<stop offset="0.2292" stop-color="#232323"/>
<stop offset="0.2589" stop-color="#161616"/>
<stop offset="0.2885" stop-color="#090909"/>
<stop offset="0.3182" stop-color="#050505"/>
<stop offset="0.3478" stop-color="#080808"/>
<stop offset="0.3775" stop-color="#0e0e0e"/>
<stop offset="0.4071" stop-color="#111111"/>
<stop offset="0.4664" stop-color="#101010"/>
<stop offset="0.5455" stop-color="#0b0b0b"/>
<stop offset="0.6245" stop-color="#060606"/>
<stop offset="0.7036" stop-color="#040404"/>
<stop offset="0.7826" stop-color="#030303"/>
<stop offset="0.8617" stop-color="#020202"/>
<stop offset="0.9407" stop-color="#010101"/>
<stop offset="0.9980" stop-color="#010101"/>
</linearGradient>
<linearGradient id="a13" gradientUnits="userSpaceOnUse" x1="64" x2="570">
<stop offset="0.0000" stop-color="#a6a6a6"/>
<stop offset="0.0711" stop-color="#878787"/>
<stop offset="0.1107" stop-color="#616161"/>
<stop offset="0.1403" stop-color="#474747"/>
<stop offset="0.1700" stop-color="#3a3a3a"/>
<stop offset="0.1996" stop-color="#2f2f2f"/>
<stop offset="0.2292" stop-color="#242424"/>
<stop offset="0.2589" stop-color="#181818"/>
<stop offset="0.2885" stop-color="#090909"/>
<stop offset="0.3182" stop-color="#050505"/>
<stop offset="0.3478" stop-color="#080808"/>
<stop offset="0.3775" stop-color="#0f0f0f"/>
<stop offset="0.4071" stop-color="#121212"/>
<stop offset="0.4664" stop-color="#111111"/>
<stop offset="0.5455" stop-color="#0d0d0d"/>
<stop offset="0.6245" stop-color="#070707"/>
<stop offset="0.7036" stop-color="#040404"/>
<stop offset="0.7826" stop-color="#030303"/>
<stop offset="0.8617" stop-color="#020202"/>
<stop offset="0.9407" stop-color="#010101"/>
<stop offset="0.9980" stop-color="#010101"/>
</linearGradient>
<linearGradient id="a14" gradientUnits="userSpaceOnUse" x1="64" x2="570">
<stop offset="0.0000" stop-color="#a6a6a6"/>
<stop offset="0.0711" stop-color="#888888"/>
<stop offset="0.1107" stop-color="#626262"/>
<stop offset="0.1403" stop-color="#494949"/>
<stop offset="0.1700" stop-color="#3b3b3b"/>
<stop offset="0.1996" stop-color="#303030"/>
<stop offset="0.2292" stop-color="#252525"/>
<stop offset="0.2589" stop-color="#191919"/>
<stop offset="0.2885" stop-color="#0a0a0a"/>
<stop offset="0.3182" stop-color="#040404"/>
<stop offset="0.3478" stop-color="#080808"/>
<stop offset="0.3775" stop-color="#101010"/>
<stop offset="0.4071" stop-color="#131313"/>
<stop offset="0.4664" stop-color="#131313"/>
<stop offset="0.5455" stop-color="#0e0e0e"/>
<stop offset="0.6245" stop-color="#080808"/>
<stop offset="0.7036" stop-color="#050505"/>
<stop offset="0.7826" stop-color="#030303"/>
<stop offset="0.8617" stop-color="#020202"/>
<stop offset="0.9407" stop-color="#010101"/>
<stop offset="0.9980" stop-color="#010101"/>
</linearGradient>
<linearGradient id="a15" gradientUnits="userSpaceOnUse" x1="64" x2="570">
<stop offset="0.0000" stop-color="#a6a6a6"/>
<stop offset="0.0711" stop-color="#8a8a8a"/>
<stop offset="0.1107" stop-color="#636363"/>
<stop offset="0.1403" stop-color="#4a4a4a"/>
<stop offset="0.1700" stop-color="#3b3b3b"/>
<stop offset="0.1996" stop-color="#313131"/>
<stop offset="0.2292" stop-color="#262626"/>
<stop offset="0.2589" stop-color="#1a1a1a"/>
<stop offset="0.2885" stop-color="#0a0a0a"/>
<stop offset="0.3182" stop-color="#040404"/>
<stop offset="0.3478" stop-color="#080808"/>
<stop offset="0.3775" stop-color="#111111"/>
<stop offset="0.4071" stop-color="#141414"/>
<stop offset="0.4664" stop-color="#141414"/>
<stop offset="0.5455" stop-color="#0f0f0f"/>
<stop offset="0.6245" stop-color="#090909"/>
<stop offset="0.7036" stop-color="#050505"/>
<stop offset="0.7826" stop-color="#030303"/>
<stop offset="0.8617" stop-color="#020202"/>
<stop offset="0.9407" stop-color="#010101"/>
<stop offset="0.9980" stop-color="#010101"/>
</linearGradient>
<linearGradient id="a16" gradientUnits="userSpaceOnUse" x1="64" x2="570">
<stop offset="0.0000" stop-color="#a6a6a6"/>
<stop offset="0.0711" stop-color="#8b8b8b"/>
<stop offset="0.1107" stop-color="#656565"/>
<stop offset="0.1403" stop-color="#4b4b4b"/>
<stop offset="0.1700" stop-color="#3c3c3c"/>
<stop offset="0.1996" stop-color="#323232"/>
<stop offset="0.2292" stop-color="#272727"/>
<stop offset="0.2589" stop-color="#1b1b1b"/>
<stop offset="0.2885" stop-color="#0b0b0b"/>
<stop offset="0.3182" stop-color="#040404"/>
<stop offset="0.3478" stop-color="#090909"/>
<stop offset="0.3775" stop-color="#121212"/>
<stop offset="0.4071" stop-color="#151515"/>
<stop offset="0.4664" stop-color="#151515"/>
<stop offset="0.5455" stop-color="#111111"/>
<stop offset="0.6245" stop-color="#0a0a0a"/>
<stop offset="0.7036" stop-color="#060606"/>
<stop offset="0.7826" stop-color="#040404"/>
<stop offset="0.8617" stop-color="#020202"/>
<stop offset="0.9407" stop-color="#020202"/>
<stop offset="0.9980" stop-color="#010101"/>
</linearGradient>
<linearGradient id="a17" gradientUnits="userSpaceOnUse" x1="64" x2="570">
<stop offset="0.0000" stop-color="#a6a6a6"/>
<stop offset="0.0711" stop-color="#8c8c8c"/>
<stop offset="0.1107" stop-color="#666666"/>
<stop offset="0.1403" stop-color="#4c4c4c"/>
<stop offset="0.1700" stop-color="#3d3d3d"/>
<stop offset="0.1996" stop-color="#333333"/>
<stop offset="0.2292" stop-color="#272727"/>
<stop offset="0.2589" stop-color="#1d1d1d"/>
<stop offset="0.2885" stop-color="#0b0b0b"/>
<stop offset="0.3182" stop-color="#030303"/>
<stop offset="0.3478" stop-color="#090909"/>
<stop offset="0.3775" stop-color="#131313"/>
<stop offset="0.4071" stop-color="#161616"/>
<stop offset="0.4664" stop-color="#171717"/>
<stop offset="0.5455" stop-color="#121212"/>
<stop offset="0.6245" stop-color="#0b0b0b"/>
<stop offset="0.7036" stop-color="#060606"/>
<stop offset="0.7826" stop-color="#040404"/>
<stop offset="0.8617" stop-color="#030303"/>
<stop offset="0.9407" stop-color="#020202"/>
<stop offset="0.9980" stop-color="#010101"/>
</linearGradient>
<linearGradient id="a18" gradientUnits="userSpaceOnUse" x1="64" x2="570">
<stop offset="0.0000" stop-color="#a6a6a6"/>
<stop offset="0.0711" stop-color="#8c8c8c"/>
<stop offset="0.1107" stop-color="#666666"/>
<stop offset="0.1403" stop-color="#4c4c4c"/>
<stop offset="0.1700" stop-color="#3d3d3d"/>
<stop offset="0.1996" stop-color="#333333"/>
<stop offset="0.2292" stop-color="#282828"/>
<stop offset="0.2589" stop-color="#1d1d1d"/>
<stop offset="0.2885" stop-color="#0b0b0b"/>
<stop offset="0.3182" stop-color="#030303"/>
<stop offset="0.3478" stop-color="#090909"/>
<stop offset="0.3775" stop-color="#131313"/>
<stop offset="0.4071" stop-color="#161616"/>
<stop offset="0.4664" stop-color="#171717"/>
<stop offset="0.5455" stop-color="#121212"/>
<stop offset="0.6245" stop-color="#0c0c0c"/>
<stop offset="0.7036" stop-color="#070707"/>
<stop offset="0.7826" stop-color="#040404"/>
<stop offset="0.8617" stop-color="#030303"/>
<stop offset="0.9407" stop-color="#020202"/>
<stop offset="0.9980" stop-color="#010101"/>
</linearGradient>
<linearGradient id="a19" gradientUnits="userSpaceOnUse" x1="64" x2="570">
<stop offset="0.0000" stop-color="#a6a6a6"/>
<stop offset="0.0711" stop-color="#8c8c8c"/>
<stop offset="0.1107" stop-color="#666666"/>
<stop offset="0.1403" stop-color="#4c4c4c"/>
<stop offset="0.1700" stop-color="#3d3d3d"/>
<stop offset="0.1996" stop-color="#333333"/>
<stop offset="0.2292" stop-color="#282828"/>
<stop offset="0.2589" stop-color="#1d1d1d"/>
<stop offset="0.2885" stop-color="#0b0b0b"/>
<stop offset="0.3182" stop-color="#030303"/>
<stop offset="0.3478" stop-color="#090909"/>
<stop offset="0.3775" stop-color="#131313"/>
<stop offset="0.4071" stop-color="#161616"/>
<stop offset="0.4664" stop-color="#171717"/>
<stop offset="0.5455" stop-color="#121212"/>
<stop offset="0.6245" stop-color="#0c0c0c"/>
<stop offset="0.7036" stop-color="#080808"/>
<stop offset="0.7826" stop-color="#040404"/>
<stop offset="0.8617" stop-color="#030303"/>
<stop offset="0.9407" stop-color="#020202"/>
<stop offset="0.9980" stop-color="#010101"/>
</linearGradient>
<linearGradient id="a20" gradientUnits="userSpaceOnUse" x1="64" x2="570">
<stop offset="0.0000" stop-color="#a6a6a6"/>
<stop offset="0.0711" stop-color="#8c8c8c"/>
<stop offset="0.1107" stop-color="#666666"/>
<stop offset="0.1403" stop-color="#4c4c4c"/>
<stop offset="0.1700" stop-color="#3d3d3d"/>
<stop offset="0.1996" stop-color="#333333"/>
<stop offset="0.2292" stop-color="#282828"/>
<stop offset="0.2589" stop-color="#1d1d1d"/>
<stop offset="0.2885" stop-color="#0b0b0b"/>
<stop offset="0.3182" stop-color="#030303"/>
<stop offset="0.3478" stop-color="#090909"/>
<stop offset="0.3775" stop-color="#131313"/>
<stop offset="0.4071" stop-color="#161616"/>
<stop offset="0.4664" stop-color="#171717"/>
<stop offset="0.5455" stop-color="#131313"/>
<stop offset="0.6245" stop-color="#0d0d0d"/>
<stop offset="0.7036" stop-color="#080808"/>
<stop offset="0.7826" stop-color="#050505"/>
<stop offset="0.8617" stop-color="#030303"/>
<stop offset="0.9407" stop-color="#020202"/>
<stop offset="0.9980" stop-color="#010101"/>
</linearGradient>
<linearGradient id="a21" gradientUnits="userSpaceOnUse" x1="64" x2="570">
<stop offset="0.0000" stop-color="#a6a6a6"/>
<stop offset="0.0711" stop-color="#8c8c8c"/>
<stop offset="0.1107" stop-color="#666666"/>
<stop offset="0.1403" stop-color="#4c4c4c"/>
<stop offset="0.1700" stop-color="#3d3d3d"/>
<stop offset="0.1996" stop-color="#333333"/>
<stop offset="0.2292" stop-color="#282828"/>
<stop offset="0.2589" stop-color="#1d1d1d"/>
<stop offset="0.2885" stop-color="#0b0b0b"/>
<stop offset="0.3182" stop-color="#030303"/>
<stop offset="0.3478" stop-color="#090909"/>
<stop offset="0.3775" stop-color="#131313"/>
<stop offset="0.4071" stop-color="#161616"/>
<stop offset="0.4664" stop-color="#171717"/>
<stop offset="0.5455" stop-color="#131313"/>
<stop offset="0.6245" stop-color="#0d0d0d"/>
<stop offset="0.7036" stop-color="#090909"/>
<stop offset="0.7826" stop-color="#050505"/>
<stop offset="0.8617" stop-color="#030303"/>
<stop offset="0.9407" stop-color="#020202"/>
<stop offset="0.9980" stop-color="#010101"/>
</linearGradient>
<linearGradient id="a22" gradientUnits="userSpaceOnUse" x1="64" x2="570">
<stop offset="0.0000" stop-color="#a6a6a6"/>
<stop offset="0.0711" stop-color="#8c8c8c"/>
<stop offset="0.1107" stop-color="#666666"/>
<stop offset="0.1403" stop-color="#4c4c4c"/>
<stop offset="0.1700" stop-color="#3d3d3d"/>
<stop offset="0.1996" stop-color="#333333"/>
<stop offset="0.2292" stop-color="#282828"/>
<stop offset="0.2589" stop-color="#1d1d1d"/>
<stop offset="0.2885" stop-color="#0b0b0b"/>
<stop offset="0.3182" stop-color="#030303"/>
<stop offset="0.3478" stop-color="#090909"/>
<stop offset="0.3775" stop-color="#131313"/>
<stop offset="0.4071" stop-color="#161616"/>
<stop offset="0.4664" stop-color="#171717"/>
<stop offset="0.5455" stop-color="#131313"/>
<stop offset="0.6245" stop-color="#0e0e0e"/>
<stop offset="0.7036" stop-color="#090909"/>
<stop offset="0.7826" stop-color="#050505"/>
<stop offset="0.8617" stop-color="#030303"/>
<stop offset="0.9407" stop-color="#020202"/>
<stop offset="0.9980" stop-color="#010101"/>
</linearGradient>
<linearGradient id="a23" gradientUnits="userSpaceOnUse" x1="64" x2="570">
<stop offset="0.0000" stop-color="#a6a6a6"/>
<stop offset="0.0711" stop-color="#8d8d8d"/>
<stop offset="0.1107" stop-color="#686868"/>
<stop offset="0.1403" stop-color="#4e4e4e"/>
<stop offset="0.1700" stop-color="#3e3e3e"/>
<stop offset="0.1996" stop-color="#343434"/>
<stop offset="0.2292" stop-color="#282828"/>
<stop offset="0.2589" stop-color="#1d1d1d"/>
<stop offset="0.2885" stop-color="#0c0c0c"/>
<stop offset="0.3182" stop-color="#030303"/>
<stop offset="0.3478" stop-color="#090909"/>
<stop offset="0.3775" stop-color="#131313"/>
<stop offset="0.4071" stop-color="#161616"/>
<stop offset="0.4664" stop-color="#171717"/>
<stop offset="0.5455" stop-color="#131313"/>
<stop offset="0.6245" stop-color="#0e0e0e"/>
<stop offset="0.7036" stop-color="#0a0a0a"/>
<stop offset="0.7826" stop-color="#050505"/>
<stop offset="0.8617" stop-color="#030303"/>
<stop offset="0.9407" stop-color="#020202"/>
<stop offset="0.9980" stop-color="#010101"/>
</linearGradient>
<linearGradient id="a24" gradientUnits="userSpaceOnUse" x1="64" x2="570">
<stop offset="0.0000" stop-color="#a6a6a6"/>
<stop offset="0.0711" stop-color="#8e8e8e"/>
<stop offset="0.1107" stop-color="#6a6a6a"/>
<stop offset="0.1403" stop-color="#505050"/>
<stop offset="0.1700" stop-color="#404040"/>
<stop offset="0.1996" stop-color="#353535"/>
<stop offset="0.2292" stop-color="#292929"/>
<stop offset="0.2589" stop-color="#1d1d1d"/>
<stop offset="0.2885" stop-color="#0c0c0c"/>
<stop offset="0.3182" stop-color="#030303"/>
<stop offset="0.3478" stop-color="#090909"/>
<stop offset="0.3775" stop-color="#131313"/>
<stop offset="0.4071" stop-color="#161616"/>
<stop offset="0.4664" stop-color="#171717"/>
<stop offset="0.5455" stop-color="#131313"/>
<stop offset="0.6245" stop-color="#0e0e0e"/>
<stop offset="0.7036" stop-color="#0a0a0a"/>
<stop offset="0.7826" stop-color="#050505"/>
<stop offset="0.8617" stop-color="#030303"/>
<stop offset="0.9407" stop-color="#020202"/>
<stop offset="0.9980" stop-color="#010101"/>
</linearGradient>
<linearGradient id="a25" gradientUnits="userSpaceOnUse" x1="64" x2="570">
<stop offset="0.0000" stop-color="#a6a6a6"/>
<stop offset="0.0711" stop-color="#8f8f8f"/>
<stop offset="0.1107" stop-color="#6c6c6c"/>
<stop offset="0.1403" stop-color="#525252"/>
<stop offset="0.1700" stop-color="#424242"/>
<stop offset="0.1996" stop-color="#363636"/>
<stop offset="0.2292" stop-color="#2a2a2a"/>
<stop offset="0.2589" stop-color="#1d1d1d"/>
<stop offset="0.2885" stop-color="#0c0c0c"/>
<stop offset="0.3182" stop-color="#030303"/>
<stop offset="0.3478" stop-color="#080808"/>
<stop offset="0.3775" stop-color="#131313"/>
<stop offset="0.4071" stop-color="#151515"/>
<stop offset="0.4664" stop-color="#171717"/>
<stop offset="0.5455" stop-color="#131313"/>
<stop offset="0.6245" stop-color="#0e0e0e"/>
<stop offset="0.7036" stop-color="#0a0a0a"/>
<stop offset="0.7826" stop-color="#050505"/>
<stop offset="0.8617" stop-color="#030303"/>
<stop offset="0.9407" stop-color="#020202"/>
<stop offset="0.9980" stop-color="#010101"/>
</linearGradient>
<linearGradient id="a26" gradientUnits="userSpaceOnUse" x1="64" x2="570">
<stop offset="0.0000" stop-color="#a6a6a6"/>
<stop offset="0.0711" stop-color="#909090"/>
<stop offset="0.1107" stop-color="#6e6e6e"/>
<stop offset="0.1403" stop-color="#545454"/>
<stop offset="0.1700" stop-color="#444444"/>
<stop offset="0.1996" stop-color="#373737"/>
<stop offset="0.2292" stop-color="#2b2b2b"/>
<stop offset="0.2589" stop-color="#1d1d1d"/>
<stop offset="0.2885" stop-color="#0c0c0c"/>
<stop offset="0.3182" stop-color="#030303"/>
<stop offset="0.3478" stop-color="#080808"/>
<stop offset="0.3775" stop-color="#121212"/>
<stop offset="0.4071" stop-color="#151515"/>
<stop offset="0.4664" stop-color="#171717"/>
<stop offset="0.5455" stop-color="#131313"/>
<stop offset="0.6245" stop-color="#0e0e0e"/>
<stop offset="0.7036" stop-color="#0a0a0a"/>
<stop offset="0.7826" stop-color="#050505"/>
<stop offset="0.8617" stop-color="#030303"/>
<stop offset="0.9407" stop-color="#020202"/>
<stop offset="0.9980" stop-color="#010101"/>
</linearGradient>
<linearGradient id="a27" gradientUnits="userSpaceOnUse" x1="64" x2="570">
<stop offset="0.0000" stop-color="#a6a6a6"/>
<stop offset="0.0711" stop-color="#919191"/>
<stop offset="0.1107" stop-color="#707070"/>
<stop offset="0.1403" stop-color="#565656"/>
<stop offset="0.1700" stop-color="#464646"/>
<stop offset="0.1996" stop-color="#383838"/>
<stop offset="0.2292" stop-color="#2b2b2b"/>
<stop offset="0.2589" stop-color="#1d1d1d"/>
<stop offset="0.2885" stop-color="#0c0c0c"/>
<stop offset="0.3182" stop-color="#030303"/>
<stop offset="0.3478" stop-color="#080808"/>
<stop offset="0.3775" stop-color="#121212"/>
<stop offset="0.4071" stop-color="#151515"/>
<stop offset="0.4664" stop-color="#161616"/>
<stop offset="0.5455" stop-color="#131313"/>
<stop offset="0.6245" stop-color="#0e0e0e"/>
<stop offset="0.7036" stop-color="#0a0a0a"/>
<stop offset="0.7826" stop-color="#050505"/>
<stop offset="0.8617" stop-color="#030303"/>
<stop offset="0.9407" stop-color="#020202"/>
<stop offset="0.9980" stop-color="#010101"/>
</linearGradient>
<linearGradient id="a28" gradientUnits="userSpaceOnUse" x1="64" x2="570">
<stop offset="0.0000" stop-color="#a6a6a6"/>
<stop offset="0.0711" stop-color="#929292"/>
<stop offset="0.1107" stop-color="#727272"/>
<stop offset="0.1403" stop-color="#585858"/>
<stop offset="0.1700" stop-color="#484848"/>
<stop offset="0.1996" stop-color="#393939"/>
<stop offset="0.2292" stop-color="#2c2c2c"/>
<stop offset="0.2589" stop-color="#1d1d1d"/>
<stop offset="0.2885" stop-color="#0d0d0d"/>
<stop offset="0.3182" stop-color="#030303"/>
<stop offset="0.3478" stop-color="#080808"/>
<stop offset="0.3775" stop-color="#121212"/>
<stop offset="0.4071" stop-color="#151515"/>
<stop offset="0.4664" stop-color="#161616"/>
<stop offset="0.5455" stop-color="#131313"/>
<stop offset="0.6245" stop-color="#0e0e0e"/>
<stop offset="0.7036" stop-color="#0a0a0a"/>
<stop offset="0.7826" stop-color="#050505"/>
<stop offset="0.8617" stop-color="#030303"/>
<stop offset="0.9407" stop-color="#020202"/>
<stop offset="0.9980" stop-color="#010101"/>
</linearGradient>
<linearGradient id="a29" gradientUnits="userSpaceOnUse" x1="64" x2="570">
<stop offset="0.0000" stop-color="#a6a6a6"/>
<stop offset="0.0711" stop-color="#939393"/>
<stop offset="0.1107" stop-color="#747474"/>
<stop offset="0.1403" stop-color="#5c5c5c"/>
<stop offset="0.1700" stop-color="#4c4c4c"/>
<stop offset="0.1996" stop-color="#3b3b3b"/>
<stop offset="0.2292" stop-color="#2e2e2e"/>
<stop offset="0.2589" stop-color="#1e1e1e"/>
<stop offset="0.2885" stop-color="#0e0e0e"/>
<stop offset="0.3182" stop-color="#050505"/>
<stop offset="0.3478" stop-color="#090909"/>
<stop offset="0.3775" stop-color="#121212"/>
<stop offset="0.4071" stop-color="#151515"/>
<stop offset="0.4664" stop-color="#161616"/>
<stop offset="0.5455" stop-color="#131313"/>
<stop offset="0.6245" stop-color="#0e0e0e"/>
<stop offset="0.7036" stop-color="#0a0a0a"/>
<stop offset="0.7826" stop-color="#050505"/>
<stop offset="0.8617" stop-color="#030303"/>
<stop offset="0.9407" stop-color="#020202"/>
<stop offset="0.9980" stop-color="#010101"/>
</linearGradient>
<linearGradient id="a30" gradientUnits="userSpaceOnUse" x1="64" x2="570">
<stop offset="0.0000" stop-color="#a6a6a6"/>
<stop offset="0.0711" stop-color="#949494"/>
<stop offset="0.1107" stop-color="#787878"/>
<stop offset="0.1403" stop-color="#626262"/>
<stop offset="0.1700" stop-color="#515151"/>
<stop offset="0.1996" stop-color="#404040"/>
<stop offset="0.2292" stop-color="#303030"/>
<stop offset="0.2589" stop-color="#212121"/>
<stop offset="0.2885" stop-color="#121212"/>
<stop offset="0.3182" stop-color="#090909"/>
<stop offset="0.3478" stop-color="#0c0c0c"/>
<stop offset="0.3775" stop-color="#141414"/>
<stop offset="0.4071" stop-color="#161616"/>
<stop offset="0.4664" stop-color="#171717"/>
<stop offset="0.5455" stop-color="#131313"/>
<stop offset="0.6245" stop-color="#0e0e0e"/>
<stop offset="0.7036" stop-color="#0a0a0a"/>
<stop offset="0.7826" stop-color="#050505"/>
<stop offset="0.8617" stop-color="#030303"/>
<stop offset="0.9407" stop-color="#020202"/>
<stop offset="0.9980" stop-color="#010101"/>
</linearGradient>
<linearGradient id="a31" gradientUnits="userSpaceOnUse" x1="64" x2="570">
<stop offset="0.0000" stop-color="#a6a6a6"/>
<stop offset="0.0711" stop-color="#969696"/>
<stop offset="0.1107" stop-color="#7b7b7b"/>
<stop offset="0.1403" stop-color="#686868"/>
<stop offset="0.1700" stop-color="#565656"/>
<stop offset="0.1996" stop-color="#454545"/>
<stop offset="0.2292" stop-color="#323232"/>
<stop offset="0.2589" stop-color="#242424"/>
<stop offset="0.2885" stop-color="#151515"/>
<stop offset="0.3182" stop-color="#0d0d0d"/>
<stop offset="0.3478" stop-color="#0f0f0f"/>
<stop offset="0.3775" stop-color="#151515"/>
<stop offset="0.4071" stop-color="#171717"/>
<stop offset="0.4664" stop-color="#171717"/>
<stop offset="0.5455" stop-color="#141414"/>
<stop offset="0.6245" stop-color="#0f0f0f"/>
<stop offset="0.7036" stop-color="#0a0a0a"/>
<stop offset="0.7826" stop-color="#050505"/>
<stop offset="0.8617" stop-color="#030303"/>
<stop offset="0.9407" stop-color="#020202"/>
<stop offset="0.9980" stop-color="#010101"/>
</linearGradient>
<linearGradient id="a32" gradientUnits="userSpaceOnUse" x1="64" x2="570">
<stop offset="0.0000" stop-color="#a6a6a6"/>
<stop offset="0.0711" stop-color="#979797"/>
<stop offset="0.1107" stop-color="#7f7f7f"/>
<stop offset="0.1403" stop-color="#6e6e6e"/>
<stop offset="0.1700" stop-color="#5c5c5c"/>
<stop offset="0.1996" stop-color="#4a4a4a"/>
<stop offset="0.2292" stop-color="#353535"/>
<stop offset="0.2589" stop-color="#272727"/>
<stop offset="0.2885" stop-color="#191919"/>
<stop offset="0.3182" stop-color="#111111"/>
<stop offset="0.3478" stop-color="#121212"/>
<stop offset="0.3775" stop-color="#171717"/>
<stop offset="0.4071" stop-color="#181818"/>
<stop offset="0.4664" stop-color="#181818"/>
<stop offset="0.5455" stop-color="#141414"/>
<stop offset="0.6245" stop-color="#0f0f0f"/>
<stop offset="0.7036" stop-color="#0a0a0a"/>
<stop offset="0.7826" stop-color="#050505"/>
<stop offset="0.8617" stop-color="#030303"/>
<stop offset="0.9407" stop-color="#020202"/>
<stop offset="0.9980" stop-color="#010101"/>
</linearGradient>
<linearGradient id="a33" gradientUnits="userSpaceOnUse" x1="64" x2="570">
<stop offset="0.0000" stop-color="#a6a6a6"/>
<stop offset="0.0711" stop-color="#989898"/>
<stop offset="0.1107" stop-color="#828282"/>
<stop offset="0.1403" stop-color="#737373"/>
<stop offset="0.1700" stop-color="#616161"/>
<stop offset="0.1996" stop-color="#4e4e4e"/>
<stop offset="0.2292" stop-color="#373737"/>
<stop offset="0.2589" stop-color="#2a2a2a"/>
<stop offset="0.2885" stop-color="#1c1c1c"/>
<stop offset="0.3182" stop-color="#141414"/>
<stop offset="0.3478" stop-color="#151515"/>
<stop offset="0.3775" stop-color="#181818"/>
<stop offset="0.4071" stop-color="#191919"/>
<stop offset="0.4664" stop-color="#181818"/>
<stop offset="0.5455" stop-color="#141414"/>
<stop offset="0.6245" stop-color="#0f0f0f"/>
<stop offset="0.7036" stop-color="#0a0a0a"/>
<stop offset="0.7826" stop-color="#050505"/>
<stop offset="0.8617" stop-color="#030303"/>
<stop offset="0.9407" stop-color="#020202"/>
<stop offset="0.9980" stop-color="#010101"/>
</linearGradient>
<linearGradient id="a34" gradientUnits="userSpaceOnUse" x1="64" x2="570">
<stop offset="0.0000" stop-color="#a6a6a6"/>
<stop offset="0.0711" stop-color="#999999"/>
<stop offset="0.1107" stop-color="#868686"/>
<stop offset="0.1403" stop-color="#797979"/>
<stop offset="0.1700" stop-color="#666666"/>
<stop offset="0.1996" stop-color="#535353"/>
<stop offset="0.2292" stop-color="#393939"/>
<stop offset="0.2589" stop-color="#2d2d2d"/>
<stop offset="0.2885" stop-color="#202020"/>
<stop offset="0.3182" stop-color="#181818"/>
<stop offset="0.3478" stop-color="#181818"/>
<stop offset="0.3775" stop-color="#1a1a1a"/>
<stop offset="0.4071" stop-color="#1a1a1a"/>
<stop offset="0.4664" stop-color="#181818"/>
<stop offset="0.5455" stop-color="#141414"/>
<stop offset="0.6245" stop-color="#0f0f0f"/>
<stop offset="0.7036" stop-color="#0a0a0a"/>
<stop offset="0.7826" stop-color="#040404"/>
<stop offset="0.8617" stop-color="#030303"/>
<stop offset="0.9407" stop-color="#020202"/>
<stop offset="0.9980" stop-color="#010101"/>
</linearGradient>
<linearGradient id="a35" gradientUnits="userSpaceOnUse" x1="64" x2="570">
<stop offset="0.0000" stop-color="#a6a6a6"/>
<stop offset="0.0711" stop-color="#9a9a9a"/>
<stop offset="0.1107" stop-color="#868686"/>
<stop offset="0.1403" stop-color="#787878"/>
<stop offset="0.1700" stop-color="#656565"/>
<stop offset="0.1996" stop-color="#525252"/>
<stop offset="0.2292" stop-color="#393939"/>
<stop offset="0.2589" stop-color="#2c2c2c"/>
<stop offset="0.2885" stop-color="#212121"/>
<stop offset="0.3182" stop-color="#1a1a1a"/>
<stop offset="0.3478" stop-color="#1a1a1a"/>
<stop offset="0.3775" stop-color="#1a1a1a"/>
<stop offset="0.4071" stop-color="#1a1a1a"/>
<stop offset="0.4664" stop-color="#181818"/>
<stop offset="0.5455" stop-color="#151515"/>
<stop offset="0.6245" stop-color="#0f0f0f"/>
<stop offset="0.7036" stop-color="#0a0a0a"/>
<stop offset="0.7826" stop-color="#040404"/>
<stop offset="0.8617" stop-color="#030303"/>
<stop offset="0.9407" stop-color="#020202"/>
<stop offset="0.9980" stop-color="#010101"/>
</linearGradient>
<linearGradient id="a36" gradientUnits="userSpaceOnUse" x1="64" x2="570">
<stop offset="0.0000" stop-color="#a6a6a6"/>
<stop offset="0.0711" stop-color="#9c9c9c"/>
<stop offset="0.1107" stop-color="#868686"/>
<stop offset="0.1403" stop-color="#777777"/>
<stop offset="0.1700" stop-color="#636363"/>
<stop offset="0.1996" stop-color="#505050"/>
<stop offset="0.2292" stop-color="#383838"/>
<stop offset="0.2589" stop-color="#2b2b2b"/>
<stop offset="0.2885" stop-color="#212121"/>
<stop offset="0.3182" stop-color="#1b1b1b"/>
<stop offset="0.3478" stop-color="#1b1b1b"/>
<stop offset="0.3775" stop-color="#1b1b1b"/>
<stop offset="0.4071" stop-color="#1b1b1b"/>
<stop offset="0.4664" stop-color="#191919"/>
<stop offset="0.5455" stop-color="#151515"/>
<stop offset="0.6245" stop-color="#101010"/>
<stop offset="0.7036" stop-color="#0a0a0a"/>
<stop offset="0.7826" stop-color="#040404"/>
<stop offset="0.8617" stop-color="#030303"/>
<stop offset="0.9407" stop-color="#020202"/>
<stop offset="0.9980" stop-color="#010101"/>
</linearGradient>
<linearGradient id="a37" gradientUnits="userSpaceOnUse" x1="64" x2="570">
<stop offset="0.0000" stop-color="#a6a6a6"/>
<stop offset="0.0711" stop-color="#9d9d9d"/>
<stop offset="0.1107" stop-color="#868686"/>
<stop offset="0.1403" stop-color="#757575"/>
<stop offset="0.1700" stop-color="#626262"/>
<stop offset="0.1996" stop-color="#4f4f4f"/>
<stop offset="0.2292" stop-color="#373737"/>
<stop offset="0.2589" stop-color="#2b2b2b"/>
<stop offset="0.2885" stop-color="#222222"/>
<stop offset="0.3182" stop-color="#1d1d1d"/>
<stop offset="0.3478" stop-color="#1c1c1c"/>
<stop offset="0.3775" stop-color="#1c1c1c"/>
<stop offset="0.4071" stop-color="#1b1b1b"/>
<stop offset="0.4664" stop-color="#191919"/>
<stop offset="0.5455" stop-color="#151515"/>
<stop offset="0.6245" stop-color="#101010"/>
<stop offset="0.7036" stop-color="#0a0a0a"/>
<stop offset="0.7826" stop-color="#040404"/>
<stop offset="0.8617" stop-color="#030303"/>
<stop offset="0.9407" stop-color="#020202"/>
<stop offset="0.9980" stop-color="#010101"/>
</linearGradient>
<linearGradient id="a38" gradientUnits="userSpaceOnUse" x1="64" x2="570">
<stop offset="0.0000" stop-color="#a6a6a6"/>
<stop offset="0.0711" stop-color="#9e9e9e"/>
<stop offset="0.1107" stop-color="#868686"/>
<stop offset="0.1403" stop-color="#747474"/>
<stop offset="0.1700" stop-color="#616161"/>
<stop offset="0.1996" stop-color="#4e4e4e"/>
<stop offset="0.2292" stop-color="#373737"/>
<stop offset="0.2589" stop-color="#2a2a2a"/>
<stop offset="0.2885" stop-color="#222222"/>
<stop offset="0.3182" stop-color="#1e1e1e"/>
<stop offset="0.3478" stop-color="#1d1d1d"/>
<stop offset="0.3775" stop-color="#1d1d1d"/>
<stop offset="0.4071" stop-color="#1c1c1c"/>
<stop offset="0.4664" stop-color="#191919"/>
<stop offset="0.5455" stop-color="#151515"/>
<stop offset="0.6245" stop-color="#101010"/>
<stop offset="0.7036" stop-color="#0a0a0a"/>
<stop offset="0.7826" stop-color="#040404"/>
<stop offset="0.8617" stop-color="#030303"/>
<stop offset="0.9407" stop-color="#020202"/>
<stop offset="0.9980" stop-color="#010101"/>
</linearGradient>
<linearGradient id="a39" gradientUnits="userSpaceOnUse" x1="64" x2="570">
<stop offset="0.0000" stop-color="#a6a6a6"/>
<stop offset="0.0711" stop-color="#9f9f9f"/>
<stop offset="0.1107" stop-color="#868686"/>
<stop offset="0.1403" stop-color="#737373"/>
<stop offset="0.1700" stop-color="#606060"/>
<stop offset="0.1996" stop-color="#4d4d4d"/>
<stop offset="0.2292" stop-color="#363636"/>
<stop offset="0.2589" stop-color="#292929"/>
<stop offset="0.2885" stop-color="#232323"/>
<stop offset="0.3182" stop-color="#202020"/>
<stop offset="0.3478" stop-color="#1f1f1f"/>
<stop offset="0.3775" stop-color="#1e1e1e"/>
<stop offset="0.4071" stop-color="#1d1d1d"/>
<stop offset="0.4664" stop-color="#191919"/>
<stop offset="0.5455" stop-color="#151515"/>
<stop offset="0.6245" stop-color="#101010"/>
<stop offset="0.7036" stop-color="#0a0a0a"/>
<stop offset="0.7826" stop-color="#040404"/>
<stop offset="0.8617" stop-color="#030303"/>
<stop offset="0.9407" stop-color="#020202"/>
<stop offset="0.9980" stop-color="#010101"/>
</linearGradient>
<linearGradient id="a40" gradientUnits="userSpaceOnUse" x1="64" x2="570">
<stop offset="0.0000" stop-color="#a3a3a3"/>
<stop offset="0.0711" stop-color="#9b9b9b"/>
<stop offset="0.1107" stop-color="#808080"/>
<stop offset="0.1403" stop-color="#6d6d6d"/>
<stop offset="0.1700" stop-color="#5a5a5a"/>
<stop offset="0.1996" stop-color="#484848"/>
<stop offset="0.2292" stop-color="#343434"/>
<stop offset="0.2589" stop-color="#292929"/>
<stop offset="0.2885" stop-color="#222222"/>
<stop offset="0.3182" stop-color="#1f1f1f"/>
<stop offset="0.3478" stop-color="#1e1e1e"/>
<stop offset="0.3775" stop-color="#1e1e1e"/>
<stop offset="0.4071" stop-color="#1c1c1c"/>
<stop offset="0.4664" stop-color="#191919"/>
<stop offset="0.5455" stop-color="#151515"/>
<stop offset="0.6245" stop-color="#101010"/>
<stop offset="0.7036" stop-color="#0a0a0a"/>
<stop offset="0.7826" stop-color="#040404"/>
<stop offset="0.8617" stop-color="#030303"/>
<stop offset="0.9407" stop-color="#020202"/>
<stop offset="0.9980" stop-color="#010101"/>
</linearGradient>
<linearGradient id="a41" gradientUnits="userSpaceOnUse" x1="64" x2="570">
<stop offset="0.0000" stop-color="#a0a0a0"/>
<stop offset="0.0711" stop-color="#969696"/>
<stop offset="0.1107" stop-color="#7a7a7a"/>
<stop offset="0.1403" stop-color="#676767"/>
<stop offset="0.1700" stop-color="#545454"/>
<stop offset="0.1996" stop-color="#444444"/>
<stop offset="0.2292" stop-color="#323232"/>
<stop offset="0.2589" stop-color="#282828"/>
<stop offset="0.2885" stop-color="#222222"/>
<stop offset="0.3182" stop-color="#1e1e1e"/>
<stop offset="0.3478" stop-color="#1e1e1e"/>
<stop offset="0.3775" stop-color="#1d1d1d"/>
<stop offset="0.4071" stop-color="#1c1c1c"/>
<stop offset="0.4664" stop-color="#191919"/>
<stop offset="0.5455" stop-color="#151515"/>
<stop offset="0.6245" stop-color="#101010"/>
<stop offset="0.7036" stop-color="#0a0a0a"/>
<stop offset="0.7826" stop-color="#040404"/>
<stop offset="0.8617" stop-color="#030303"/>
<stop offset="0.9407" stop-color="#020202"/>
<stop offset="0.9980" stop-color="#010101"/>
</linearGradient>
<linearGradient id="a42" gradientUnits="userSpaceOnUse" x1="64" x2="570">
<stop offset="0.0000" stop-color="#9d9d9d"/>
<stop offset="0.0711" stop-color="#929292"/>
<stop offset="0.1107" stop-color="#747474"/>
<stop offset="0.1403" stop-color="#616161"/>
<stop offset="0.1700" stop-color="#4e4e4e"/>
<stop offset="0.1996" stop-color="#3f3f3f"/>
<stop offset="0.2292" stop-color="#2f2f2f"/>
<stop offset="0.2589" stop-color="#272727"/>
<stop offset="0.2885" stop-color="#212121"/>
<stop offset="0.3182" stop-color="#1e1e1e"/>
<stop offset="0.3478" stop-color="#1d1d1d"/>
<stop offset="0.3775" stop-color="#1d1d1d"/>
<stop offset="0.4071" stop-color="#1c1c1c"/>
<stop offset="0.4664" stop-color="#191919"/>
<stop offset="0.5455" stop-color="#151515"/>
<stop offset="0.6245" stop-color="#0f0f0f"/>
<stop offset="0.7036" stop-color="#0a0a0a"/>
<stop offset="0.7826" stop-color="#040404"/>
<stop offset="0.8617" stop-color="#030303"/>
<stop offset="0.9407" stop-color="#020202"/>
<stop offset="0.9980" stop-color="#010101"/>
</linearGradient>
<linearGradient id="a43" gradientUnits="userSpaceOnUse" x1="64" x2="570">
<stop offset="0.0000" stop-color="#9a9a9a"/>
<stop offset="0.0711" stop-color="#8d8d8d"/>
<stop offset="0.1107" stop-color="#6e6e6e"/>
<stop offset="0.1403" stop-color="#5b5b5b"/>
<stop offset="0.1700" stop-color="#484848"/>
<stop offset="0.1996" stop-color="#3b3b3b"/>
<stop offset="0.2292" stop-color="#2d2d2d"/>
<stop offset="0.2589" stop-color="#262626"/>
<stop offset="0.2885" stop-color="#202020"/>
<stop offset="0.3182" stop-color="#1d1d1d"/>
<stop offset="0.3478" stop-color="#1d1d1d"/>
<stop offset="0.3775" stop-color="#1d1d1d"/>
<stop offset="0.4071" stop-color="#1b1b1b"/>
<stop offset="0.4664" stop-color="#181818"/>
<stop offset="0.5455" stop-color="#141414"/>
<stop offset="0.6245" stop-color="#0f0f0f"/>
<stop offset="0.7036" stop-color="#0a0a0a"/>
<stop offset="0.7826" stop-color="#040404"/>
<stop offset="0.8617" stop-color="#030303"/>
<stop offset="0.9407" stop-color="#020202"/>
<stop offset="0.9980" stop-color="#010101"/>
</linearGradient>
<linearGradient id="a44" gradientUnits="userSpaceOnUse" x1="64" x2="570">
<stop offset="0.0000" stop-color="#999999"/>
<stop offset="0.0711" stop-color="#8c8c8c"/>
<stop offset="0.1107" stop-color="#6c6c6c"/>
<stop offset="0.1403" stop-color="#595959"/>
<stop offset="0.1700" stop-color="#464646"/>
<stop offset="0.1996" stop-color="#393939"/>
<stop offset="0.2292" stop-color="#2d2d2d"/>
<stop offset="0.2589" stop-color="#262626"/>
<stop offset="0.2885" stop-color="#202020"/>
<stop offset="0.3182" stop-color="#1d1d1d"/>
<stop offset="0.3478" stop-color="#1d1d1d"/>
<stop offset="0.3775" stop-color="#1d1d1d"/>
<stop offset="0.4071" stop-color="#1b1b1b"/>
<stop offset="0.4664" stop-color="#181818"/>
<stop offset="0.5455" stop-color="#141414"/>
<stop offset="0.6245" stop-color="#0f0f0f"/>
<stop offset="0.7036" stop-color="#0a0a0a"/>
<stop offset="0.7826" stop-color="#040404"/>
<stop offset="0.8617" stop-color="#030303"/>
<stop offset="0.9407" stop-color="#020202"/>
<stop offset="0.9980" stop-color="#010101"/>
</linearGradient>
<linearGradient id="a45" gradientUnits="userSpaceOnUse" x1="64" x2="570">
<stop offset="0.0000" stop-color="#999999"/>
<stop offset="0.0711" stop-color="#8c8c8c"/>
<stop offset="0.1107" stop-color="#6c6c6c"/>
<stop offset="0.1403" stop-color="#595959"/>
<stop offset="0.1700" stop-color="#464646"/>
<stop offset="0.1996" stop-color="#393939"/>
<stop offset="0.2292" stop-color="#2d2d2d"/>
<stop offset="0.2589" stop-color="#262626"/>
<stop offset="0.2885" stop-color="#202020"/>
<stop offset="0.3182" stop-color="#1d1d1d"/>
<stop offset="0.3478" stop-color="#1d1d1d"/>
<stop offset="0.3775" stop-color="#1d1d1d"/>
<stop offset="0.4071" stop-color="#1b1b1b"/>
<stop offset="0.4664" stop-color="#181818"/>
<stop offset="0.5455" stop-color="#141414"/>
<stop offset="0.6245" stop-color="#0f0f0f"/>
<stop offset="0.7036" stop-color="#0a0a0a"/>
<stop offset="0.7826" stop-color="#040404"/>
<stop offset="0.8617" stop-color="#030303"/>
<stop offset="0.9407" stop-color="#020202"/>
<stop offset="0.9980" stop-color="#010101"/>
</linearGradient>
<filter id="bl" x="-0.1" y="-0.1" width="1.2" height="1.2" color-interpolation-filters="sRGB"><feGaussianBlur stdDeviation="0 1.5"/></filter>
<mask id="am" maskUnits="userSpaceOnUse" x="0" y="-20" width="600" height="170"><g filter="url(#bl)">
<rect x="40" y="-6.0" width="540" height="3.5" fill="url(#a0)"/>
<rect x="40" y="-3.0" width="540" height="3.5" fill="url(#a1)"/>
<rect x="40" y="0.0" width="540" height="3.5" fill="url(#a2)"/>
<rect x="40" y="3.0" width="540" height="3.5" fill="url(#a3)"/>
<rect x="40" y="6.0" width="540" height="3.5" fill="url(#a4)"/>
<rect x="40" y="9.0" width="540" height="3.5" fill="url(#a5)"/>
<rect x="40" y="12.0" width="540" height="3.5" fill="url(#a6)"/>
<rect x="40" y="15.0" width="540" height="3.5" fill="url(#a7)"/>
<rect x="40" y="18.0" width="540" height="3.5" fill="url(#a8)"/>
<rect x="40" y="21.0" width="540" height="3.5" fill="url(#a9)"/>
<rect x="40" y="24.0" width="540" height="3.5" fill="url(#a10)"/>
<rect x="40" y="27.0" width="540" height="3.5" fill="url(#a11)"/>
<rect x="40" y="30.0" width="540" height="3.5" fill="url(#a12)"/>
<rect x="40" y="33.0" width="540" height="3.5" fill="url(#a13)"/>
<rect x="40" y="36.0" width="540" height="3.5" fill="url(#a14)"/>
<rect x="40" y="39.0" width="540" height="3.5" fill="url(#a15)"/>
<rect x="40" y="42.0" width="540" height="3.5" fill="url(#a16)"/>
<rect x="40" y="45.0" width="540" height="3.5" fill="url(#a17)"/>
<rect x="40" y="48.0" width="540" height="3.5" fill="url(#a18)"/>
<rect x="40" y="51.0" width="540" height="3.5" fill="url(#a19)"/>
<rect x="40" y="54.0" width="540" height="3.5" fill="url(#a20)"/>
<rect x="40" y="57.0" width="540" height="3.5" fill="url(#a21)"/>
<rect x="40" y="60.0" width="540" height="3.5" fill="url(#a22)"/>
<rect x="40" y="63.0" width="540" height="3.5" fill="url(#a23)"/>
<rect x="40" y="66.0" width="540" height="3.5" fill="url(#a24)"/>
<rect x="40" y="69.0" width="540" height="3.5" fill="url(#a25)"/>
<rect x="40" y="72.0" width="540" height="3.5" fill="url(#a26)"/>
<rect x="40" y="75.0" width="540" height="3.5" fill="url(#a27)"/>
<rect x="40" y="78.0" width="540" height="3.5" fill="url(#a28)"/>
<rect x="40" y="81.0" width="540" height="3.5" fill="url(#a29)"/>
<rect x="40" y="84.0" width="540" height="3.5" fill="url(#a30)"/>
<rect x="40" y="87.0" width="540" height="3.5" fill="url(#a31)"/>
<rect x="40" y="90.0" width="540" height="3.5" fill="url(#a32)"/>
<rect x="40" y="93.0" width="540" height="3.5" fill="url(#a33)"/>
<rect x="40" y="96.0" width="540" height="3.5" fill="url(#a34)"/>
<rect x="40" y="99.0" width="540" height="3.5" fill="url(#a35)"/>
<rect x="40" y="102.0" width="540" height="3.5" fill="url(#a36)"/>
<rect x="40" y="105.0" width="540" height="3.5" fill="url(#a37)"/>
<rect x="40" y="108.0" width="540" height="3.5" fill="url(#a38)"/>
<rect x="40" y="111.0" width="540" height="3.5" fill="url(#a39)"/>
<rect x="40" y="114.0" width="540" height="3.5" fill="url(#a40)"/>
<rect x="40" y="117.0" width="540" height="3.5" fill="url(#a41)"/>
<rect x="40" y="120.0" width="540" height="3.5" fill="url(#a42)"/>
<rect x="40" y="123.0" width="540" height="3.5" fill="url(#a43)"/>
<rect x="40" y="126.0" width="540" height="3.5" fill="url(#a44)"/>
<rect x="40" y="129.0" width="540" height="3.5" fill="url(#a45)"/>
</g></mask>
<filter id="cm" x="0" y="0" width="1" height="1" color-interpolation-filters="sRGB"><feComponentTransfer><feFuncR type="table" tableValues=".486 .486 .486 .486 .486 .485 .485 .485 .485 .485 .485 .485 .484 .484 .484 .484 .484 .484 .483 .483 .483 .483 .483 .483 .483 .482 .482 .482 .482 .482 .482 .481 .481 .481 .481 .481 .481 .480 .480 .480 .480 .480 .480 .480 .479 .479 .479 .479 .479 .479 .478 .474 .469 .464 .460 .455 .450 .445 .441 .436 .431 .379 .327 .275 .233 .191 .149 .147 .145 .143 .141 .199 .257 .315 .373 .461 .549 .612 .675 .696 .718 .708 .648 .511 .329 .243 .157 .275 .392 .510 .617 .724 .831 .858 .884 .910 .907 .904 .889 .856 .824 .791 .758 .725 .693 .660 .627 .627 .626 .625 .625 .624 .623 .622 .622 .621 .620 .619 .619 .618 .617 .617 .616 .615 .614 .614 .613 .612 .611 .611 .610 .609 .609 .608 .607 .606 .606 .605 .604 .603 .603 .602 .601 .601 .600 .599 .598 .598 .597 .596 .595 .595 .594 .593 .593 .592 .591 .590 .590 .589 .588"/><feFuncG type="table" tableValues=".157 .157 .157 .156 .156 .156 .156 .156 .156 .155 .155 .155 .155 .155 .155 .155 .154 .154 .154 .154 .154 .154 .153 .153 .153 .153 .153 .153 .152 .152 .152 .152 .152 .152 .152 .151 .151 .151 .151 .151 .151 .150 .150 .150 .150 .150 .150 .149 .149 .149 .149 .146 .143 .140 .136 .133 .130 .127 .124 .121 .118 .107 .097 .086 .084 .081 .078 .106 .133 .161 .188 .274 .359 .444 .529 .618 .706 .757 .808 .829 .851 .844 .817 .752 .667 .618 .569 .621 .673 .725 .745 .765 .784 .732 .680 .627 .498 .368 .269 .217 .165 .156 .146 .137 .128 .119 .110 .109 .109 .108 .108 .108 .107 .107 .106 .106 .105 .105 .105 .104 .104 .103 .103 .102 .102 .102 .101 .101 .100 .100 .099 .099 .098 .098 .098 .097 .097 .096 .096 .095 .095 .095 .094 .094 .093 .093 .092 .092 .092 .091 .091 .090 .090 .089 .089 .088 .088 .088 .087 .087 .086"/><feFuncB type="table" tableValues=".933 .933 .933 .933 .933 .933 .932 .932 .932 .932 .932 .932 .931 .931 .931 .931 .931 .931 .931 .930 .930 .930 .930 .930 .930 .929 .929 .929 .929 .929 .929 .928 .928 .928 .928 .928 .928 .928 .927 .927 .927 .927 .927 .927 .926 .926 .926 .926 .926 .926 .925 .921 .916 .911 .907 .902 .897 .893 .888 .883 .878 .810 .742 .675 .627 .580 .533 .555 .576 .598 .620 .671 .722 .773 .824 .871 .918 .945 .973 .980 .988 .975 .886 .692 .439 .329 .220 .214 .209 .204 .204 .204 .204 .191 .178 .165 .162 .159 .152 .139 .125 .119 .112 .106 .099 .093 .086 .086 .086 .085 .085 .085 .085 .084 .084 .084 .083 .083 .083 .082 .082 .082 .082 .081 .081 .081 .080 .080 .080 .080 .079 .079 .079 .078 .078 .078 .078 .077 .077 .077 .076 .076 .076 .076 .075 .075 .075 .074 .074 .074 .073 .073 .073 .073 .072 .072 .072 .071 .071 .071 .071"/></feComponentTransfer><feGaussianBlur stdDeviation="0.5 0.3"/></filter>
<clipPath id="ca"><rect x="64.5" y="1.3" width="503.9" height="121.0"/></clipPath>
<clipPath id="cb"><rect x="64.5" y="122.3" width="503.9" height="102.8"/></clipPath>
<clipPath id="cc"><rect x="64.5" y="225.1" width="503.9" height="105.70000000000002"/></clipPath>
<linearGradient id="cbar" x1="0" y1="0" x2="0" y2="1">
<stop offset="0" stop-color="rgb(104,34,222)"/>
<stop offset="0.1" stop-color="rgb(90,26,205)"/>
<stop offset="0.18" stop-color="rgb(40,22,140)"/>
<stop offset="0.28" stop-color="rgb(36,46,156)"/>
<stop offset="0.36" stop-color="rgb(80,120,200)"/>
<stop offset="0.44" stop-color="rgb(170,205,240)"/>
<stop offset="0.5" stop-color="rgb(205,228,248)"/>
<stop offset="0.55" stop-color="rgb(150,205,190)"/>
<stop offset="0.6" stop-color="rgb(40,145,60)"/>
<stop offset="0.66" stop-color="rgb(30,140,50)"/>
<stop offset="0.72" stop-color="rgb(150,190,55)"/>
<stop offset="0.8" stop-color="rgb(215,200,55)"/>
<stop offset="0.87" stop-color="rgb(230,150,40)"/>
<stop offset="0.93" stop-color="rgb(230,70,40)"/>
<stop offset="1.0" stop-color="rgb(220,30,30)"/>
</linearGradient>
</defs>
<g clip-path="url(#ca)"><g filter="url(#cm)">
<rect x="60" y="-4" width="514" height="132" fill="#808080"/>
<rect x="60" y="-4" width="514" height="132" fill="url(#cg)" mask="url(#am)"/>
</g><g filter="url(#cm)" opacity="0.5">
<rect x="60" y="-4" width="514" height="132" fill="#808080"/>
<rect x="60" y="-4" width="514" height="132" fill="url(#cg2)" mask="url(#am)"/>
</g></g>
<line x1="64.5" x2="568.4" y1="29.7" y2="29.7" stroke="#f0f" stroke-width="2.3"/>
<line x1="64.5" x2="568.4" y1="81.5" y2="81.5" stroke="#f0f" stroke-width="2.3"/>
<rect x="522.5" y="34.5" width="33" height="43" fill="#fff" stroke="#777" stroke-width="1"/>
<rect x="525" y="36.9" width="7" height="36.5" fill="url(#cbar)"/>
<text x="552.6" y="48.7" font-size="15" text-anchor="end">-1</text>
<text x="552.6" y="74.2" font-size="15" text-anchor="end">+1</text>
<text x="479" y="22" font-size="17" text-anchor="middle">(a)</text>
<g clip-path="url(#cb)" fill="none" stroke-linejoin="round">
<polyline stroke="#3c3c3c" stroke-width="2.1" points="64.0,140.1 64.5,129.5 65.0,131.6 65.5,145.6 66.0,167.5 66.5,191.3 67.0,209.6 67.5,217.2 68.0,212.0 68.5,195.4 69.0,172.4 69.5,149.7 70.0,134.0 70.5,129.8 71.0,138.1 71.5,156.3 72.0,179.3 72.5,200.2 73.0,213.7 73.5,215.9 74.0,206.2 74.5,188.0 75.0,165.7 75.5,145.8 76.0,133.8 76.5,132.3 77.0,142.2 77.5,160.9 78.0,183.2 78.5,203.3 79.0,215.1 79.5,215.3 80.0,203.9 80.5,183.6 81.0,160.5 81.5,140.9 82.0,130.4 82.5,132.9 83.0,147.8 83.5,170.4 84.0,193.6 84.5,209.7 85.0,214.7 85.5,207.1 86.0,189.4 86.5,168.0 87.0,148.5 87.5,136.9 88.0,136.4 88.5,147.0 89.0,166.2 89.5,188.1 90.0,205.6 90.5,212.9 91.0,207.9 91.5,191.9 92.0,169.8 92.5,149.2 93.0,136.1 93.5,134.9 94.0,144.8 94.5,162.3 95.0,183.0 95.5,201.0 96.0,211.4 96.5,212.0 97.0,202.0 97.5,184.3 98.0,163.9 98.5,145.9 99.0,135.8 99.5,136.1 100.0,146.7 100.5,165.1 101.0,185.9 101.5,203.4 102.0,212.9 102.5,211.6 103.0,200.2 103.5,181.8 104.0,161.4 104.5,144.5 105.0,135.8 105.5,138.0 106.0,150.0 106.5,168.9 107.0,189.0 107.5,204.9 108.0,212.3 108.5,208.9 109.0,196.1 109.5,177.4 110.0,157.9 110.5,143.3 111.0,137.1 111.5,141.1 112.0,153.8 112.5,171.5 113.0,189.4 113.5,202.6 114.0,207.5 114.5,203.2 115.0,191.0 115.5,174.3 116.0,157.8 116.5,146.1 117.0,142.2 117.5,146.6 118.0,159.0 118.5,175.7 119.0,192.0 119.5,203.4 120.0,206.3 120.5,199.8 121.0,185.7 121.5,167.8 122.0,151.3 122.5,141.3 123.0,140.6 123.5,150.0 124.0,166.5 124.5,184.8 125.0,199.6 125.5,206.3 126.0,203.1 126.5,191.2 127.0,174.3 127.5,157.7 128.0,146.5 128.5,143.7 129.0,149.9 129.5,162.9 130.0,178.7 130.5,193.0 131.0,201.7 131.5,202.3 132.0,194.9 132.5,181.4 133.0,165.9 133.5,152.9 134.0,145.9 134.5,147.3 135.0,156.0 135.5,169.6 136.0,184.5 136.5,196.0 137.0,201.3 137.5,198.9 138.0,189.5 138.5,175.8 139.0,161.6 139.5,151.1 140.0,147.2 140.5,151.1 141.0,161.3 141.5,174.9 142.0,187.8 142.5,196.7 143.0,198.8 143.5,193.8 144.0,183.1 144.5,170.0 145.0,158.3 145.5,151.3 146.0,150.9 146.5,157.0 147.0,168.0 147.5,180.6 148.0,191.2 148.5,196.9 149.0,196.0 149.5,188.9 150.0,177.7 150.5,165.4 151.0,155.7 151.5,151.2 152.0,153.0 152.5,161.3 153.0,173.1 153.5,185.1 154.0,193.6 154.5,196.0 155.0,192.0 155.5,182.7 156.0,170.8 156.5,160.2 157.0,153.7 157.5,153.3 158.0,158.9 158.5,168.4 159.0,179.3 159.5,188.4 160.0,193.0 160.5,192.2 161.0,186.1 161.5,176.6 162.0,166.5 162.5,159.0 163.0,155.9 163.5,157.9 164.0,164.5 164.5,172.7 165.0,181.0 165.5,187.0 166.0,188.9 166.5,187.2 167.0,181.5 167.5,173.7 168.0,166.0 168.5,160.5 169.0,158.7 169.5,161.3 170.0,167.7 170.5,175.8 171.0,183.1 171.5,187.4 172.0,187.7 172.5,183.8 173.0,177.1 173.5,169.7 174.0,163.9 174.5,161.4 175.0,162.6 175.5,166.9 176.0,173.1 176.5,179.2 177.0,183.6 177.5,185.0 178.0,183.2 178.5,178.7 179.0,173.0 179.5,167.5 180.0,163.9 180.5,163.1 181.0,165.3 181.5,170.0 182.0,175.8 182.5,181.1 183.0,184.1 183.5,184.1 184.0,181.1 184.5,175.8 185.0,170.2 185.5,166.0 186.0,164.4 186.5,166.0 187.0,170.0 187.5,175.1 188.0,179.9 188.5,182.7 189.0,183.0 189.5,180.6 190.0,176.3 190.5,171.4 191.0,167.4 191.5,165.2 192.0,165.6 192.5,168.8 193.0,173.6 193.5,178.4 194.0,181.8 194.5,182.2 195.0,180.1 195.5,176.2 196.0,171.7 196.5,168.1 197.0,166.4 197.5,167.0 198.0,169.4 198.5,172.9 199.0,176.4 199.5,178.8 200.0,179.6 200.5,178.9 201.0,176.7 201.5,173.8 202.0,171.1 202.5,168.8 203.0,168.2 203.5,169.2 204.0,171.3 204.5,174.1 205.0,176.6 205.5,178.0 206.0,178.1 206.5,177.1 207.0,175.2 207.5,173.1 208.0,171.5 208.5,170.1 209.0,169.8 209.5,170.4 210.0,171.7 210.5,173.9 211.0,175.8 211.5,176.9 212.0,177.1 212.5,176.0 213.0,174.4 213.5,172.9 214.0,171.9 214.5,171.5 215.0,171.8 215.5,172.6 216.0,173.6 216.5,174.7 217.0,175.3 217.5,175.4 218.0,175.0 218.5,174.2 219.0,173.3 219.5,172.6 220.0,172.3 220.5,172.1 221.0,172.3 221.5,172.8 222.0,173.2 222.5,173.8 223.0,174.1 223.5,174.1 224.0,173.7 224.5,173.3 225.0,172.8 225.5,172.5 226.0,172.4 226.5,172.5 227.0,172.7 227.5,172.9 228.0,173.1 228.5,173.4 229.0,173.4 229.5,173.5 230.0,173.5 230.5,173.8 231.0,174.1 231.5,174.7 232.0,175.2 232.5,174.9 233.0,174.4 233.5,173.6 234.0,172.5 234.5,172.3 235.0,172.2 235.5,172.3 236.0,172.8 236.5,172.8 237.0,173.0 237.5,173.5 238.0,173.8 238.5,174.7 239.0,175.2 239.5,175.0 240.0,174.4 240.5,173.2 241.0,172.0 241.5,171.2 242.0,171.0 242.5,171.8 243.0,173.4 243.5,175.2 244.0,176.7 244.5,177.0 245.0,176.1 245.5,174.2 246.0,171.8 246.5,170.2 247.0,169.6 247.5,170.3 248.0,172.1 248.5,173.9 249.0,175.7 249.5,176.9 250.0,177.0 250.5,176.4 251.0,174.7 251.5,172.4 252.0,170.3 252.5,168.9 253.0,168.7 253.5,170.2 254.0,172.9 254.5,175.9 255.0,178.3 255.5,179.1 256.0,178.2 256.5,175.7 257.0,172.5 257.5,169.7 258.0,168.3 258.5,168.7 259.0,170.6 259.5,173.4 260.0,176.3 260.5,178.2 261.0,178.7 261.5,177.6 262.0,175.2 262.5,172.4 263.0,169.6 263.5,167.8 264.0,167.4 264.5,168.9 265.0,171.7 265.5,175.1 266.0,178.4 266.5,179.7 267.0,179.6 267.5,177.8 268.0,174.8 268.5,172.3 269.0,170.1 269.5,169.0 270.0,169.4 270.5,170.2 271.0,172.2 271.5,174.6 272.0,176.8 272.5,179.0 273.0,179.7 273.5,178.9 274.0,176.8 274.5,173.4 275.0,170.3 275.5,168.3 276.0,167.9 276.5,169.1 277.0,171.6 277.5,174.6 278.0,177.3 278.5,179.1 279.0,179.4 279.5,178.1 280.0,175.6 280.5,172.7 281.0,170.1 281.5,168.6 282.0,168.6 282.5,169.9 283.0,172.5 283.5,175.5 284.0,177.8 284.5,179.4 285.0,179.2 285.5,177.2 286.0,174.4 286.5,171.2 287.0,169.1 287.5,168.9 288.0,170.3 288.5,172.6 289.0,175.4 289.5,177.7 290.0,178.7 290.5,178.9 291.0,177.5 291.5,174.9 292.0,172.1 292.5,169.3 293.0,168.0 293.5,168.3 294.0,170.2 294.5,173.2 295.0,176.2 295.5,178.5 296.0,179.2 296.5,178.5 297.0,176.3 297.5,173.3 298.0,170.4 298.5,168.3 299.0,167.7 299.5,168.8 300.0,171.3 300.5,174.6 301.0,177.5 301.5,179.3 302.0,179.5 302.5,178.0 303.0,175.2 303.5,172.0 304.0,169.3 304.5,167.6 305.0,167.7 305.5,169.3 306.0,172.0 306.5,175.2 307.0,177.8 307.5,179.0 308.0,178.5 308.5,176.6 309.0,173.7 309.5,170.7 310.0,168.5 310.5,167.6 311.0,168.4 311.5,170.6 312.0,173.6 312.5,176.8 313.0,179.0 313.5,179.6 314.0,178.5 314.5,175.9 315.0,172.7 315.5,170.1 316.0,168.6 316.5,168.8 317.0,170.6 317.5,173.4 318.0,176.5 318.5,178.7 319.0,179.5 319.5,178.7 320.0,176.5 320.5,173.4 321.0,170.3 321.5,168.0 322.0,167.0 322.5,168.1 323.0,170.7 323.5,174.1 324.0,177.2 324.5,179.4 325.0,179.9 325.5,178.7 326.0,176.3 326.5,172.9 327.0,170.2 327.5,168.7 328.0,169.0 328.5,170.8 329.0,173.5 329.5,176.3 330.0,178.3 330.5,179.0 331.0,178.2 331.5,175.9 332.0,173.0 332.5,170.2 333.0,168.5 333.5,168.2 334.0,169.5 334.5,171.9 335.0,174.7 335.5,177.2 336.0,178.4 336.5,178.3 337.0,176.7 337.5,174.0 338.0,171.1 338.5,169.1 339.0,168.5 339.5,169.4 340.0,171.7 340.5,174.2 341.0,176.8 341.5,178.5 342.0,178.9 342.5,178.1 343.0,176.1 343.5,173.4 344.0,170.9 344.5,169.1 345.0,168.7 345.5,169.8 346.0,172.1 346.5,174.8 347.0,177.1 347.5,178.3 348.0,178.0 348.5,176.2 349.0,173.5 349.5,170.6 350.0,168.3 350.5,167.5 351.0,168.3 351.5,170.4 352.0,173.3 352.5,176.2 353.0,178.3 353.5,179.1 354.0,178.3 354.5,176.1 355.0,173.3 355.5,170.7 356.0,169.1 356.5,168.8 357.0,169.9 357.5,172.2 358.0,174.8 358.5,177.4 359.0,178.9 359.5,179.0 360.0,177.6 360.5,174.9 361.0,172.0 361.5,169.7 362.0,168.7 362.5,169.2 363.0,171.0 363.5,173.5 364.0,176.0 364.5,177.8 365.0,178.3 365.5,177.3 366.0,175.1 366.5,172.6 367.0,170.3 367.5,169.0 368.0,169.1 368.5,170.3 369.0,172.5 369.5,175.1 370.0,177.2 370.5,178.2 371.0,177.8 371.5,176.0 372.0,173.4 372.5,171.0 373.0,169.1 373.5,168.5 374.0,169.3 374.5,171.5 375.0,174.4 375.5,177.2 376.0,179.2 376.5,179.3 377.0,178.1 377.5,175.7 378.0,172.8 378.5,170.5 379.0,169.0 379.5,169.0 380.0,170.2 380.5,172.6 381.0,175.3 381.5,177.5 382.0,178.7 382.5,178.3 383.0,176.7 383.5,174.2 384.0,171.7 384.5,170.0 385.0,169.5 385.5,170.4 386.0,172.5 386.5,174.5 387.0,176.4 387.5,177.5 388.0,177.5 388.5,176.6 389.0,174.8 389.5,172.5 390.0,170.5 390.5,169.4 391.0,169.5 391.5,170.9 392.0,173.2 392.5,175.4 393.0,177.2 393.5,178.0 394.0,177.5 394.5,176.1 395.0,174.0 395.5,171.7 396.0,170.1 396.5,169.7 397.0,170.4 397.5,172.2 398.0,174.6 398.5,176.9 399.0,178.6 399.5,179.2 400.0,178.6 400.5,176.8 401.0,174.7 401.5,172.9 402.0,171.8 402.5,171.0 403.0,171.4 403.5,172.5 404.0,173.8 404.5,175.9 405.0,177.2 405.5,177.4 406.0,176.6 406.5,174.6 407.0,172.5 407.5,170.9 408.0,170.3 408.5,170.7 409.0,172.0 409.5,173.8 410.0,175.5 410.5,176.8 411.0,177.2 411.5,176.5 412.0,175.1 412.5,173.0 413.0,171.1 413.5,169.9 414.0,169.7 414.5,171.1 415.0,173.1 415.5,175.2 416.0,177.0 416.5,177.4 417.0,176.8 417.5,175.4 418.0,173.5 418.5,172.3 419.0,171.5 419.5,171.5 420.0,172.5 420.5,173.3 421.0,174.5 421.5,175.6 422.0,176.1 422.5,176.3 423.0,175.5 423.5,174.2 424.0,172.6 424.5,171.3 425.0,170.6 425.5,170.7 426.0,171.6 426.5,173.1 427.0,174.6 427.5,175.8 428.0,176.3 428.5,176.0 429.0,175.0 429.5,173.6 430.0,172.2 430.5,171.2 431.0,170.8 431.5,171.1 432.0,172.1 432.5,173.5 433.0,174.7 433.5,175.5 434.0,175.6 434.5,175.3 435.0,174.4 435.5,173.4 436.0,172.6 436.5,171.7 437.0,171.4 437.5,171.9 438.0,172.8 438.5,174.4 439.0,175.7 439.5,176.4 440.0,176.4 440.5,175.2 441.0,173.7 441.5,172.4 442.0,171.4 442.5,171.5 443.0,172.2 443.5,173.4 444.0,174.8 444.5,175.7 445.0,175.9 445.5,175.5 446.0,174.3 446.5,173.2 447.0,172.2 447.5,171.7 448.0,171.9 448.5,172.4 449.0,173.4 449.5,174.5 450.0,175.3 450.5,175.8 451.0,175.7 451.5,175.0 452.0,174.0 452.5,173.0 453.0,172.3 453.5,172.2 454.0,172.7 454.5,173.3 455.0,174.1 455.5,174.7 456.0,175.0 456.5,175.2 457.0,174.7 457.5,173.9 458.0,172.8 458.5,171.9 459.0,171.4 459.5,171.5 460.0,172.1 460.5,173.0 461.0,174.0 461.5,174.8 462.0,175.1 462.5,175.2 463.0,174.8 463.5,174.2 464.0,173.5 464.5,172.4 465.0,171.9 465.5,171.9 466.0,172.3 466.5,173.7 467.0,174.9 467.5,175.9 468.0,176.3 468.5,175.6 469.0,174.5 469.5,173.3 470.0,172.2 470.5,171.8 471.0,171.9 471.5,172.6 472.0,173.5 472.5,174.4 473.0,175.1 473.5,175.4 474.0,175.2 474.5,174.5 475.0,173.5 475.5,172.5 476.0,171.8 476.5,171.7 477.0,172.0 477.5,172.8 478.0,173.9 478.5,174.9 479.0,175.6 479.5,175.9 480.0,175.7 480.5,174.6 481.0,173.4 481.5,172.3 482.0,171.5 482.5,171.5 483.0,171.9 483.5,172.7 484.0,173.5 484.5,174.3 485.0,174.8 485.5,174.7 486.0,174.3 486.5,173.4 487.0,172.5 487.5,171.8 488.0,171.5 488.5,172.2 489.0,173.2 489.5,174.5 490.0,175.7 490.5,176.0 491.0,175.8 491.5,175.2 492.0,174.3 492.5,173.5 493.0,172.8 493.5,172.4 494.0,172.4 494.5,173.1 495.0,174.1 495.5,175.1 496.0,176.1 496.5,176.1 497.0,175.7 497.5,174.9 498.0,173.9 498.5,173.1 499.0,172.5 499.5,172.3 500.0,172.5 500.5,173.3 501.0,174.2 501.5,175.2 502.0,175.9 502.5,176.0 503.0,175.6 503.5,174.9 504.0,174.1 504.5,173.3 505.0,172.7 505.5,172.5 506.0,172.7 506.5,173.3 507.0,173.9 507.5,174.4 508.0,174.6 508.5,174.6 509.0,174.1 509.5,173.5 510.0,172.8 510.5,172.6 511.0,172.6 511.5,173.1 512.0,173.8 512.5,174.4 513.0,175.1 513.5,175.5 514.0,175.6 514.5,175.3 515.0,174.8 515.5,174.0 516.0,173.4 516.5,172.9 517.0,172.8 517.5,173.0 518.0,173.4 518.5,174.1 519.0,174.7 519.5,175.1 520.0,175.2 520.5,174.8 521.0,174.2 521.5,173.5 522.0,173.0 522.5,172.7 523.0,172.6 523.5,172.8 524.0,173.2 524.5,173.8 525.0,174.2 525.5,174.3 526.0,174.2 526.5,173.9 527.0,173.4 527.5,173.0 528.0,172.8 528.5,172.9 529.0,173.3 529.5,174.0 530.0,174.7 530.5,175.0 531.0,175.2 531.5,175.0 532.0,174.7 532.5,174.1 533.0,173.4 533.5,172.9 534.0,172.5 534.5,172.5 535.0,172.8 535.5,173.2 536.0,173.6 536.5,173.9 537.0,173.9 537.5,173.8 538.0,173.4 538.5,173.4 539.0,173.3 539.5,173.4 540.0,173.7 540.5,173.7 541.0,174.0 541.5,174.3 542.0,174.5 542.5,174.8 543.0,175.0 543.5,174.9 544.0,174.7 544.5,174.6 545.0,174.6 545.5,174.7 546.0,175.0 546.5,174.9 547.0,175.0 547.5,175.0 548.0,175.0 548.5,175.2 549.0,175.2 549.5,175.1 550.0,174.9 550.5,174.1 551.0,173.3 551.5,172.8 552.0,172.4 552.5,172.8 553.0,173.2 553.5,173.7 554.0,174.0 554.5,174.2 555.0,174.2 555.5,174.1 556.0,174.0 556.5,173.6 557.0,173.4 557.5,173.3 558.0,173.4 558.5,173.6 559.0,173.8 559.5,174.0 560.0,174.0 560.5,173.7 561.0,173.3 561.5,172.8 562.0,172.4 562.5,172.3 563.0,172.4 563.5,172.7 564.0,173.0 564.5,173.2 565.0,173.3 565.5,173.3 566.0,173.2 566.5,173.3 567.0,173.2 567.5,173.2 568.0,173.1 568.5,172.9 569.0,172.7"/>
<polyline stroke="#bb2222" stroke-width="1.7" points="64.0,141.4 64.5,131.5 65.0,133.9 65.5,147.9 66.0,169.3 66.5,191.9 67.0,209.3 67.5,216.3 68.0,211.0 68.5,195.0 69.0,172.8 69.5,150.9 70.0,135.7 70.5,131.5 71.0,139.4 71.5,156.7 72.0,178.7 72.5,199.1 73.0,212.4 73.5,214.8 74.0,205.8 74.5,188.0 75.0,166.3 75.5,146.9 76.0,135.0 76.5,133.9 77.0,143.8 77.5,162.1 78.0,183.8 78.5,202.8 79.0,213.9 79.5,213.8 80.0,202.5 80.5,183.1 81.0,160.9 81.5,142.2 82.0,132.2 82.5,134.3 83.0,148.4 83.5,169.8 84.0,191.9 84.5,208.0 85.0,213.4 85.5,206.7 86.0,190.3 86.5,169.3 87.0,150.2 87.5,138.7 88.0,137.8 88.5,147.9 89.0,166.4 89.5,187.3 90.0,204.1 90.5,211.4 91.0,206.7 91.5,191.5 92.0,170.5 92.5,150.4 93.0,137.5 93.5,136.1 94.0,145.4 94.5,162.5 95.0,182.6 95.5,200.2 96.0,210.5 96.5,210.7 97.0,200.7 97.5,183.5 98.0,163.6 98.5,146.6 99.0,137.1 99.5,137.6 100.0,148.1 100.5,165.6 101.0,185.3 101.5,201.9 102.0,210.7 102.5,209.4 103.0,198.3 103.5,180.5 104.0,160.8 104.5,144.7 105.0,136.5 105.5,138.8 106.0,150.6 106.5,168.6 107.0,187.8 107.5,203.0 108.0,210.0 108.5,207.0 109.0,195.0 109.5,177.3 110.0,158.9 110.5,144.7 111.0,138.7 111.5,142.4 112.0,154.6 112.5,171.7 113.0,189.0 113.5,201.7 114.0,206.5 114.5,202.3 115.0,190.5 115.5,174.4 116.0,158.5 116.5,147.2 117.0,143.3 117.5,147.5 118.0,159.3 118.5,175.4 119.0,191.2 119.5,202.2 120.0,205.1 120.5,199.0 121.0,185.6 121.5,168.6 122.0,152.9 122.5,143.0 123.0,142.1 123.5,151.0 124.0,166.6 124.5,184.2 125.0,198.3 125.5,204.7 126.0,201.5 126.5,190.0 127.0,173.8 127.5,157.8 128.0,146.9 128.5,144.4 129.0,150.5 129.5,163.0 130.0,178.4 130.5,192.1 131.0,200.3 131.5,200.8 132.0,193.7 132.5,181.0 133.0,166.6 133.5,154.5 134.0,148.1 134.5,149.0 135.0,156.9 135.5,169.5 136.0,183.4 136.5,194.4 137.0,199.5 137.5,197.3 138.0,188.3 138.5,175.1 139.0,161.7 139.5,151.7 140.0,148.0 140.5,151.9 141.0,161.9 141.5,175.1 142.0,187.7 142.5,196.1 143.0,198.0 143.5,193.0 144.0,182.6 144.5,169.9 145.0,158.5 145.5,151.7 146.0,151.2 146.5,157.1 147.0,167.7 147.5,179.8 148.0,190.1 148.5,195.6 149.0,194.8 149.5,188.0 150.0,177.3 150.5,165.7 151.0,156.6 151.5,152.4 152.0,154.4 152.5,162.1 153.0,173.2 153.5,184.3 154.0,192.3 154.5,194.7 155.0,190.9 155.5,182.1 156.0,170.9 156.5,160.6 157.0,154.3 157.5,153.8 158.0,159.1 158.5,168.4 159.0,179.0 159.5,187.9 160.0,192.5 160.5,191.7 161.0,185.8 161.5,176.7 162.0,167.0 162.5,159.5 163.0,156.2 163.5,157.9 164.0,163.9 164.5,172.4 165.0,181.0 165.5,187.4 166.0,189.8 166.5,187.8 167.0,182.0 167.5,174.2 168.0,166.4 168.5,161.0 169.0,159.2 169.5,161.6 170.0,167.6 170.5,175.3 171.0,182.3 171.5,186.4 172.0,186.6 172.5,182.9 173.0,176.6 173.5,169.6 174.0,164.2 174.5,161.8 175.0,163.0 175.5,167.2 176.0,173.1 176.5,179.1 177.0,183.4 177.5,184.9 178.0,183.2 178.5,178.8 179.0,173.2 179.5,167.8 180.0,164.3 180.5,163.5 181.0,165.8 181.5,170.4 182.0,176.0 182.5,180.8 183.0,183.4 183.5,183.0 184.0,179.8 184.5,174.8 185.0,169.6 185.5,165.7 186.0,164.3 186.5,165.8 187.0,169.6 187.5,174.5 188.0,179.1 188.5,182.0 189.0,182.4 189.5,180.3 190.0,176.3 190.5,171.7 191.0,167.8 191.5,165.8 192.0,166.2 192.5,169.0 193.0,173.3 193.5,177.6 194.0,180.5 194.5,181.2 195.0,179.4 195.5,175.8 196.0,171.7 196.5,168.4 197.0,166.9 197.5,167.6 198.0,170.0 198.5,173.4 199.0,176.8 199.5,179.2 200.0,180.0 200.5,179.0 201.0,176.6 201.5,173.4 202.0,170.5 202.5,168.6 203.0,168.2 203.5,169.4 204.0,171.7 204.5,174.4 205.0,176.7 205.5,178.1 206.0,178.2 206.5,177.1 207.0,175.1 207.5,173.0 208.0,171.3 208.5,170.4 209.0,170.4 209.5,171.4 210.0,173.0 210.5,174.7 211.0,176.0 211.5,176.6 212.0,176.3 212.5,175.3 213.0,174.0 213.5,172.7 214.0,171.8 214.5,171.6 215.0,172.0 215.5,172.8 216.0,173.9 216.5,174.9 217.0,175.5 217.5,175.5 218.0,175.1 218.5,174.3 219.0,173.3 219.5,172.6 220.0,172.3 220.5,172.3 221.0,172.8 221.5,173.4 222.0,174.1 222.5,174.7 223.0,175.0 223.5,174.9 224.0,174.6 224.5,174.1 225.0,173.6 225.5,173.2 226.0,173.0 226.5,173.1 227.0,173.3 227.5,173.6 228.0,173.8 228.5,173.8 229.0,173.8 229.5,173.6 230.0,173.5 230.5,173.6 231.0,173.8 231.5,174.1 232.0,174.4 232.5,174.7 233.0,174.7 233.5,174.4 234.0,173.9 234.5,173.2 235.0,172.6 235.5,172.3 236.0,172.3 236.5,172.7 237.0,173.4 237.5,174.4 238.0,175.2 238.5,175.7 239.0,175.8 239.5,175.3 240.0,174.3 240.5,173.2 241.0,172.1 241.5,171.3 242.0,171.2 242.5,171.9 243.0,173.4 243.5,175.1 244.0,176.5 244.5,177.0 245.0,176.3 245.5,174.6 246.0,172.5 246.5,170.7 247.0,169.9 247.5,170.4 248.0,171.9 248.5,174.0 249.0,176.1 249.5,177.6 250.0,178.0 250.5,177.2 251.0,175.4 251.5,173.0 252.0,170.8 252.5,169.3 253.0,169.2 253.5,170.5 254.0,173.0 254.5,175.8 255.0,178.0 255.5,178.7 256.0,177.7 256.5,175.4 257.0,172.4 257.5,169.9 258.0,168.6 258.5,169.1 259.0,170.8 259.5,173.5 260.0,176.2 260.5,178.3 261.0,179.1 261.5,178.4 262.0,176.3 262.5,173.5 263.0,170.7 263.5,168.7 264.0,168.2 264.5,169.3 265.0,171.6 265.5,174.5 266.0,177.2 266.5,179.0 267.0,179.4 267.5,178.1 268.0,175.7 268.5,172.7 269.0,170.0 269.5,168.3 270.0,168.1 270.5,169.5 271.0,172.0 271.5,175.0 272.0,177.6 272.5,179.3 273.0,179.4 273.5,178.0 274.0,175.5 274.5,172.5 275.0,169.9 275.5,168.2 276.0,168.1 276.5,169.5 277.0,172.0 277.5,175.0 278.0,177.6 278.5,179.3 279.0,179.4 279.5,178.0 280.0,175.5 280.5,172.5 281.0,169.9 281.5,168.2 282.0,168.1 282.5,169.7 283.0,172.6 283.5,175.8 284.0,178.4 284.5,179.5 285.0,178.8 285.5,176.4 286.0,173.3 286.5,170.2 287.0,168.3 287.5,168.1 288.0,169.6 288.5,172.2 289.0,175.3 289.5,177.9 290.0,179.4 290.5,179.2 291.0,177.5 291.5,174.7 292.0,171.6 292.5,169.1 293.0,168.0 293.5,168.5 294.0,170.5 294.5,173.4 295.0,176.5 295.5,178.7 296.0,179.5 296.5,178.7 297.0,176.5 297.5,173.4 298.0,170.5 298.5,168.5 299.0,168.0 299.5,169.1 300.0,171.6 300.5,174.7 301.0,177.5 301.5,179.2 302.0,179.4 302.5,177.9 303.0,175.3 303.5,172.2 304.0,169.6 304.5,168.2 305.0,168.3 305.5,170.1 306.0,172.8 306.5,175.9 307.0,178.3 307.5,179.4 308.0,178.9 308.5,176.9 309.0,174.1 309.5,171.1 310.0,168.9 310.5,168.1 311.0,169.0 311.5,171.2 312.0,174.2 312.5,177.1 313.0,178.9 313.5,179.3 314.0,178.0 314.5,175.4 315.0,172.4 315.5,169.8 316.0,168.3 316.5,168.5 317.0,170.2 317.5,172.9 318.0,175.8 318.5,178.1 319.0,179.2 319.5,178.7 320.0,176.8 320.5,174.0 321.0,171.2 321.5,169.1 322.0,168.3 322.5,169.1 323.0,171.4 323.5,174.4 324.0,177.1 324.5,178.9 325.0,179.0 325.5,177.6 326.0,175.0 326.5,172.0 327.0,169.5 327.5,168.4 328.0,168.9 328.5,170.8 329.0,173.5 329.5,176.4 330.0,178.4 330.5,179.1 331.0,178.2 331.5,176.0 332.0,173.2 332.5,170.5 333.0,168.8 333.5,168.5 334.0,169.8 334.5,172.2 335.0,175.0 335.5,177.5 336.0,178.9 336.5,178.8 337.0,177.2 337.5,174.6 338.0,171.8 338.5,169.5 339.0,168.5 339.5,169.1 340.0,170.9 340.5,173.6 341.0,176.4 341.5,178.3 342.0,178.9 342.5,178.0 343.0,175.9 343.5,173.1 344.0,170.6 344.5,168.9 345.0,168.7 345.5,169.9 346.0,172.3 346.5,175.1 347.0,177.4 347.5,178.7 348.0,178.6 348.5,177.0 349.0,174.5 349.5,171.8 350.0,169.6 350.5,168.7 351.0,169.2 351.5,171.1 352.0,173.7 352.5,176.4 353.0,178.2 353.5,178.8 354.0,177.8 354.5,175.7 355.0,173.1 355.5,170.6 356.0,169.1 356.5,168.9 357.0,170.1 357.5,172.4 358.0,175.1 358.5,177.4 359.0,178.6 359.5,178.4 360.0,176.8 360.5,174.4 361.0,171.8 361.5,169.7 362.0,168.9 362.5,169.4 363.0,171.3 363.5,173.8 364.0,176.3 364.5,178.1 365.0,178.6 365.5,177.7 366.0,175.6 366.5,173.0 367.0,170.6 367.5,169.2 368.0,169.1 368.5,170.3 369.0,172.6 369.5,175.1 370.0,177.3 370.5,178.4 371.0,178.2 371.5,176.6 372.0,174.3 372.5,171.8 373.0,169.8 373.5,169.1 374.0,169.7 374.5,171.4 375.0,173.9 375.5,176.3 376.0,177.9 376.5,178.4 377.0,177.4 377.5,175.4 378.0,173.0 378.5,170.7 379.0,169.4 379.5,169.3 380.0,170.5 380.5,172.7 381.0,175.2 381.5,177.2 382.0,178.2 382.5,178.0 383.0,176.5 383.5,174.2 384.0,171.8 384.5,170.0 385.0,169.3 385.5,169.9 386.0,171.6 386.5,174.0 387.0,176.2 387.5,177.7 388.0,178.1 388.5,177.2 389.0,175.3 389.5,172.9 390.0,170.9 390.5,169.7 391.0,169.6 391.5,170.8 392.0,172.8 392.5,175.1 393.0,176.9 393.5,177.8 394.0,177.5 394.5,176.1 395.0,174.1 395.5,171.9 396.0,170.3 396.5,169.7 397.0,170.3 397.5,171.9 398.0,174.0 398.5,176.0 399.0,177.3 399.5,177.6 400.0,176.7 400.5,175.0 401.0,173.0 401.5,171.2 402.0,170.1 402.5,170.1 403.0,171.2 403.5,173.0 404.0,175.0 404.5,176.6 405.0,177.4 405.5,177.1 406.0,175.8 406.5,174.0 407.0,172.1 407.5,170.7 408.0,170.2 408.5,170.8 409.0,172.2 409.5,174.0 410.0,175.8 410.5,176.9 411.0,177.1 411.5,176.3 412.0,174.8 412.5,173.0 413.0,171.5 413.5,170.6 414.0,170.6 414.5,171.6 415.0,173.2 415.5,174.9 416.0,176.3 416.5,176.9 417.0,176.6 417.5,175.5 418.0,173.9 418.5,172.3 419.0,171.1 419.5,170.7 420.0,171.2 420.5,172.5 421.0,174.0 421.5,175.5 422.0,176.5 422.5,176.6 423.0,175.9 423.5,174.6 424.0,173.1 424.5,171.8 425.0,171.0 425.5,171.1 426.0,172.0 426.5,173.3 427.0,174.8 427.5,175.9 428.0,176.4 428.5,176.1 429.0,175.2 429.5,173.8 430.0,172.5 430.5,171.5 431.0,171.2 431.5,171.7 432.0,172.7 432.5,174.0 433.0,175.3 433.5,176.0 434.0,176.1 434.5,175.5 435.0,174.4 435.5,173.2 436.0,172.1 436.5,171.5 437.0,171.6 437.5,172.3 438.0,173.5 438.5,174.7 439.0,175.7 439.5,176.0 440.0,175.7 440.5,174.7 441.0,173.5 441.5,172.4 442.0,171.6 442.5,171.6 443.0,172.2 443.5,173.4 444.0,174.6 444.5,175.6 445.0,175.9 445.5,175.6 446.0,174.6 446.5,173.4 447.0,172.3 447.5,171.7 448.0,171.7 448.5,172.4 449.0,173.5 449.5,174.6 450.0,175.5 450.5,175.8 451.0,175.6 451.5,174.8 452.0,173.7 452.5,172.6 453.0,171.9 453.5,171.7 454.0,172.1 454.5,173.0 455.0,174.1 455.5,175.0 456.0,175.6 456.5,175.7 457.0,175.2 457.5,174.3 458.0,173.2 458.5,172.3 459.0,171.9 459.5,171.9 460.0,172.5 460.5,173.5 461.0,174.5 461.5,175.3 462.0,175.6 462.5,175.4 463.0,174.8 463.5,173.8 464.0,172.8 464.5,172.1 465.0,171.9 465.5,172.2 466.0,173.0 466.5,173.9 467.0,174.9 467.5,175.4 468.0,175.5 468.5,175.1 469.0,174.3 469.5,173.3 470.0,172.5 470.5,172.0 471.0,172.1 471.5,172.6 472.0,173.4 472.5,174.4 473.0,175.1 473.5,175.5 474.0,175.3 474.5,174.7 475.0,173.8 475.5,172.9 476.0,172.3 476.5,172.1 477.0,172.3 477.5,173.0 478.0,173.9 478.5,174.7 479.0,175.3 479.5,175.4 480.0,175.0 480.5,174.3 481.0,173.4 481.5,172.7 482.0,172.2 482.5,172.2 483.0,172.6 483.5,173.4 484.0,174.3 484.5,175.0 485.0,175.3 485.5,175.2 486.0,174.7 486.5,173.9 487.0,173.1 487.5,172.5 488.0,172.2 488.5,172.4 489.0,173.0 489.5,173.8 490.0,174.6 490.5,175.1 491.0,175.2 491.5,174.9 492.0,174.3 492.5,173.5 493.0,172.8 493.5,172.4 494.0,172.3 494.5,172.7 495.0,173.4 495.5,174.2 496.0,174.8 496.5,175.1 497.0,175.1 497.5,174.6 498.0,173.9 498.5,173.2 499.0,172.6 499.5,172.4 500.0,172.6 500.5,173.1 501.0,173.8 501.5,174.5 502.0,174.9 502.5,175.1 503.0,174.8 503.5,174.3 504.0,173.6 504.5,172.9 505.0,172.5 505.5,172.5 506.0,172.8 506.5,173.4 507.0,174.1 507.5,174.7 508.0,175.0 508.5,174.9 509.0,174.5 509.5,173.9 510.0,173.3 510.5,172.8 511.0,172.6 511.5,172.7 512.0,173.1 512.5,173.7 513.0,174.3 513.5,174.8 514.0,174.9 514.5,174.7 515.0,174.2 515.5,173.6 516.0,173.1 516.5,172.7 517.0,172.7 517.5,172.9 518.0,173.4 518.5,174.0 519.0,174.5 519.5,174.8 520.0,174.8 520.5,174.5 521.0,173.9 521.5,173.4 522.0,172.9 522.5,172.7 523.0,172.8 523.5,173.2 524.0,173.7 524.5,174.2 525.0,174.6 525.5,174.7 526.0,174.6 526.5,174.2 527.0,173.7 527.5,173.2 528.0,172.9 528.5,172.8 529.0,173.0 529.5,173.4 530.0,173.9 530.5,174.4 531.0,174.6 531.5,174.6 532.0,174.3 532.5,173.9 533.0,173.5 533.5,173.1 534.0,172.9 534.5,173.0 535.0,173.3 535.5,173.7 536.0,174.1 536.5,174.4 537.0,174.5 537.5,174.4 538.0,174.1 538.5,173.7 539.0,173.3 539.5,173.1 540.0,173.0 540.5,173.2 541.0,173.5 541.5,173.9 542.0,174.2 542.5,174.4 543.0,174.4 543.5,174.2 544.0,173.9 544.5,173.6 545.0,173.3 545.5,173.1 546.0,173.2 546.5,173.4 547.0,173.7 547.5,174.0 548.0,174.3 548.5,174.4 549.0,174.3 549.5,174.1 550.0,173.7 550.5,173.4 551.0,173.2 551.5,173.2 552.0,173.3 552.5,173.5 553.0,173.8 553.5,174.1 554.0,174.3 554.5,174.3 555.0,174.2 555.5,173.9 556.0,173.6 556.5,173.4 557.0,173.2 557.5,173.2 558.0,173.4 558.5,173.7 559.0,174.0 559.5,174.2 560.0,174.3 560.5,174.2 561.0,174.0 561.5,173.8 562.0,173.5 562.5,173.3 563.0,173.3 563.5,173.4 564.0,173.6 564.5,173.8 565.0,174.0 565.5,174.2 566.0,174.2 566.5,174.1 567.0,173.9 567.5,173.6 568.0,173.4 568.5,173.3 569.0,173.3"/>
</g>
<text x="479" y="144" font-size="17" text-anchor="middle">(b)</text>
<g clip-path="url(#cc)" fill="none" stroke-linejoin="round">
<polyline stroke="#3c3c3c" stroke-width="2.1" points="64.0,250.9 64.5,242.2 65.0,244.3 65.5,256.4 66.0,275.0 66.5,294.7 67.0,309.7 67.5,315.7 68.0,311.2 68.5,297.2 69.0,277.9 69.5,258.9 70.0,245.8 70.5,242.2 71.0,248.9 71.5,264.0 72.0,283.1 72.5,301.0 73.0,313.1 73.5,315.6 74.0,307.8 74.5,291.8 75.0,272.2 75.5,254.9 76.0,244.3 76.5,243.4 77.0,252.3 77.5,268.6 78.0,287.9 78.5,305.0 79.0,314.8 79.5,314.4 80.0,304.2 80.5,287.0 81.0,267.6 81.5,251.2 82.0,242.6 82.5,244.5 83.0,256.7 83.5,275.5 84.0,295.0 84.5,309.4 85.0,314.3 85.5,308.5 86.0,294.1 86.5,275.3 87.0,257.9 87.5,247.2 88.0,246.2 88.5,255.3 89.0,272.0 89.5,291.1 90.0,306.7 90.5,313.6 91.0,309.2 91.5,295.0 92.0,275.6 92.5,257.4 93.0,245.7 93.5,244.4 94.0,252.9 94.5,268.6 95.0,286.7 95.5,302.7 96.0,312.4 96.5,313.3 97.0,304.7 97.5,288.7 98.0,269.9 98.5,253.5 99.0,244.1 99.5,244.3 100.0,254.2 100.5,271.1 101.0,290.1 101.5,305.8 102.0,313.9 102.5,312.5 103.0,302.0 103.5,285.2 104.0,266.5 104.5,251.1 105.0,243.4 105.5,246.0 106.0,257.5 106.5,274.2 107.0,291.4 107.5,304.9 108.0,311.4 108.5,309.1 109.0,298.7 109.5,282.9 110.0,266.5 110.5,253.8 111.0,248.5 111.5,251.2 112.0,261.2 112.5,276.2 113.0,292.1 113.5,304.7 114.0,310.0 114.5,306.1 115.0,294.3 115.5,278.0 116.0,262.1 116.5,250.4 117.0,246.1 117.5,251.0 118.0,263.3 118.5,279.5 119.0,294.9 119.5,305.3 120.0,308.1 120.5,302.5 121.0,290.0 121.5,274.5 122.0,260.6 122.5,252.0 123.0,251.1 123.5,258.8 124.0,272.6 124.5,287.9 125.0,299.7 125.5,304.8 126.0,301.9 126.5,292.1 127.0,278.6 127.5,265.3 128.0,256.3 128.5,254.2 129.0,259.1 129.5,269.5 130.0,282.3 130.5,294.3 131.0,301.8 131.5,302.6 132.0,296.5 132.5,285.1 133.0,271.8 133.5,260.3 134.0,254.1 134.5,255.3 135.0,263.2 135.5,275.0 136.0,287.4 136.5,297.2 137.0,301.8 137.5,299.7 138.0,291.6 138.5,280.2 139.0,269.0 139.5,261.1 140.0,258.6 140.5,261.2 141.0,268.6 141.5,279.1 142.0,290.0 142.5,297.7 143.0,300.0 143.5,296.2 144.0,287.5 144.5,276.2 145.0,265.6 145.5,258.6 146.0,257.3 146.5,262.4 147.0,272.6 147.5,284.6 148.0,294.9 148.5,300.4 149.0,299.7 149.5,292.7 150.0,281.5 150.5,269.6 151.0,260.7 151.5,256.9 152.0,259.4 152.5,267.6 153.0,278.8 153.5,289.7 154.0,296.9 154.5,298.4 155.0,294.3 155.5,285.8 156.0,275.6 156.5,266.8 157.0,261.9 157.5,261.7 158.0,265.8 158.5,273.4 159.0,283.1 159.5,291.7 160.0,296.7 160.5,296.7 161.0,291.6 161.5,282.7 162.0,272.7 162.5,264.0 163.0,259.4 163.5,260.2 164.0,267.3 164.5,277.0 165.0,286.7 165.5,293.4 166.0,295.6 166.5,293.3 167.0,287.3 167.5,279.4 168.0,271.9 168.5,266.9 169.0,265.6 169.5,268.0 170.0,273.5 170.5,280.3 171.0,286.7 171.5,290.9 172.0,291.3 172.5,287.9 173.0,281.9 173.5,274.9 174.0,268.8 174.5,265.5 175.0,266.0 175.5,270.1 176.0,276.2 176.5,282.4 177.0,287.9 177.5,290.1 178.0,288.6 178.5,284.3 179.0,278.6 179.5,271.9 180.0,267.0 180.5,265.9 181.0,269.2 181.5,274.7 182.0,281.2 182.5,286.8 183.0,290.2 183.5,289.1 184.0,285.0 184.5,279.2 185.0,273.5 185.5,269.2 186.0,267.7 186.5,269.5 187.0,274.1 187.5,279.6 188.0,284.5 188.5,287.5 189.0,287.8 189.5,285.7 190.0,281.4 190.5,276.9 191.0,273.1 191.5,270.7 192.0,270.3 192.5,273.0 193.0,277.1 193.5,281.4 194.0,284.0 194.5,284.7 195.0,283.1 195.5,279.2 196.0,274.5 196.5,273.0 197.0,273.1 197.5,274.0 198.0,274.9 198.5,276.7 199.0,279.7 199.5,282.3 200.0,283.6 200.5,283.7 201.0,282.6 201.5,280.4 202.0,278.2 202.5,276.8 203.0,275.8 203.5,275.8 204.0,276.6 204.5,277.9 205.0,279.0 205.5,280.8 206.0,281.6 206.5,280.7 207.0,278.1 207.5,275.2 208.0,273.1 208.5,272.5 209.0,273.7 209.5,277.1 210.0,280.9 210.5,283.1 211.0,282.8 211.5,280.6 212.0,277.9 212.5,275.3 213.0,273.6 213.5,273.3 214.0,274.4 214.5,276.1 215.0,277.4 215.5,278.1 216.0,279.5 216.5,279.8 217.0,278.9 217.5,276.9 218.0,274.9 218.5,273.2 219.0,272.5 219.5,273.6 220.0,277.0 220.5,280.5 221.0,282.7 221.5,283.3 222.0,282.7 222.5,280.8 223.0,278.2 223.5,275.7 224.0,274.2 224.5,273.5 225.0,273.2 225.5,273.9 226.0,275.6 226.5,278.4 227.0,280.6 227.5,281.7 228.0,281.5 228.5,280.6 229.0,276.6 229.5,273.1 230.0,271.6 230.5,272.7 231.0,274.6 231.5,277.6 232.0,280.7 232.5,282.7 233.0,281.8 233.5,279.8 234.0,278.1 234.5,276.7 235.0,275.5 235.5,275.2 236.0,276.0 236.5,277.2 237.0,278.3 237.5,279.8 238.0,281.6 238.5,282.6 239.0,282.3 239.5,279.8 240.0,276.6 240.5,274.9 241.0,274.5 241.5,274.9 242.0,274.8 242.5,275.9 243.0,278.1 243.5,280.5 244.0,282.2 244.5,282.7 245.0,281.7 245.5,279.6 246.0,277.1 246.5,275.0 247.0,273.8 247.5,273.9 248.0,275.3 248.5,277.8 249.0,280.3 249.5,282.1 250.0,282.8 250.5,281.5 251.0,279.5 251.5,277.2 252.0,275.3 252.5,274.1 253.0,274.4 253.5,275.9 254.0,278.1 254.5,280.2 255.0,282.5 255.5,283.3 256.0,282.1 256.5,279.6 257.0,276.9 257.5,275.5 258.0,275.8 258.5,277.0 259.0,277.1 259.5,277.4 260.0,278.6 260.5,280.2 261.0,280.9 261.5,280.8 262.0,279.8 262.5,277.3 263.0,273.6 263.5,270.8 264.0,270.2 264.5,271.4 265.0,274.6 265.5,280.1 266.0,285.0 266.5,286.7 267.0,285.8 267.5,283.6 268.0,281.3 268.5,278.7 269.0,276.0 269.5,273.7 270.0,272.3 270.5,272.7 271.0,274.9 271.5,278.0 272.0,280.9 272.5,282.9 273.0,283.4 273.5,282.1 274.0,279.5 274.5,275.3 275.0,271.5 275.5,269.4 276.0,269.5 276.5,271.1 277.0,275.1 277.5,279.9 278.0,283.9 278.5,285.6 279.0,285.5 279.5,282.3 280.0,277.0 280.5,271.7 281.0,271.2 281.5,272.1 282.0,273.8 282.5,275.5 283.0,278.0 283.5,280.4 284.0,281.8 284.5,282.1 285.0,281.3 285.5,279.8 286.0,277.4 286.5,274.7 287.0,272.4 287.5,271.8 288.0,272.7 288.5,275.0 289.0,278.4 289.5,282.0 290.0,283.9 290.5,284.1 291.0,282.2 291.5,279.1 292.0,275.3 292.5,271.3 293.0,268.7 293.5,268.6 294.0,272.7 294.5,278.3 295.0,283.9 295.5,287.0 296.0,288.0 296.5,286.0 297.0,282.3 297.5,277.7 298.0,272.7 298.5,269.2 299.0,269.1 299.5,272.0 300.0,276.2 300.5,281.0 301.0,285.3 301.5,287.4 302.0,286.5 302.5,283.6 303.0,279.8 303.5,275.8 304.0,272.5 304.5,270.6 305.0,270.7 305.5,273.5 306.0,278.2 306.5,283.0 307.0,284.7 307.5,284.5 308.0,282.6 308.5,279.4 309.0,275.3 309.5,272.3 310.0,271.0 310.5,271.8 311.0,273.5 311.5,276.4 312.0,279.1 312.5,280.9 313.0,281.5 313.5,281.7 314.0,280.3 314.5,278.1 315.0,275.6 315.5,272.9 316.0,271.2 316.5,271.3 317.0,273.0 317.5,275.5 318.0,278.5 318.5,281.7 319.0,283.9 319.5,284.1 320.0,281.8 320.5,278.4 321.0,275.3 321.5,273.4 322.0,273.1 322.5,273.8 323.0,275.8 323.5,278.5 324.0,281.4 324.5,283.0 325.0,282.2 325.5,279.1 326.0,275.0 326.5,273.9 327.0,273.5 327.5,273.4 328.0,273.4 328.5,274.5 329.0,276.7 329.5,278.7 330.0,280.0 330.5,281.0 331.0,281.0 331.5,279.2 332.0,276.2 332.5,273.3 333.0,273.4 333.5,274.8 334.0,276.3 334.5,277.2 335.0,278.9 335.5,281.2 336.0,282.4 336.5,282.3 337.0,282.3 337.5,281.4 338.0,278.9 338.5,276.2 339.0,274.9 339.5,274.6 340.0,275.4 340.5,277.3 341.0,280.2 341.5,282.4 342.0,283.3 342.5,282.8 343.0,281.0 343.5,278.1 344.0,275.4 344.5,273.8 345.0,273.7 345.5,275.3 346.0,277.1 346.5,279.1 347.0,280.8 347.5,281.8 348.0,281.2 348.5,279.7 349.0,277.5 349.5,275.6 350.0,274.4 350.5,274.4 351.0,275.4 351.5,277.1 352.0,279.4 352.5,281.0 353.0,281.7 353.5,281.4 354.0,280.4 354.5,278.2 355.0,275.1 355.5,272.7 356.0,271.7 356.5,272.4 357.0,274.3 357.5,277.1 358.0,280.2 358.5,283.0 359.0,284.1 359.5,284.2 360.0,282.9 360.5,279.9 361.0,276.4 361.5,274.0 362.0,273.1 362.5,273.7 363.0,276.0 363.5,279.0 364.0,281.9 364.5,283.8 365.0,284.4 365.5,282.2 366.0,279.4 366.5,277.0 367.0,275.7 367.5,275.1 368.0,275.3 368.5,276.2 369.0,277.6 369.5,279.0 370.0,280.2 370.5,280.7 371.0,280.4 371.5,279.3 372.0,278.0 372.5,276.6 373.0,275.5 373.5,274.7 374.0,274.6 374.5,275.5 375.0,276.7 375.5,278.0 376.0,278.9 376.5,279.2 377.0,278.7 377.5,277.6 378.0,275.7 378.5,274.3 379.0,273.5 379.5,273.7 380.0,274.9 380.5,277.4 381.0,279.9 381.5,281.6 382.0,282.2 382.5,282.0 383.0,280.6 383.5,277.9 384.0,275.0 384.5,273.0 385.0,272.4 385.5,273.0 386.0,275.1 386.5,278.2 387.0,281.0 387.5,282.7 388.0,283.4 388.5,282.9 389.0,280.0 389.5,277.0 390.0,275.6 390.5,274.8 391.0,274.8 391.5,274.8 392.0,276.0 392.5,278.5 393.0,281.9 393.5,284.4 394.0,283.2 394.5,279.7 395.0,275.5 395.5,273.2 396.0,271.9 396.5,272.0 397.0,273.6 397.5,276.2 398.0,278.8 398.5,281.1 399.0,282.2 399.5,281.9 400.0,280.5 400.5,278.9 401.0,277.2 401.5,275.8 402.0,275.0 402.5,275.2 403.0,276.5 403.5,278.6 404.0,280.8 404.5,280.7 405.0,279.8 405.5,279.0 406.0,278.9 406.5,278.5 407.0,277.5 407.5,276.5 408.0,276.0 408.5,275.8 409.0,276.0 409.5,277.4 410.0,279.5 410.5,282.1 411.0,281.3 411.5,280.0 412.0,279.0 412.5,278.8 413.0,278.2 413.5,277.2 414.0,276.6 414.5,276.5 415.0,276.9 415.5,277.8 416.0,279.3 416.5,280.9 417.0,281.8 417.5,280.3 418.0,278.1 418.5,276.3 419.0,275.8 419.5,276.0 420.0,276.3 420.5,277.6 421.0,279.4 421.5,281.1 422.0,282.1 422.5,281.9 423.0,280.4 423.5,278.2 424.0,276.1 424.5,274.4 425.0,274.0 425.5,275.4 426.0,277.6 426.5,280.0 427.0,282.1 427.5,283.1 428.0,281.4 428.5,278.7 429.0,277.1 429.5,276.6 430.0,276.6 430.5,275.4 431.0,274.8 431.5,275.3 432.0,277.0 432.5,278.3 433.0,279.0 433.5,279.4 434.0,279.8 434.5,280.0 435.0,280.3 435.5,279.7 436.0,278.4 436.5,276.6 437.0,275.4 437.5,274.8 438.0,275.3 438.5,277.1 439.0,279.3 439.5,280.1 440.0,280.0 440.5,278.5 441.0,276.3 441.5,274.0 442.0,273.3 442.5,274.3 443.0,276.2 443.5,278.2 444.0,280.3 444.5,281.8 445.0,282.1 445.5,281.5 446.0,280.6 446.5,279.7 447.0,278.8 447.5,277.8 448.0,277.3 448.5,277.6 449.0,278.3 449.5,279.1 450.0,280.2 450.5,281.2 451.0,281.3 451.5,280.0 452.0,278.2 452.5,278.5 453.0,279.4 453.5,280.1 454.0,279.1 454.5,278.7 455.0,278.1 455.5,277.2 456.0,276.2 456.5,277.4 457.0,278.1 457.5,278.0 458.0,277.3 458.5,276.5 459.0,275.6 459.5,275.1 460.0,275.0 460.5,274.8 461.0,275.2 461.5,276.7 462.0,278.6 462.5,279.8 463.0,279.8 463.5,279.0 464.0,277.8 464.5,277.0 465.0,276.7 465.5,276.3 466.0,276.7 466.5,277.7 467.0,279.6 467.5,280.9 468.0,281.2 468.5,280.5 469.0,279.4 469.5,278.3 470.0,277.6 470.5,277.4 471.0,277.1 471.5,276.9 472.0,277.4 472.5,278.2 473.0,279.1 473.5,279.2 474.0,279.2 474.5,279.9 475.0,280.9 475.5,280.8 476.0,278.8 476.5,277.4 477.0,276.6 477.5,276.0 478.0,275.5 478.5,276.5 479.0,277.4 479.5,277.4 480.0,275.6 480.5,274.9 481.0,275.0 481.5,275.6 482.0,276.1 482.5,276.2 483.0,275.9 483.5,275.7 484.0,275.8 484.5,276.2 485.0,277.8 485.5,279.8 486.0,281.1 486.5,280.4 487.0,279.3 487.5,278.4 488.0,277.8 488.5,277.4 489.0,278.1 489.5,279.3 490.0,280.2 490.5,280.0 491.0,279.7 491.5,280.2 492.0,280.6 492.5,280.8 493.0,280.7 493.5,280.5 494.0,279.4 494.5,277.9 495.0,276.4 495.5,276.5 496.0,277.1 496.5,278.3 497.0,279.7 497.5,280.9 498.0,281.3 498.5,280.9 499.0,279.9 499.5,278.1 500.0,276.5 500.5,276.0 501.0,276.2 501.5,276.9 502.0,278.0 502.5,279.1 503.0,279.9 503.5,280.3 504.0,280.3 504.5,280.2 505.0,279.8 505.5,278.7 506.0,277.4 506.5,276.7 507.0,276.7 507.5,277.1 508.0,277.3 508.5,277.4 509.0,277.0 509.5,276.5 510.0,276.5 510.5,277.3 511.0,278.2 511.5,279.3 512.0,280.2 512.5,280.1 513.0,279.4 513.5,278.7 514.0,277.9 514.5,277.0 515.0,276.0 515.5,276.1 516.0,277.0 516.5,279.0 517.0,280.8 517.5,281.5 518.0,281.9 518.5,282.2 519.0,281.1 519.5,280.1 520.0,280.1 520.5,279.6 521.0,278.4 521.5,276.5 522.0,275.0 522.5,274.6 523.0,275.5 523.5,276.8 524.0,277.9 524.5,278.6 525.0,278.5 525.5,278.2 526.0,277.9 526.5,278.0 527.0,278.4 527.5,278.7 528.0,276.9 528.5,275.3 529.0,275.2 529.5,277.1 530.0,279.3 530.5,280.3 531.0,280.6 531.5,280.3 532.0,279.9 532.5,278.8 533.0,277.2 533.5,275.6 534.0,274.4 534.5,273.6 535.0,273.8 535.5,275.8 536.0,278.6 536.5,280.8 537.0,281.1 537.5,280.2 538.0,278.8 538.5,277.6 539.0,277.1 539.5,277.2 540.0,278.1 540.5,279.1 541.0,279.1 541.5,278.7 542.0,278.6 542.5,279.1 543.0,279.1 543.5,276.9 544.0,274.5 544.5,272.9 545.0,273.1 545.5,274.5 546.0,276.1 546.5,277.5 547.0,278.3 547.5,278.3 548.0,278.0 548.5,277.9 549.0,278.6 549.5,279.6 550.0,279.2 550.5,278.3 551.0,277.6 551.5,277.1 552.0,276.3 552.5,276.5 553.0,277.3 553.5,277.8 554.0,276.7 554.5,276.0 555.0,276.3 555.5,278.0 556.0,279.4 556.5,279.5 557.0,278.9 557.5,278.2 558.0,278.7 558.5,279.5 559.0,279.2 559.5,278.1 560.0,277.0 560.5,277.9 561.0,278.4 561.5,278.6 562.0,278.7 562.5,278.9 563.0,277.4 563.5,275.7 564.0,274.7 564.5,275.8 565.0,276.9 565.5,277.7 566.0,277.8 566.5,277.6 567.0,276.9 567.5,276.4 568.0,276.5 568.5,277.3 569.0,278.4"/>
<polyline stroke="#bb2222" stroke-width="1.7" points="64.0,251.4 64.5,243.1 65.0,245.2 65.5,257.0 66.0,275.0 66.5,294.1 67.0,308.7 67.5,314.6 68.0,310.1 68.5,296.6 69.0,278.0 69.5,259.7 70.0,247.1 70.5,243.6 71.0,250.1 71.5,264.5 72.0,282.9 72.5,300.1 73.0,311.3 73.5,313.5 74.0,305.9 74.5,290.9 75.0,272.5 75.5,255.9 76.0,245.7 76.5,244.7 77.0,253.2 77.5,268.8 78.0,287.3 78.5,303.5 79.0,312.9 79.5,312.7 80.0,303.1 80.5,286.7 81.0,267.9 81.5,252.1 82.0,243.8 82.5,245.6 83.0,257.4 83.5,275.5 84.0,294.2 84.5,308.0 85.0,312.8 85.5,307.2 86.0,293.1 86.5,274.9 87.0,258.1 87.5,247.9 88.0,247.1 88.5,256.0 89.0,272.2 89.5,290.6 90.0,305.3 90.5,311.6 91.0,307.4 91.5,294.1 92.0,275.9 92.5,258.5 93.0,247.4 93.5,246.1 94.0,254.1 94.5,268.9 95.0,286.4 95.5,301.9 96.0,311.1 96.5,311.4 97.0,302.7 97.5,287.4 98.0,269.6 98.5,254.2 99.0,245.5 99.5,245.9 100.0,255.4 100.5,271.3 101.0,289.2 101.5,304.2 102.0,312.2 102.5,311.0 103.0,300.9 103.5,284.8 104.0,266.9 104.5,252.3 105.0,244.9 105.5,247.1 106.0,257.9 106.5,274.1 107.0,291.1 107.5,304.3 108.0,310.2 108.5,307.4 109.0,296.9 109.5,281.7 110.0,266.1 110.5,254.3 111.0,249.5 111.5,252.3 112.0,262.3 112.5,276.9 113.0,292.1 113.5,303.8 114.0,308.7 114.5,305.3 115.0,294.5 115.5,279.2 116.0,263.7 116.5,252.0 117.0,247.8 117.5,252.5 118.0,264.5 118.5,280.2 119.0,295.2 119.5,305.0 120.0,307.2 120.5,301.2 121.0,289.0 121.5,274.1 122.0,260.9 122.5,253.0 123.0,252.6 123.5,259.9 124.0,272.8 124.5,287.2 125.0,298.6 125.5,303.8 126.0,301.2 126.5,291.8 127.0,278.6 127.5,265.7 128.0,256.9 128.5,255.0 129.0,259.7 129.5,269.8 130.0,282.5 130.5,294.1 131.0,301.4 131.5,302.2 132.0,296.2 132.5,285.1 133.0,272.0 133.5,260.8 134.0,254.6 134.5,255.4 135.0,263.0 135.5,274.7 136.0,287.2 136.5,296.8 137.0,301.0 137.5,298.8 138.0,290.8 138.5,279.7 139.0,268.6 139.5,260.7 140.0,258.1 140.5,261.1 141.0,269.0 141.5,279.6 142.0,290.0 142.5,297.2 143.0,299.0 143.5,295.0 144.0,286.2 144.5,275.2 145.0,265.0 145.5,258.7 146.0,258.1 146.5,263.3 147.0,272.9 147.5,284.1 148.0,293.8 148.5,299.1 149.0,298.6 149.5,292.2 150.0,281.9 150.5,270.6 151.0,261.5 151.5,257.3 152.0,259.3 152.5,267.1 153.0,277.9 153.5,288.4 154.0,295.4 154.5,297.2 155.0,293.5 155.5,285.6 156.0,276.1 156.5,267.8 157.0,263.1 157.5,263.1 158.0,267.1 158.5,274.2 159.0,282.8 159.5,290.5 160.0,294.9 160.5,294.6 161.0,289.7 161.5,281.3 162.0,271.9 162.5,264.0 163.0,260.2 163.5,261.5 164.0,268.0 164.5,277.0 165.0,286.0 165.5,292.4 166.0,294.7 166.5,292.5 167.0,286.6 167.5,278.8 168.0,271.4 168.5,266.4 169.0,264.9 169.5,267.2 170.0,272.7 170.5,279.9 171.0,286.5 171.5,290.6 172.0,291.0 172.5,287.5 173.0,281.2 173.5,274.2 174.0,268.6 174.5,266.0 175.0,267.2 175.5,271.6 176.0,277.8 176.5,283.9 177.0,288.3 177.5,289.7 178.0,287.9 178.5,283.5 179.0,277.8 179.5,272.6 180.0,269.2 180.5,268.5 181.0,270.8 181.5,275.2 182.0,280.5 182.5,285.2 183.0,287.8 183.5,287.5 184.0,284.4 184.5,279.4 185.0,274.1 185.5,270.1 186.0,268.6 186.5,270.0 187.0,274.0 187.5,279.1 188.0,283.7 188.5,286.5 189.0,286.7 189.5,284.5 190.0,280.7 190.5,276.4 191.0,272.9 191.5,271.2 192.0,271.7 192.5,274.3 193.0,277.9 193.5,281.4 194.0,283.9 194.5,284.4 195.0,282.9 195.5,279.9 196.0,276.5 196.5,273.8 197.0,272.6 197.5,273.2 198.0,275.2 198.5,277.9 199.0,280.6 199.5,282.4 200.0,282.9 200.5,282.0 201.0,279.9 201.5,277.4 202.0,275.4 202.5,274.5 203.0,274.7 203.5,276.0 204.0,277.9 204.5,279.6 205.0,280.8 205.5,281.1 206.0,280.5 206.5,279.2 207.0,277.5 207.5,276.1 208.0,275.3 208.5,275.4 209.0,276.4 209.5,277.9 210.0,279.5 210.5,280.5 211.0,280.7 211.5,280.0 212.0,278.7 212.5,277.2 213.0,276.0 213.5,275.5 214.0,275.9 214.5,277.0 215.0,278.4 215.5,279.6 216.0,280.3 216.5,280.2 217.0,279.4 217.5,278.1 218.0,276.7 218.5,275.8 219.0,275.6 219.5,276.2 220.0,277.4 220.5,278.7 221.0,279.8 221.5,280.3 222.0,280.1 222.5,279.3 223.0,278.1 223.5,276.9 224.0,276.0 224.5,275.7 225.0,276.0 225.5,277.0 226.0,278.2 226.5,279.3 227.0,280.0 227.5,280.2 228.0,279.6 228.5,278.6 229.0,277.4 229.5,276.4 230.0,275.8 230.5,275.8 231.0,276.5 231.5,277.6 232.0,278.8 232.5,279.8 233.0,280.2 233.5,280.0 234.0,279.1 234.5,278.0 235.0,276.8 235.5,275.9 236.0,275.7 236.5,276.1 237.0,277.0 237.5,278.3 238.0,279.4 238.5,280.1 239.0,280.2 239.5,279.6 240.0,278.6 240.5,277.4 241.0,276.3 241.5,275.7 242.0,275.6 242.5,276.4 243.0,277.7 243.5,279.1 244.0,280.1 244.5,280.3 245.0,279.8 245.5,278.5 246.0,277.1 246.5,275.9 247.0,275.5 247.5,275.8 248.0,276.8 248.5,278.1 249.0,279.3 249.5,280.2 250.0,280.4 250.5,280.0 251.0,278.9 251.5,277.5 252.0,276.3 252.5,275.5 253.0,275.5 253.5,276.2 254.0,277.6 254.5,279.1 255.0,280.2 255.5,280.6 256.0,280.0 256.5,278.8 257.0,277.3 257.5,275.9 258.0,275.3 258.5,275.5 259.0,276.5 259.5,277.8 260.0,279.2 260.5,280.3 261.0,280.7 261.5,280.3 262.0,279.2 262.5,277.8 263.0,276.4 263.5,275.5 264.0,275.2 264.5,275.7 265.0,276.9 265.5,278.3 266.0,279.7 266.5,280.6 267.0,280.7 267.5,280.1 268.0,278.9 268.5,277.4 269.0,276.1 269.5,275.2 270.0,275.1 270.5,275.8 271.0,277.1 271.5,278.6 272.0,279.9 272.5,280.7 273.0,280.8 273.5,280.1 274.0,278.9 274.5,277.3 275.0,276.0 275.5,275.1 276.0,275.0 276.5,275.7 277.0,277.0 277.5,278.6 278.0,280.0 278.5,280.9 279.0,280.9 279.5,280.2 280.0,278.9 280.5,277.3 281.0,275.9 281.5,275.0 282.0,274.9 282.5,275.8 283.0,277.3 283.5,279.1 284.0,280.5 284.5,281.1 285.0,280.7 285.5,279.4 286.0,277.7 286.5,276.0 287.0,274.9 287.5,274.8 288.0,275.6 288.5,277.1 289.0,278.8 289.5,280.3 290.0,281.2 290.5,281.1 291.0,280.1 291.5,278.5 292.0,276.7 292.5,275.3 293.0,274.6 293.5,274.9 294.0,276.0 294.5,277.8 295.0,279.5 295.5,280.9 296.0,281.4 296.5,280.9 297.0,279.6 297.5,277.8 298.0,276.0 298.5,274.8 299.0,274.5 299.5,275.2 300.0,276.6 300.5,278.5 301.0,280.2 301.5,281.3 302.0,281.4 302.5,280.5 303.0,278.9 303.5,277.0 304.0,275.4 304.5,274.5 305.0,274.6 305.5,275.7 306.0,277.4 306.5,279.3 307.0,280.8 307.5,281.5 308.0,281.1 308.5,279.9 309.0,278.1 309.5,276.3 310.0,274.9 310.5,274.4 311.0,274.9 311.5,276.4 312.0,278.2 312.5,280.0 313.0,281.2 313.5,281.4 314.0,280.6 314.5,279.0 315.0,277.1 315.5,275.4 316.0,274.5 316.5,274.6 317.0,275.7 317.5,277.4 318.0,279.3 318.5,280.8 319.0,281.5 319.5,281.1 320.0,279.9 320.5,278.1 321.0,276.3 321.5,275.0 322.0,274.5 322.5,275.0 323.0,276.5 323.5,278.3 324.0,280.1 324.5,281.1 325.0,281.2 325.5,280.3 326.0,278.7 326.5,276.9 327.0,275.4 327.5,274.7 328.0,275.0 328.5,276.2 329.0,277.8 329.5,279.5 330.0,280.7 330.5,281.1 331.0,280.6 331.5,279.3 332.0,277.6 332.5,276.1 333.0,275.1 333.5,274.9 334.0,275.6 334.5,277.0 335.0,278.7 335.5,280.1 336.0,280.9 336.5,280.8 337.0,279.9 337.5,278.4 338.0,276.9 338.5,275.6 339.0,275.1 339.5,275.4 340.0,276.4 340.5,277.9 341.0,279.4 341.5,280.4 342.0,280.8 342.5,280.3 343.0,279.1 343.5,277.6 344.0,276.2 344.5,275.3 345.0,275.2 345.5,275.9 346.0,277.2 346.5,278.7 347.0,279.9 347.5,280.6 348.0,280.5 348.5,279.7 349.0,278.3 349.5,276.9 350.0,275.8 350.5,275.3 351.0,275.6 351.5,276.5 352.0,277.9 352.5,279.3 353.0,280.3 353.5,280.6 354.0,280.1 354.5,279.0 355.0,277.6 355.5,276.3 356.0,275.5 356.5,275.4 357.0,276.1 357.5,277.3 358.0,278.7 358.5,279.8 359.0,280.4 359.5,280.3 360.0,279.5 360.5,278.3 361.0,276.9 361.5,275.9 362.0,275.5 362.5,275.8 363.0,276.7 363.5,278.0 364.0,279.3 364.5,280.1 365.0,280.4 365.5,279.9 366.0,278.9 366.5,277.6 367.0,276.4 367.5,275.7 368.0,275.6 368.5,276.2 369.0,277.4 369.5,278.6 370.0,279.7 370.5,280.3 371.0,280.1 371.5,279.4 372.0,278.2 372.5,277.0 373.0,276.0 373.5,275.6 374.0,275.9 374.5,276.8 375.0,278.0 375.5,279.2 376.0,280.0 376.5,280.2 377.0,279.7 377.5,278.8 378.0,277.6 378.5,276.5 379.0,275.8 379.5,275.8 380.0,276.4 380.5,277.4 381.0,278.6 381.5,279.6 382.0,280.1 382.5,280.0 383.0,279.2 383.5,278.2 384.0,277.0 384.5,276.2 385.0,275.8 385.5,276.1 386.0,276.9 386.5,278.0 387.0,279.1 387.5,279.8 388.0,280.0 388.5,279.6 389.0,278.7 389.5,277.6 390.0,276.6 390.5,276.0 391.0,276.0 391.5,276.6 392.0,277.5 392.5,278.6 393.0,279.5 393.5,279.9 394.0,279.8 394.5,279.1 395.0,278.1 395.5,277.1 396.0,276.3 396.5,276.0 397.0,276.3 397.5,277.1 398.0,278.1 398.5,279.0 399.0,279.7 399.5,279.8 400.0,279.4 400.5,278.6 401.0,277.6 401.5,276.7 402.0,276.2 402.5,276.2 403.0,276.7 403.5,277.6 404.0,278.6 404.5,279.4 405.0,279.7 405.5,279.6 406.0,279.0 406.5,278.1 407.0,277.1 407.5,276.4 408.0,276.2 408.5,276.5 409.0,277.2 409.5,278.1 410.0,279.0 410.5,279.5 411.0,279.6 411.5,279.2 412.0,278.5 412.5,277.6 413.0,276.8 413.5,276.4 414.0,276.4 414.5,276.9 415.0,277.7 415.5,278.5 416.0,279.2 416.5,279.5 417.0,279.4 417.5,278.8 418.0,278.0 418.5,277.2 419.0,276.6 419.5,276.4 420.0,276.7 420.5,277.3 421.0,278.1 421.5,278.9 422.0,279.4 422.5,279.4 423.0,279.1 423.5,278.4 424.0,277.6 424.5,276.9 425.0,276.5 425.5,276.6 426.0,277.0 426.5,277.7 427.0,278.5 427.5,279.1 428.0,279.4 428.5,279.2 429.0,278.7 429.5,278.0 430.0,277.3 430.5,276.8 431.0,276.6 431.5,276.8 432.0,277.4 432.5,278.1 433.0,278.8 433.5,279.2 434.0,279.2 434.5,278.9 435.0,278.3 435.5,277.6 436.0,277.0 436.5,276.7 437.0,276.8 437.5,277.2 438.0,277.8 438.5,278.5 439.0,279.0 439.5,279.2 440.0,279.0 440.5,278.5 441.0,277.8 441.5,277.2 442.0,276.8 442.5,276.8 443.0,277.2 443.5,277.7 444.0,278.4 444.5,278.9 445.0,279.1 445.5,278.9 446.0,278.4 446.5,277.8 447.0,277.2 447.5,276.9 448.0,276.9 448.5,277.3 449.0,277.8 449.5,278.4 450.0,278.8 450.5,279.0 451.0,278.9 451.5,278.5 452.0,277.9 452.5,277.4 453.0,277.0 453.5,277.0 454.0,277.2 454.5,277.6 455.0,278.1 455.5,278.6 456.0,278.8 456.5,278.9 457.0,278.6 457.5,278.2 458.0,277.7 458.5,277.3 459.0,277.1 459.5,277.1 460.0,277.4 460.5,277.8 461.0,278.3 461.5,278.6 462.0,278.8 462.5,278.7 463.0,278.4 463.5,278.0 464.0,277.5 464.5,277.2 465.0,277.1 465.5,277.3 466.0,277.6 466.5,278.0 467.0,278.4 467.5,278.7 468.0,278.7 468.5,278.5 469.0,278.2 469.5,277.8 470.0,277.4 470.5,277.2 471.0,277.2 471.5,277.4 472.0,277.8 472.5,278.2 473.0,278.5 473.5,278.7 474.0,278.6 474.5,278.4 475.0,278.0 475.5,277.6 476.0,277.3 476.5,277.3 477.0,277.4 477.5,277.6 478.0,278.0 478.5,278.3 479.0,278.6 479.5,278.6 480.0,278.5 480.5,278.2 481.0,277.8 481.5,277.5 482.0,277.3 482.5,277.3 483.0,277.5 483.5,277.8 484.0,278.1 484.5,278.4 485.0,278.5 485.5,278.5 486.0,278.3 486.5,278.0 487.0,277.7 487.5,277.5 488.0,277.4 488.5,277.5 489.0,277.7 489.5,278.0 490.0,278.3 490.5,278.4 491.0,278.5 491.5,278.4 492.0,278.1 492.5,277.9 493.0,277.6 493.5,277.5 494.0,277.5 494.5,277.6 495.0,277.8 495.5,278.1 496.0,278.3 496.5,278.4 497.0,278.4 497.5,278.2 498.0,278.0 498.5,277.8 499.0,277.6 499.5,277.5 500.0,277.6 500.5,277.7 501.0,278.0 501.5,278.2 502.0,278.3 502.5,278.4 503.0,278.3 503.5,278.1 504.0,277.9 504.5,277.7 505.0,277.6 505.5,277.5 506.0,277.6 506.5,277.8 507.0,278.1 507.5,278.2 508.0,278.4 508.5,278.3 509.0,278.2 509.5,278.0 510.0,277.8 510.5,277.6 511.0,277.6 511.5,277.6 512.0,277.7 512.5,277.9 513.0,278.1 513.5,278.3 514.0,278.3 514.5,278.3 515.0,278.1 515.5,277.9 516.0,277.7 516.5,277.6 517.0,277.6 517.5,277.7 518.0,277.8 518.5,278.0 519.0,278.2 519.5,278.3 520.0,278.3 520.5,278.2 521.0,278.0 521.5,277.8 522.0,277.7 522.5,277.6 523.0,277.6 523.5,277.8 524.0,277.9 524.5,278.1 525.0,278.2 525.5,278.3 526.0,278.2 526.5,278.1 527.0,277.9 527.5,277.8 528.0,277.6 528.5,277.6 529.0,277.7 529.5,277.8 530.0,278.0 530.5,278.2 531.0,278.3 531.5,278.3 532.0,278.2 532.5,278.0 533.0,277.8 533.5,277.7 534.0,277.6 534.5,277.7 535.0,277.8 535.5,277.9 536.0,278.1 536.5,278.2 537.0,278.2 537.5,278.2 538.0,278.1 538.5,277.9 539.0,277.8 539.5,277.7 540.0,277.7 540.5,277.7 541.0,277.8 541.5,278.0 542.0,278.1 542.5,278.2 543.0,278.2 543.5,278.1 544.0,278.0 544.5,277.9 545.0,277.7 545.5,277.7 546.0,277.7 546.5,277.8 547.0,277.9 547.5,278.1 548.0,278.2 548.5,278.2 549.0,278.2 549.5,278.1 550.0,277.9 550.5,277.8 551.0,277.7 551.5,277.7 552.0,277.8 552.5,277.9 553.0,278.0 553.5,278.1 554.0,278.2 554.5,278.2 555.0,278.1 555.5,278.0 556.0,277.9 556.5,277.8 557.0,277.7 557.5,277.7 558.0,277.8 558.5,277.9 559.0,278.0 559.5,278.1 560.0,278.2 560.5,278.1 561.0,278.1 561.5,278.0 562.0,277.8 562.5,277.8 563.0,277.8 563.5,277.8 564.0,277.9 564.5,278.0 565.0,278.1 565.5,278.1 566.0,278.1 566.5,278.1 567.0,278.0 567.5,277.9 568.0,277.8 568.5,277.8 569.0,277.8"/>
</g>
<g fill="none" stroke-width="2"><path d="M486.7,323.2V234.9H566" stroke="#7c7c7c" stroke-dasharray="5 4.7"/><path d="M566,234.9V323.2" stroke="#7c7c7c" stroke-dasharray="5 4.7"/><path d="M489.5,323.2H566" stroke="#c49aae" stroke-dasharray="3.6 6"/></g>
<g fill="none" stroke="#000" stroke-width="1.4">
<rect x="64.5" y="1.3" width="503.9" height="121.0"/>
<rect x="64.5" y="122.3" width="503.9" height="102.8"/>
<rect x="64.5" y="225.1" width="503.9" height="105.7"/>
<path d="M60.1,11.20H64.5"/>
<path d="M60.1,61.90H64.5"/>
<path d="M60.1,112.60H64.5"/>
<path d="M62.0,36.55H64.5"/>
<path d="M62.0,87.25H64.5"/>
<path d="M60.1,130.90H64.5"/>
<path d="M60.1,233.91H64.5"/>
<path d="M60.1,173.75H64.5"/>
<path d="M60.1,277.95H64.5"/>
<path d="M60.1,216.60H64.5"/>
<path d="M60.1,321.99H64.5"/>
<path d="M62.0,152.32H64.5"/>
<path d="M62.0,255.93H64.5"/>
<path d="M62.0,195.18H64.5"/>
<path d="M62.0,299.97H64.5"/>
<path d="M120.49,122.3v-3"/>
<path d="M120.49,225.1v-3"/>
<path d="M120.49,330.8v-3"/>
<path d="M176.48,122.3v-4"/>
<path d="M176.48,225.1v-4"/>
<path d="M176.48,330.8v-4"/>
<path d="M232.47,122.3v-3"/>
<path d="M232.47,225.1v-3"/>
<path d="M232.47,330.8v-3"/>
<path d="M288.46,122.3v-4"/>
<path d="M288.46,225.1v-4"/>
<path d="M288.46,330.8v-4"/>
<path d="M344.44,122.3v-3"/>
<path d="M344.44,225.1v-3"/>
<path d="M344.44,330.8v-3"/>
<path d="M400.43,122.3v-4"/>
<path d="M400.43,225.1v-4"/>
<path d="M400.43,330.8v-4"/>
<path d="M456.42,122.3v-3"/>
<path d="M456.42,225.1v-3"/>
<path d="M456.42,330.8v-3"/>
<path d="M512.41,122.3v-4"/>
<path d="M512.41,225.1v-4"/>
<path d="M512.41,330.8v-4"/>
</g>
<text x="57" y="16.70" font-size="17" text-anchor="end">33</text>
<text x="57" y="67.40" font-size="17" text-anchor="end">32</text>
<text x="57" y="118.10" font-size="17" text-anchor="end">31</text>
<text x="57" y="136.40" font-size="17" text-anchor="end">1</text>
<text x="57" y="239.41" font-size="17" text-anchor="end">1</text>
<text x="57" y="179.25" font-size="17" text-anchor="end">0</text>
<text x="57" y="283.45" font-size="17" text-anchor="end">0</text>
<text x="57" y="222.10" font-size="17" text-anchor="end">-1</text>
<text x="57" y="327.49" font-size="17" text-anchor="end">-1</text>
<text x="64.50" y="350.3" font-size="17" text-anchor="middle">0</text>
<text x="176.48" y="350.3" font-size="17" text-anchor="middle">20</text>
<text x="288.46" y="350.3" font-size="17" text-anchor="middle">40</text>
<text x="400.43" y="350.3" font-size="17" text-anchor="middle">60</text>
<text x="512.41" y="350.3" font-size="17" text-anchor="middle">80</text>
<text x="316.7" y="371" font-size="17.4" text-anchor="middle">coherence time τ (fs)</text>
<text transform="translate(20.9,130.3) rotate(-90)" font-size="17.5"><tspan class="s" font-size="23">ν</tspan><tspan font-size="14.2" dy="4.6" dx="-0.5">probe</tspan><tspan dy="-4.6" dx="-2"> (10</tspan><tspan font-size="13" dy="-7.5">3</tspan><tspan dy="7.5"> cm</tspan><tspan font-size="13" dy="-7.5">-1</tspan><tspan dy="7.5">)</tspan></text>
<text transform="translate(29.5,316) rotate(-90)" font-size="17.5">2D raw signal (norm.)</text>
<text class="s" x="166" y="211.5" font-size="22">ν</text>
<text x="177.6" y="216.6" font-size="14.2">probe</text>
<text x="216.8" y="211.3" font-size="17">=</text>
<text x="231.3" y="211.3" font-size="17">31,620</text>
<text x="288.6" y="211.3" font-size="17.3">cm</text>
<text x="311.5" y="203.5" font-size="12.5">-1</text>
<text class="s" x="166" y="316.0" font-size="22">ν</text>
<text x="177.6" y="321.1" font-size="14.2">probe</text>
<text x="216.8" y="315.8" font-size="17">=</text>
<text x="231.3" y="315.8" font-size="17">32,650</text>
<text x="288.6" y="315.8" font-size="17.3">cm</text>
<text x="311.5" y="308.0" font-size="12.5">-1</text>
<text x="426.2" y="258.3" font-size="17">S</text><text x="438.8" y="263.8" font-size="14.5">2D</text>
<text x="497" y="261.5" font-size="17">σ=0.067</text>
<text class="r" x="426.2" y="315" font-size="17">S</text><text class="r" x="438.3" y="306.5" font-size="13.5" font-weight="bold">r</text><text class="r" x="444.4" y="321.3" font-size="14.7">2D</text>
<text class="r" x="494" y="312.2" font-size="17">σ</text><text class="r" x="503.5" y="317.7" font-size="13" font-weight="bold">r</text><text class="r" x="509.6" y="312.2" font-size="17">=0.007</text>
</svg></body></html>
